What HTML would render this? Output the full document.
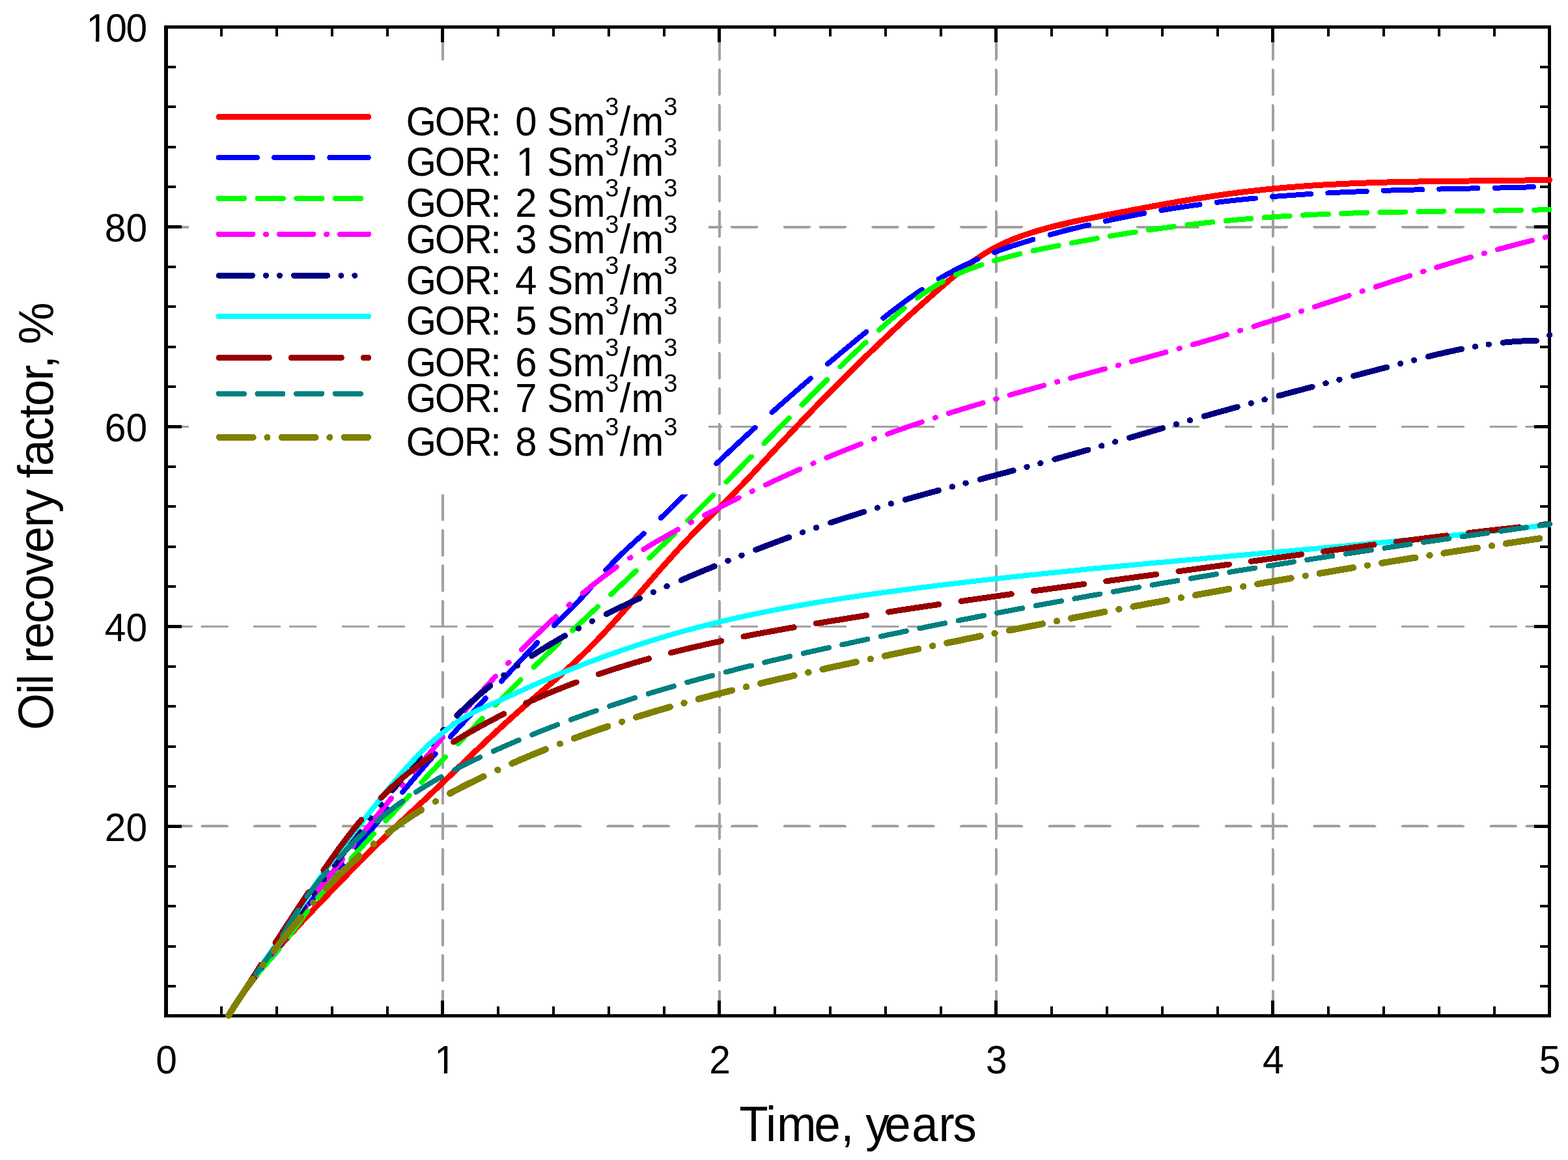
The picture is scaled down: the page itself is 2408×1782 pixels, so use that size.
<!DOCTYPE html>
<html><head><meta charset="utf-8"><title>Oil recovery factor vs time</title>
<style>
html,body{margin:0;padding:0;background:#fff;}
svg{display:block;}
text{font-family:"Liberation Sans",Arial,sans-serif;fill:#000;}
</style></head><body>
<svg width="2408" height="1782" viewBox="0 0 2408 1782">
<rect x="0" y="0" width="2408" height="1782" fill="#fff"/>

<g stroke="#a0a0a0" stroke-width="3.9" fill="none" stroke-linecap="round" shape-rendering="crispEdges">
<line x1="679.9" y1="1560.7" x2="679.9" y2="41.5" stroke-dasharray="38.3 16.13"/>
<line x1="1104.8" y1="1560.7" x2="1104.8" y2="41.5" stroke-dasharray="38.3 16.13"/>
<line x1="1529.7" y1="1560.7" x2="1529.7" y2="41.5" stroke-dasharray="38.3 16.13"/>
<line x1="1954.6" y1="1560.7" x2="1954.6" y2="41.5" stroke-dasharray="38.3 16.13"/>
<line x1="255.4" y1="1269.4" x2="2379.5" y2="1269.4" stroke-dasharray="38.5 16.5 38.5 42.1"/>
<line x1="255.4" y1="962.5" x2="2379.5" y2="962.5" stroke-dasharray="38.5 16.5 38.5 42.1"/>
<line x1="255.4" y1="655.5" x2="2379.5" y2="655.5" stroke-dasharray="38.5 16.5 38.5 42.1"/>
<line x1="255.4" y1="348.6" x2="2379.5" y2="348.6" stroke-dasharray="38.5 16.5 38.5 42.1"/>
</g>
<g fill="#000">
<rect x="252" y="39" width="6" height="1524"/>
<rect x="2377" y="39" width="5" height="1524"/>
<rect x="252" y="39" width="2130" height="5"/>
<rect x="252" y="1558" width="2130" height="5"/>
</g>
<g stroke="#000" fill="none" shape-rendering="crispEdges">
<line x1="340.0" y1="1558" x2="340.0" y2="1546" stroke-width="4"/>
<line x1="340.0" y1="44" x2="340.0" y2="56" stroke-width="4"/>
<line x1="425.0" y1="1558" x2="425.0" y2="1546" stroke-width="4"/>
<line x1="425.0" y1="44" x2="425.0" y2="56" stroke-width="4"/>
<line x1="509.9" y1="1558" x2="509.9" y2="1546" stroke-width="4"/>
<line x1="509.9" y1="44" x2="509.9" y2="56" stroke-width="4"/>
<line x1="594.9" y1="1558" x2="594.9" y2="1546" stroke-width="4"/>
<line x1="594.9" y1="44" x2="594.9" y2="56" stroke-width="4"/>
<line x1="679.9" y1="1558" x2="679.9" y2="1537" stroke-width="5"/>
<line x1="679.9" y1="44" x2="679.9" y2="65" stroke-width="5"/>
<line x1="764.9" y1="1558" x2="764.9" y2="1546" stroke-width="4"/>
<line x1="764.9" y1="44" x2="764.9" y2="56" stroke-width="4"/>
<line x1="849.9" y1="1558" x2="849.9" y2="1546" stroke-width="4"/>
<line x1="849.9" y1="44" x2="849.9" y2="56" stroke-width="4"/>
<line x1="934.8" y1="1558" x2="934.8" y2="1546" stroke-width="4"/>
<line x1="934.8" y1="44" x2="934.8" y2="56" stroke-width="4"/>
<line x1="1019.8" y1="1558" x2="1019.8" y2="1546" stroke-width="4"/>
<line x1="1019.8" y1="44" x2="1019.8" y2="56" stroke-width="4"/>
<line x1="1104.8" y1="1558" x2="1104.8" y2="1537" stroke-width="5"/>
<line x1="1104.8" y1="44" x2="1104.8" y2="65" stroke-width="5"/>
<line x1="1189.8" y1="1558" x2="1189.8" y2="1546" stroke-width="4"/>
<line x1="1189.8" y1="44" x2="1189.8" y2="56" stroke-width="4"/>
<line x1="1274.8" y1="1558" x2="1274.8" y2="1546" stroke-width="4"/>
<line x1="1274.8" y1="44" x2="1274.8" y2="56" stroke-width="4"/>
<line x1="1359.7" y1="1558" x2="1359.7" y2="1546" stroke-width="4"/>
<line x1="1359.7" y1="44" x2="1359.7" y2="56" stroke-width="4"/>
<line x1="1444.7" y1="1558" x2="1444.7" y2="1546" stroke-width="4"/>
<line x1="1444.7" y1="44" x2="1444.7" y2="56" stroke-width="4"/>
<line x1="1529.7" y1="1558" x2="1529.7" y2="1537" stroke-width="5"/>
<line x1="1529.7" y1="44" x2="1529.7" y2="65" stroke-width="5"/>
<line x1="1614.7" y1="1558" x2="1614.7" y2="1546" stroke-width="4"/>
<line x1="1614.7" y1="44" x2="1614.7" y2="56" stroke-width="4"/>
<line x1="1699.7" y1="1558" x2="1699.7" y2="1546" stroke-width="4"/>
<line x1="1699.7" y1="44" x2="1699.7" y2="56" stroke-width="4"/>
<line x1="1784.6" y1="1558" x2="1784.6" y2="1546" stroke-width="4"/>
<line x1="1784.6" y1="44" x2="1784.6" y2="56" stroke-width="4"/>
<line x1="1869.6" y1="1558" x2="1869.6" y2="1546" stroke-width="4"/>
<line x1="1869.6" y1="44" x2="1869.6" y2="56" stroke-width="4"/>
<line x1="1954.6" y1="1558" x2="1954.6" y2="1537" stroke-width="5"/>
<line x1="1954.6" y1="44" x2="1954.6" y2="65" stroke-width="5"/>
<line x1="2039.6" y1="1558" x2="2039.6" y2="1546" stroke-width="4"/>
<line x1="2039.6" y1="44" x2="2039.6" y2="56" stroke-width="4"/>
<line x1="2124.6" y1="1558" x2="2124.6" y2="1546" stroke-width="4"/>
<line x1="2124.6" y1="44" x2="2124.6" y2="56" stroke-width="4"/>
<line x1="2209.5" y1="1558" x2="2209.5" y2="1546" stroke-width="4"/>
<line x1="2209.5" y1="44" x2="2209.5" y2="56" stroke-width="4"/>
<line x1="2294.5" y1="1558" x2="2294.5" y2="1546" stroke-width="4"/>
<line x1="2294.5" y1="44" x2="2294.5" y2="56" stroke-width="4"/>
<line x1="258" y1="1515.0" x2="270" y2="1515.0" stroke-width="4"/>
<line x1="2377" y1="1515.0" x2="2365" y2="1515.0" stroke-width="4"/>
<line x1="258" y1="1453.6" x2="270" y2="1453.6" stroke-width="4"/>
<line x1="2377" y1="1453.6" x2="2365" y2="1453.6" stroke-width="4"/>
<line x1="258" y1="1392.2" x2="270" y2="1392.2" stroke-width="4"/>
<line x1="2377" y1="1392.2" x2="2365" y2="1392.2" stroke-width="4"/>
<line x1="258" y1="1330.8" x2="270" y2="1330.8" stroke-width="4"/>
<line x1="2377" y1="1330.8" x2="2365" y2="1330.8" stroke-width="4"/>
<line x1="258" y1="1269.4" x2="279" y2="1269.4" stroke-width="5"/>
<line x1="2377" y1="1269.4" x2="2356" y2="1269.4" stroke-width="5"/>
<line x1="258" y1="1208.0" x2="270" y2="1208.0" stroke-width="4"/>
<line x1="2377" y1="1208.0" x2="2365" y2="1208.0" stroke-width="4"/>
<line x1="258" y1="1146.7" x2="270" y2="1146.7" stroke-width="4"/>
<line x1="2377" y1="1146.7" x2="2365" y2="1146.7" stroke-width="4"/>
<line x1="258" y1="1085.3" x2="270" y2="1085.3" stroke-width="4"/>
<line x1="2377" y1="1085.3" x2="2365" y2="1085.3" stroke-width="4"/>
<line x1="258" y1="1023.9" x2="270" y2="1023.9" stroke-width="4"/>
<line x1="2377" y1="1023.9" x2="2365" y2="1023.9" stroke-width="4"/>
<line x1="258" y1="962.5" x2="279" y2="962.5" stroke-width="5"/>
<line x1="2377" y1="962.5" x2="2356" y2="962.5" stroke-width="5"/>
<line x1="258" y1="901.1" x2="270" y2="901.1" stroke-width="4"/>
<line x1="2377" y1="901.1" x2="2365" y2="901.1" stroke-width="4"/>
<line x1="258" y1="839.7" x2="270" y2="839.7" stroke-width="4"/>
<line x1="2377" y1="839.7" x2="2365" y2="839.7" stroke-width="4"/>
<line x1="258" y1="778.3" x2="270" y2="778.3" stroke-width="4"/>
<line x1="2377" y1="778.3" x2="2365" y2="778.3" stroke-width="4"/>
<line x1="258" y1="716.9" x2="270" y2="716.9" stroke-width="4"/>
<line x1="2377" y1="716.9" x2="2365" y2="716.9" stroke-width="4"/>
<line x1="258" y1="655.5" x2="279" y2="655.5" stroke-width="5"/>
<line x1="2377" y1="655.5" x2="2356" y2="655.5" stroke-width="5"/>
<line x1="258" y1="594.1" x2="270" y2="594.1" stroke-width="4"/>
<line x1="2377" y1="594.1" x2="2365" y2="594.1" stroke-width="4"/>
<line x1="258" y1="532.7" x2="270" y2="532.7" stroke-width="4"/>
<line x1="2377" y1="532.7" x2="2365" y2="532.7" stroke-width="4"/>
<line x1="258" y1="471.3" x2="270" y2="471.3" stroke-width="4"/>
<line x1="2377" y1="471.3" x2="2365" y2="471.3" stroke-width="4"/>
<line x1="258" y1="410.0" x2="270" y2="410.0" stroke-width="4"/>
<line x1="2377" y1="410.0" x2="2365" y2="410.0" stroke-width="4"/>
<line x1="258" y1="348.6" x2="279" y2="348.6" stroke-width="5"/>
<line x1="2377" y1="348.6" x2="2356" y2="348.6" stroke-width="5"/>
<line x1="258" y1="287.2" x2="270" y2="287.2" stroke-width="4"/>
<line x1="2377" y1="287.2" x2="2365" y2="287.2" stroke-width="4"/>
<line x1="258" y1="225.8" x2="270" y2="225.8" stroke-width="4"/>
<line x1="2377" y1="225.8" x2="2365" y2="225.8" stroke-width="4"/>
<line x1="258" y1="164.4" x2="270" y2="164.4" stroke-width="4"/>
<line x1="2377" y1="164.4" x2="2365" y2="164.4" stroke-width="4"/>
<line x1="258" y1="103.0" x2="270" y2="103.0" stroke-width="4"/>
<line x1="2377" y1="103.0" x2="2365" y2="103.0" stroke-width="4"/>
</g>
<g fill="none" stroke-linecap="round" stroke-linejoin="round" shape-rendering="crispEdges">
<path d="M351.0,1560.0 L352.1,1558.3 L353.1,1556.6 L354.2,1554.9 L355.3,1553.3 L356.4,1551.6 L357.5,1549.9 L358.5,1548.2 L359.6,1546.6 L360.7,1544.9 L361.8,1543.2 L362.9,1541.6 L364.0,1539.9 L365.2,1538.2 L366.3,1536.6 L367.4,1534.9 L368.5,1533.3 L369.6,1531.6 L370.8,1530.0 L371.9,1528.4 L373.0,1526.7 L374.2,1525.1 L375.3,1523.4 L376.5,1521.8 L377.6,1520.2 L378.8,1518.5 L380.0,1516.9 L381.1,1515.3 L382.3,1513.7 L383.5,1512.1 L384.6,1510.5 L385.8,1508.8 L387.0,1507.2 L388.2,1505.6 L389.4,1504.0 L390.6,1502.4 L391.8,1500.8 L393.0,1499.2 L394.2,1497.6 L395.4,1496.1 L396.6,1494.5 L397.8,1492.9 L399.0,1491.3 L400.3,1489.7 L401.5,1488.2 L402.7,1486.6 L404.0,1485.0 L405.2,1483.4 L406.4,1481.9 L407.7,1480.3 L408.9,1478.8 L410.2,1477.2 L411.5,1475.7 L412.7,1474.1 L414.0,1472.6 L415.2,1471.0 L416.5,1469.5 L417.8,1467.9 L419.1,1466.4 L420.3,1464.9 L421.6,1463.3 L422.9,1461.8 L424.2,1460.3 L425.5,1458.7 L426.8,1457.2 L428.1,1455.7 L429.4,1454.2 L430.7,1452.7 L432.0,1451.2 L433.3,1449.7 L434.6,1448.1 L435.9,1446.6 L437.2,1445.1 L438.6,1443.6 L439.9,1442.1 L441.2,1440.7 L442.5,1439.2 L443.9,1437.7 L445.2,1436.2 L446.5,1434.7 L447.9,1433.2 L449.2,1431.7 L450.6,1430.2 L451.9,1428.8 L453.3,1427.3 L454.6,1425.8 L456.0,1424.3 L457.3,1422.9 L458.7,1421.4 L460.0,1419.9 L461.4,1418.5 L462.7,1417.0 L464.1,1415.5 L465.5,1414.1 L466.8,1412.6 L468.2,1411.2 L469.6,1409.7 L470.9,1408.3 L472.3,1406.8 L473.7,1405.4 L475.1,1403.9 L476.4,1402.4 L477.8,1401.0 L479.2,1399.6 L480.6,1398.1 L481.9,1396.7 L483.3,1395.2 L484.7,1393.8 L486.1,1392.3 L487.5,1390.9 L488.9,1389.4 L490.2,1388.0 L491.6,1386.6 L493.0,1385.1 L494.4,1383.7 L495.8,1382.2 L497.2,1380.8 L498.6,1379.3 L499.9,1377.9 L501.3,1376.5 L502.7,1375.0 L504.1,1373.6 L505.5,1372.1 L506.9,1370.7 L508.3,1369.3 L509.7,1367.8 L511.0,1366.4 L512.4,1364.9 L513.8,1363.5 L515.2,1362.1 L516.6,1360.6 L518.0,1359.2 L519.4,1357.7 L520.8,1356.3 L522.2,1354.9 L523.5,1353.4 L524.9,1352.0 L526.3,1350.5 L527.7,1349.1 L529.1,1347.7 L530.5,1346.2 L531.9,1344.8 L533.3,1343.4 L534.7,1341.9 L536.1,1340.5 L537.5,1339.1 L538.9,1337.6 L540.3,1336.2 L541.7,1334.8 L543.1,1333.4 L544.5,1331.9 L545.9,1330.5 L547.3,1329.1 L548.7,1327.6 L550.1,1326.2 L551.5,1324.8 L552.9,1323.4 L554.3,1322.0 L555.7,1320.5 L557.1,1319.1 L558.5,1317.7 L559.9,1316.3 L561.3,1314.9 L562.7,1313.5 L564.2,1312.0 L565.6,1310.6 L567.0,1309.2 L568.4,1307.8 L569.8,1306.4 L571.3,1305.0 L572.7,1303.6 L574.1,1302.2 L575.5,1300.8 L577.0,1299.4 L578.4,1298.0 L579.8,1296.6 L581.3,1295.2 L582.7,1293.8 L584.1,1292.4 L585.6,1291.1 L587.0,1289.7 L588.4,1288.3 L589.9,1286.9 L591.3,1285.5 L592.8,1284.1 L594.2,1282.8 L595.7,1281.4 L597.1,1280.0 L598.6,1278.6 L600.0,1277.2 L601.5,1275.9 L602.9,1274.5 L604.4,1273.1 L605.8,1271.8 L607.3,1270.4 L608.7,1269.0 L610.2,1267.6 L611.7,1266.3 L613.1,1264.9 L614.6,1263.5 L616.0,1262.2 L617.5,1260.8 L619.0,1259.4 L620.4,1258.1 L621.9,1256.7 L623.4,1255.4 L624.8,1254.0 L626.3,1252.6 L627.7,1251.3 L629.2,1249.9 L630.7,1248.5 L632.1,1247.2 L633.6,1245.8 L635.1,1244.5 L636.5,1243.1 L638.0,1241.7 L639.5,1240.4 L640.9,1239.0 L642.4,1237.6 L643.8,1236.3 L645.3,1234.9 L646.8,1233.5 L648.2,1232.2 L649.7,1230.8 L651.2,1229.5 L652.6,1228.1 L654.1,1226.7 L655.5,1225.4 L657.0,1224.0 L658.5,1222.6 L659.9,1221.2 L661.4,1219.9 L662.8,1218.5 L664.3,1217.1 L665.7,1215.8 L667.2,1214.4 L668.6,1213.0 L670.1,1211.6 L671.5,1210.2 L673.0,1208.9 L674.4,1207.5 L675.9,1206.1 L677.3,1204.7 L678.8,1203.4 L680.2,1202.0 L681.7,1200.6 L683.1,1199.2 L684.6,1197.8 L686.0,1196.4 L687.5,1195.1 L688.9,1193.7 L690.4,1192.3 L691.8,1190.9 L693.2,1189.5 L694.7,1188.1 L696.1,1186.8 L697.6,1185.4 L699.0,1184.0 L700.5,1182.6 L701.9,1181.2 L703.3,1179.8 L704.8,1178.4 L706.2,1177.1 L707.7,1175.7 L709.1,1174.3 L710.6,1172.9 L712.0,1171.5 L713.4,1170.1 L714.9,1168.8 L716.3,1167.4 L717.8,1166.0 L719.2,1164.6 L720.7,1163.2 L722.1,1161.8 L723.6,1160.5 L725.0,1159.1 L726.4,1157.7 L727.9,1156.3 L729.3,1154.9 L730.8,1153.5 L732.2,1152.2 L733.7,1150.8 L735.1,1149.4 L736.6,1148.0 L738.0,1146.7 L739.5,1145.3 L740.9,1143.9 L742.4,1142.5 L743.8,1141.1 L745.3,1139.8 L746.7,1138.4 L748.2,1137.0 L749.6,1135.7 L751.1,1134.3 L752.6,1132.9 L754.0,1131.6 L755.5,1130.2 L756.9,1128.8 L758.4,1127.5 L759.9,1126.1 L761.3,1124.7 L762.8,1123.4 L764.3,1122.0 L765.7,1120.7 L767.2,1119.3 L768.7,1117.9 L770.1,1116.6 L771.6,1115.2 L773.1,1113.9 L774.5,1112.5 L776.0,1111.2 L777.5,1109.8 L779.0,1108.5 L780.5,1107.2 L781.9,1105.8 L783.4,1104.5 L784.9,1103.1 L786.4,1101.8 L787.9,1100.5 L789.4,1099.1 L790.9,1097.8 L792.4,1096.5 L793.9,1095.1 L795.4,1093.8 L796.9,1092.5 L798.4,1091.2 L799.9,1089.9 L801.4,1088.5 L802.9,1087.2 L804.4,1085.9 L805.9,1084.6 L807.4,1083.3 L808.9,1082.0 L810.4,1080.7 L811.9,1079.4 L813.4,1078.1 L815.0,1076.7 L816.5,1075.4 L818.0,1074.1 L819.5,1072.8 L821.0,1071.5 L822.5,1070.2 L824.0,1068.9 L825.6,1067.6 L827.1,1066.3 L828.6,1065.0 L830.1,1063.7 L831.6,1062.4 L833.1,1061.1 L834.7,1059.8 L836.2,1058.5 L837.7,1057.2 L839.2,1055.9 L840.7,1054.6 L842.2,1053.3 L843.7,1051.9 L845.3,1050.6 L846.8,1049.3 L848.3,1048.0 L849.8,1046.7 L851.3,1045.4 L852.8,1044.1 L854.3,1042.7 L855.8,1041.4 L857.3,1040.1 L858.8,1038.8 L860.3,1037.5 L861.8,1036.1 L863.3,1034.8 L864.8,1033.5 L866.3,1032.1 L867.8,1030.8 L869.3,1029.5 L870.7,1028.1 L872.2,1026.8 L873.7,1025.4 L875.2,1024.1 L876.7,1022.7 L878.1,1021.4 L879.6,1020.0 L881.1,1018.6 L882.5,1017.3 L884.0,1015.9 L885.5,1014.6 L886.9,1013.2 L888.4,1011.8 L889.8,1010.4 L891.3,1009.0 L892.7,1007.7 L894.2,1006.3 L895.6,1004.9 L897.0,1003.5 L898.5,1002.1 L899.9,1000.7 L901.3,999.3 L902.8,997.9 L904.2,996.5 L905.6,995.0 L907.0,993.6 L908.4,992.2 L909.8,990.8 L911.2,989.3 L912.6,987.9 L914.0,986.5 L915.4,985.0 L916.8,983.6 L918.2,982.2 L919.6,980.7 L921.0,979.3 L922.3,977.8 L923.7,976.4 L925.1,974.9 L926.5,973.4 L927.8,972.0 L929.2,970.5 L930.6,969.0 L931.9,967.6 L933.3,966.1 L934.6,964.6 L936.0,963.2 L937.3,961.7 L938.7,960.2 L940.0,958.7 L941.4,957.3 L942.7,955.8 L944.1,954.3 L945.4,952.8 L946.8,951.3 L948.1,949.8 L949.4,948.4 L950.8,946.9 L952.1,945.4 L953.4,943.9 L954.8,942.4 L956.1,940.9 L957.4,939.4 L958.8,937.9 L960.1,936.4 L961.4,934.9 L962.7,933.4 L964.1,931.9 L965.4,930.4 L966.7,928.9 L968.0,927.4 L969.4,925.9 L970.7,924.4 L972.0,922.9 L973.3,921.4 L974.6,919.9 L976.0,918.4 L977.3,916.9 L978.6,915.4 L979.9,913.9 L981.2,912.4 L982.5,910.9 L983.9,909.3 L985.2,907.8 L986.5,906.3 L987.8,904.8 L989.1,903.3 L990.4,901.8 L991.7,900.3 L993.1,898.8 L994.4,897.3 L995.7,895.8 L997.0,894.3 L998.3,892.8 L999.6,891.3 L1000.9,889.8 L1002.3,888.2 L1003.6,886.7 L1004.9,885.2 L1006.2,883.7 L1007.5,882.2 L1008.8,880.7 L1010.2,879.2 L1011.5,877.7 L1012.8,876.2 L1014.1,874.7 L1015.4,873.2 L1016.8,871.7 L1018.1,870.2 L1019.4,868.7 L1020.7,867.2 L1022.1,865.7 L1023.4,864.2 L1024.7,862.7 L1026.1,861.3 L1027.4,859.8 L1028.7,858.3 L1030.1,856.8 L1031.4,855.3 L1032.7,853.8 L1034.1,852.3 L1035.4,850.8 L1036.7,849.4 L1038.1,847.9 L1039.4,846.4 L1040.8,844.9 L1042.1,843.4 L1043.5,842.0 L1044.8,840.5 L1046.2,839.0 L1047.5,837.6 L1048.9,836.1 L1050.3,834.6 L1051.6,833.2 L1053.0,831.7 L1054.4,830.3 L1055.7,828.8 L1057.1,827.3 L1058.5,825.9 L1059.9,824.5 L1061.2,823.0 L1062.6,821.6 L1064.0,820.1 L1065.4,818.7 L1066.8,817.3 L1068.2,815.8 L1069.6,814.4 L1071.0,813.0 L1072.4,811.5 L1073.8,810.1 L1075.2,808.7 L1076.6,807.3 L1078.0,805.9 L1079.4,804.5 L1080.8,803.1 L1082.3,801.7 L1083.7,800.3 L1085.1,798.9 L1086.5,797.5 L1088.0,796.1 L1089.4,794.7 L1090.8,793.3 L1092.3,791.9 L1093.7,790.5 L1095.1,789.1 L1096.6,787.7 L1098.0,786.3 L1099.4,784.9 L1100.9,783.5 L1102.3,782.1 L1103.7,780.7 L1105.2,779.3 L1106.6,777.9 L1108.0,776.5 L1109.5,775.1 L1110.9,773.7 L1112.3,772.3 L1113.8,770.9 L1115.2,769.5 L1116.6,768.1 L1118.0,766.7 L1119.5,765.3 L1120.9,763.9 L1122.3,762.5 L1123.7,761.1 L1125.1,759.7 L1126.5,758.2 L1127.9,756.8 L1129.3,755.4 L1130.8,754.0 L1132.1,752.5 L1133.5,751.1 L1134.9,749.7 L1136.3,748.2 L1137.7,746.8 L1139.1,745.3 L1140.5,743.9 L1141.9,742.4 L1143.3,741.0 L1144.6,739.5 L1146.0,738.1 L1147.4,736.6 L1148.8,735.2 L1150.1,733.7 L1151.5,732.3 L1152.9,730.8 L1154.2,729.3 L1155.6,727.9 L1157.0,726.4 L1158.3,724.9 L1159.7,723.5 L1161.1,722.0 L1162.4,720.6 L1163.8,719.1 L1165.1,717.6 L1166.5,716.1 L1167.9,714.7 L1169.2,713.2 L1170.6,711.7 L1171.9,710.3 L1173.3,708.8 L1174.6,707.3 L1176.0,705.9 L1177.4,704.4 L1178.7,702.9 L1180.1,701.5 L1181.4,700.0 L1182.8,698.5 L1184.1,697.1 L1185.5,695.6 L1186.9,694.1 L1188.2,692.7 L1189.6,691.2 L1191.0,689.7 L1192.3,688.3 L1193.7,686.8 L1195.0,685.4 L1196.4,683.9 L1197.8,682.4 L1199.1,681.0 L1200.5,679.5 L1201.9,678.1 L1203.2,676.6 L1204.6,675.1 L1206.0,673.7 L1207.4,672.2 L1208.7,670.8 L1210.1,669.3 L1211.5,667.9 L1212.8,666.4 L1214.2,665.0 L1215.6,663.5 L1217.0,662.0 L1218.3,660.6 L1219.7,659.1 L1221.1,657.7 L1222.5,656.2 L1223.8,654.8 L1225.2,653.3 L1226.6,651.9 L1228.0,650.4 L1229.4,649.0 L1230.7,647.6 L1232.1,646.1 L1233.5,644.7 L1234.9,643.2 L1236.3,641.8 L1237.7,640.3 L1239.0,638.9 L1240.4,637.5 L1241.8,636.0 L1243.2,634.6 L1244.6,633.1 L1246.0,631.7 L1247.4,630.3 L1248.8,628.8 L1250.1,627.4 L1251.5,625.9 L1252.9,624.5 L1254.3,623.1 L1255.7,621.6 L1257.1,620.2 L1258.5,618.8 L1259.9,617.3 L1261.3,615.9 L1262.7,614.5 L1264.1,613.1 L1265.5,611.6 L1266.9,610.2 L1268.3,608.8 L1269.7,607.3 L1271.1,605.9 L1272.5,604.5 L1273.9,603.1 L1275.3,601.6 L1276.7,600.2 L1278.1,598.8 L1279.5,597.4 L1280.9,596.0 L1282.3,594.5 L1283.7,593.1 L1285.1,591.7 L1286.6,590.3 L1288.0,588.9 L1289.4,587.4 L1290.8,586.0 L1292.2,584.6 L1293.6,583.2 L1295.0,581.8 L1296.4,580.4 L1297.9,579.0 L1299.3,577.5 L1300.7,576.1 L1302.1,574.7 L1303.5,573.3 L1304.9,571.9 L1306.4,570.5 L1307.8,569.1 L1309.2,567.7 L1310.6,566.3 L1312.1,564.9 L1313.5,563.5 L1314.9,562.1 L1316.3,560.7 L1317.8,559.3 L1319.2,557.9 L1320.6,556.5 L1322.1,555.1 L1323.5,553.7 L1324.9,552.3 L1326.3,550.9 L1327.8,549.5 L1329.2,548.1 L1330.6,546.7 L1332.1,545.3 L1333.5,543.9 L1335.0,542.5 L1336.4,541.2 L1337.8,539.8 L1339.3,538.4 L1340.7,537.0 L1342.2,535.6 L1343.6,534.2 L1345.0,532.8 L1346.5,531.5 L1347.9,530.1 L1349.4,528.7 L1350.8,527.3 L1352.3,525.9 L1353.7,524.6 L1355.2,523.2 L1356.6,521.8 L1358.1,520.4 L1359.5,519.1 L1361.0,517.7 L1362.4,516.3 L1363.9,514.9 L1365.3,513.6 L1366.8,512.2 L1368.3,510.8 L1369.7,509.5 L1371.2,508.1 L1372.6,506.7 L1374.1,505.4 L1375.6,504.0 L1377.0,502.6 L1378.5,501.3 L1380.0,499.9 L1381.4,498.6 L1382.9,497.2 L1384.4,495.8 L1385.8,494.5 L1387.3,493.1 L1388.8,491.8 L1390.2,490.4 L1391.7,489.1 L1393.2,487.7 L1394.7,486.4 L1396.1,485.0 L1397.6,483.7 L1399.1,482.3 L1400.6,481.0 L1402.0,479.6 L1403.5,478.3 L1405.0,477.0 L1406.5,475.6 L1408.0,474.3 L1409.5,472.9 L1410.9,471.6 L1412.4,470.3 L1413.9,468.9 L1415.4,467.6 L1416.9,466.3 L1418.4,464.9 L1419.9,463.6 L1421.4,462.3 L1422.9,460.9 L1424.4,459.6 L1425.9,458.3 L1427.4,457.0 L1428.9,455.6 L1430.4,454.3 L1431.9,453.0 L1433.4,451.7 L1434.9,450.4 L1436.4,449.0 L1437.9,447.7 L1439.4,446.4 L1440.9,445.1 L1442.4,443.8 L1443.9,442.5 L1445.4,441.2 L1446.9,439.8 L1448.4,438.5 L1450.0,437.2 L1451.5,435.9 L1453.0,434.6 L1454.5,433.3 L1456.0,432.0 L1457.6,430.8 L1459.1,429.5 L1460.6,428.2 L1462.1,426.9 L1463.7,425.6 L1465.2,424.3 L1466.8,423.1 L1468.3,421.8 L1469.9,420.5 L1471.4,419.3 L1473.0,418.0 L1474.5,416.8 L1476.1,415.5 L1477.7,414.3 L1479.2,413.1 L1480.8,411.8 L1482.4,410.6 L1484.0,409.4 L1485.5,408.2 L1487.1,407.0 L1488.7,405.8 L1490.3,404.6 L1492.0,403.4 L1493.6,402.2 L1495.2,401.1 L1496.8,399.9 L1498.4,398.8 L1500.1,397.6 L1501.7,396.5 L1503.4,395.4 L1505.0,394.3 L1506.7,393.1 L1508.4,392.1 L1510.0,391.0 L1511.7,389.9 L1513.4,388.8 L1515.1,387.8 L1516.8,386.8 L1518.5,385.7 L1520.3,384.7 L1522.0,383.7 L1523.7,382.8 L1525.5,381.8 L1527.2,380.8 L1529.0,379.9 L1530.8,379.0 L1532.5,378.1 L1534.3,377.2 L1536.1,376.3 L1537.9,375.4 L1539.7,374.6 L1541.5,373.7 L1543.3,372.9 L1545.2,372.1 L1547.0,371.3 L1548.8,370.5 L1550.7,369.7 L1552.5,368.9 L1554.3,368.2 L1556.2,367.4 L1558.1,366.7 L1559.9,366.0 L1561.8,365.3 L1563.7,364.6 L1565.5,363.9 L1567.4,363.2 L1569.3,362.5 L1571.2,361.8 L1573.1,361.2 L1575.0,360.5 L1576.8,359.9 L1578.7,359.3 L1580.6,358.6 L1582.5,358.0 L1584.4,357.4 L1586.3,356.8 L1588.3,356.2 L1590.2,355.6 L1592.1,355.0 L1594.0,354.4 L1595.9,353.9 L1597.9,353.3 L1599.9,352.7 L1601.9,352.1 L1603.9,351.6 L1605.9,351.0 L1607.9,350.4 L1609.9,349.9 L1611.9,349.4 L1613.9,348.8 L1615.9,348.3 L1617.9,347.8 L1619.9,347.3 L1621.9,346.8 L1623.9,346.3 L1625.9,345.8 L1627.9,345.3 L1629.9,344.8 L1631.9,344.3 L1633.9,343.9 L1635.9,343.4 L1637.9,342.9 L1639.9,342.5 L1641.9,342.0 L1643.9,341.6 L1645.9,341.1 L1647.9,340.7 L1649.9,340.2 L1651.9,339.8 L1653.9,339.4 L1655.9,339.0 L1657.9,338.5 L1659.9,338.1 L1661.9,337.7 L1663.9,337.3 L1665.9,336.9 L1667.9,336.5 L1669.9,336.1 L1671.9,335.7 L1673.9,335.3 L1675.9,334.9 L1677.9,334.5 L1679.9,334.1 L1681.9,333.7 L1683.9,333.3 L1685.9,332.9 L1687.9,332.5 L1689.9,332.1 L1691.9,331.8 L1693.9,331.4 L1695.9,331.0 L1697.9,330.6 L1699.9,330.2 L1701.9,329.8 L1703.9,329.5 L1705.9,329.1 L1707.9,328.7 L1709.9,328.3 L1711.9,327.9 L1713.9,327.5 L1715.9,327.2 L1717.9,326.8 L1719.9,326.4 L1721.9,326.0 L1723.9,325.6 L1725.9,325.2 L1727.9,324.9 L1729.9,324.5 L1731.9,324.1 L1733.9,323.7 L1735.9,323.3 L1737.9,323.0 L1739.9,322.6 L1741.9,322.2 L1743.9,321.8 L1745.9,321.5 L1747.9,321.1 L1749.9,320.7 L1751.9,320.3 L1753.9,319.9 L1755.9,319.6 L1757.9,319.2 L1759.9,318.8 L1761.9,318.5 L1763.9,318.1 L1765.9,317.7 L1767.9,317.3 L1769.9,317.0 L1771.9,316.6 L1773.9,316.2 L1775.9,315.9 L1777.9,315.5 L1779.9,315.2 L1781.9,314.8 L1783.9,314.4 L1785.9,314.1 L1787.9,313.7 L1789.9,313.3 L1791.9,313.0 L1793.9,312.6 L1795.9,312.3 L1797.9,311.9 L1799.9,311.6 L1801.9,311.2 L1803.9,310.9 L1805.9,310.5 L1807.9,310.2 L1809.9,309.8 L1811.9,309.5 L1813.9,309.1 L1815.9,308.8 L1817.9,308.5 L1819.9,308.1 L1821.9,307.8 L1823.9,307.5 L1825.9,307.1 L1827.9,306.8 L1829.9,306.5 L1831.9,306.1 L1833.9,305.8 L1835.9,305.5 L1837.9,305.1 L1839.9,304.8 L1841.9,304.5 L1843.9,304.2 L1845.9,303.9 L1847.9,303.6 L1849.9,303.2 L1851.9,302.9 L1853.9,302.6 L1855.9,302.3 L1857.9,302.0 L1859.9,301.7 L1861.9,301.4 L1863.9,301.1 L1865.9,300.8 L1867.9,300.5 L1869.9,300.2 L1871.9,299.9 L1873.9,299.6 L1875.9,299.3 L1877.9,299.1 L1879.9,298.8 L1881.9,298.5 L1883.9,298.2 L1885.9,297.9 L1887.9,297.7 L1889.9,297.4 L1891.9,297.1 L1893.9,296.9 L1895.9,296.6 L1897.9,296.3 L1899.9,296.1 L1901.9,295.8 L1903.9,295.6 L1905.9,295.3 L1907.9,295.1 L1909.9,294.8 L1911.9,294.6 L1913.9,294.3 L1915.9,294.1 L1917.9,293.9 L1919.9,293.6 L1921.9,293.4 L1923.9,293.2 L1925.9,293.0 L1927.9,292.7 L1929.9,292.5 L1931.9,292.3 L1933.9,292.1 L1935.9,291.9 L1937.9,291.6 L1939.9,291.4 L1941.9,291.2 L1943.9,291.0 L1945.9,290.8 L1947.9,290.6 L1949.9,290.4 L1951.9,290.2 L1953.9,290.0 L1955.9,289.8 L1957.9,289.6 L1959.9,289.5 L1961.9,289.3 L1963.9,289.1 L1965.9,288.9 L1967.9,288.7 L1969.9,288.6 L1971.9,288.4 L1973.9,288.2 L1975.9,288.0 L1977.9,287.9 L1979.9,287.7 L1981.9,287.5 L1983.9,287.4 L1985.9,287.2 L1987.9,287.1 L1989.9,286.9 L1991.9,286.7 L1993.9,286.6 L1995.9,286.4 L1997.9,286.3 L1999.9,286.2 L2001.9,286.0 L2003.9,285.9 L2005.9,285.7 L2007.9,285.6 L2009.9,285.4 L2011.9,285.3 L2013.9,285.2 L2015.9,285.0 L2017.9,284.9 L2019.9,284.8 L2021.9,284.7 L2023.9,284.5 L2025.9,284.4 L2027.9,284.3 L2029.9,284.2 L2031.9,284.0 L2033.9,283.9 L2035.9,283.8 L2037.9,283.7 L2039.9,283.6 L2041.9,283.5 L2043.9,283.4 L2045.9,283.3 L2047.9,283.2 L2049.9,283.1 L2051.9,283.0 L2053.9,282.9 L2055.9,282.8 L2057.9,282.7 L2059.9,282.6 L2061.9,282.5 L2063.9,282.4 L2065.9,282.3 L2067.9,282.2 L2069.9,282.1 L2071.9,282.0 L2073.9,281.9 L2075.9,281.8 L2077.9,281.8 L2079.9,281.7 L2081.9,281.6 L2083.9,281.5 L2085.9,281.4 L2087.9,281.4 L2089.9,281.3 L2091.9,281.2 L2093.9,281.1 L2095.9,281.1 L2097.9,281.0 L2099.9,280.9 L2101.9,280.8 L2103.9,280.8 L2105.9,280.7 L2107.9,280.6 L2109.9,280.6 L2111.9,280.5 L2113.9,280.5 L2115.9,280.4 L2117.9,280.3 L2119.9,280.3 L2121.9,280.2 L2123.9,280.2 L2125.9,280.1 L2127.9,280.0 L2129.9,280.0 L2131.9,279.9 L2133.9,279.9 L2135.9,279.8 L2137.9,279.8 L2139.9,279.7 L2141.9,279.7 L2143.9,279.6 L2145.9,279.6 L2147.9,279.5 L2149.9,279.5 L2151.9,279.5 L2153.9,279.4 L2155.9,279.4 L2157.9,279.3 L2159.9,279.3 L2161.9,279.3 L2163.9,279.2 L2165.9,279.2 L2167.9,279.1 L2169.9,279.1 L2171.9,279.1 L2173.9,279.0 L2175.9,279.0 L2177.9,279.0 L2179.9,278.9 L2181.9,278.9 L2183.9,278.9 L2185.9,278.8 L2187.9,278.8 L2189.9,278.8 L2191.9,278.7 L2193.9,278.7 L2195.9,278.7 L2197.9,278.6 L2199.9,278.6 L2201.9,278.6 L2203.9,278.6 L2205.9,278.5 L2207.9,278.5 L2209.9,278.5 L2211.9,278.5 L2213.9,278.4 L2215.9,278.4 L2217.9,278.4 L2219.9,278.4 L2221.9,278.3 L2223.9,278.3 L2225.9,278.3 L2227.9,278.3 L2229.9,278.2 L2231.9,278.2 L2233.9,278.2 L2235.9,278.2 L2237.9,278.1 L2239.9,278.1 L2241.9,278.1 L2243.9,278.1 L2245.9,278.1 L2247.9,278.0 L2249.9,278.0 L2251.9,278.0 L2253.9,278.0 L2255.9,278.0 L2257.9,277.9 L2259.9,277.9 L2261.9,277.9 L2263.9,277.9 L2265.9,277.9 L2267.9,277.8 L2269.9,277.8 L2271.9,277.8 L2273.9,277.8 L2275.9,277.8 L2277.9,277.7 L2279.9,277.7 L2281.9,277.7 L2283.9,277.7 L2285.9,277.7 L2287.9,277.6 L2289.9,277.6 L2291.9,277.6 L2293.9,277.6 L2295.9,277.5 L2297.9,277.5 L2299.9,277.5 L2301.9,277.5 L2303.9,277.5 L2305.9,277.4 L2307.9,277.4 L2309.9,277.4 L2311.9,277.4 L2313.9,277.3 L2315.9,277.3 L2317.9,277.3 L2319.9,277.3 L2321.9,277.2 L2323.9,277.2 L2325.9,277.2 L2327.9,277.2 L2329.9,277.1 L2331.9,277.1 L2333.9,277.1 L2335.9,277.1 L2337.9,277.0 L2339.9,277.0 L2341.9,277.0 L2343.9,276.9 L2345.9,276.9 L2347.9,276.9 L2349.9,276.8 L2351.9,276.8 L2353.9,276.8 L2355.9,276.7 L2357.9,276.7 L2359.9,276.7 L2361.9,276.6 L2363.9,276.6 L2365.9,276.6 L2367.9,276.5 L2369.9,276.5 L2371.9,276.5 L2373.9,276.4 L2375.9,276.4 L2377.9,276.3 L2379.5,276.3" stroke="#ff0000" stroke-width="9"/>
<path d="M351.0,1560.0 L352.0,1558.3 L352.9,1556.5 L353.9,1554.8 L354.9,1553.1 L355.9,1551.3 L356.9,1549.6 L357.9,1547.9 L358.9,1546.2 L360.0,1544.5 L361.0,1542.8 L362.1,1541.1 L363.1,1539.4 L364.2,1537.7 L365.3,1536.1 L366.4,1534.4 L367.5,1532.7 L368.6,1531.1 L369.7,1529.4 L370.8,1527.8 L371.9,1526.1 L373.1,1524.5 L374.2,1522.9 L375.4,1521.2 L376.5,1519.6 L377.7,1518.0 L378.9,1516.4 L380.1,1514.8 L381.3,1513.2 L382.5,1511.6 L383.7,1510.0 L384.9,1508.4 L386.1,1506.8 L387.3,1505.3 L388.5,1503.7 L389.8,1502.1 L391.0,1500.6 L391.9,1499.5 M413.2,1473.4 L413.8,1472.7 L415.0,1471.1 L416.3,1469.6 L417.6,1468.0 L418.8,1466.5 L420.1,1464.9 L421.3,1463.3 L422.5,1461.7 L423.8,1460.2 L425.0,1458.6 L426.2,1457.0 L427.4,1455.4 L428.6,1453.8 L429.8,1452.2 L431.0,1450.6 L432.2,1448.9 L433.4,1447.3 L434.6,1445.7 L435.7,1444.1 L436.9,1442.4 L438.0,1440.8 L439.2,1439.1 L440.3,1437.5 L441.4,1435.8 L442.6,1434.2 L443.7,1432.5 L444.8,1430.9 L446.0,1429.2 L447.1,1427.6 L448.2,1425.9 L449.3,1424.2 L450.4,1422.6 L451.6,1420.9 L452.7,1419.3 L453.8,1417.6 L454.9,1416.0 L456.0,1414.3 L456.2,1414.1 M475.1,1388.0 L476.0,1386.9 L477.2,1385.3 L478.4,1383.7 L479.7,1382.2 L480.9,1380.6 L482.2,1379.1 L483.5,1377.5 L484.7,1376.0 L486.0,1374.5 L487.3,1372.9 L488.6,1371.4 L489.9,1369.9 L491.2,1368.4 L492.5,1366.9 L493.8,1365.3 L495.1,1363.8 L496.4,1362.3 L497.7,1360.8 L499.0,1359.3 L500.3,1357.8 L501.7,1356.3 L503.0,1354.8 L504.3,1353.3 L505.6,1351.8 L507.0,1350.3 L508.3,1348.8 L509.6,1347.3 L510.9,1345.8 L512.3,1344.3 L513.6,1342.8 L514.9,1341.3 L516.2,1339.8 L517.5,1338.3 L518.9,1336.8 L520.2,1335.3 L521.5,1333.8 L522.8,1332.3 L524.1,1330.7 L525.4,1329.2 L525.8,1328.7 M547.4,1302.6 L548.3,1301.4 L549.6,1299.9 L550.9,1298.3 L552.1,1296.8 L553.4,1295.2 L554.6,1293.7 L555.9,1292.1 L557.2,1290.6 L558.4,1289.0 L559.7,1287.5 L561.0,1285.9 L562.2,1284.4 L563.5,1282.8 L564.8,1281.3 L566.0,1279.7 L567.3,1278.2 L568.6,1276.7 L569.8,1275.1 L571.1,1273.6 L572.4,1272.0 L573.6,1270.5 L574.9,1268.9 L576.2,1267.4 L577.4,1265.8 L578.7,1264.3 L580.0,1262.7 L581.2,1261.2 L582.5,1259.7 L583.8,1258.1 L585.1,1256.6 L586.3,1255.0 L587.6,1253.5 L588.9,1251.9 L590.2,1250.4 L591.4,1248.9 L592.7,1247.3 L594.0,1245.8 L595.3,1244.2 L596.0,1243.4 M617.8,1217.2 L618.3,1216.6 L619.6,1215.1 L620.9,1213.5 L622.2,1212.0 L623.5,1210.5 L624.8,1209.0 L626.1,1207.4 L627.3,1205.9 L628.6,1204.4 L629.9,1202.9 L631.2,1201.3 L632.5,1199.8 L633.8,1198.3 L635.1,1196.8 L636.4,1195.2 L637.7,1193.7 L639.0,1192.2 L640.3,1190.7 L641.6,1189.1 L642.9,1187.6 L644.2,1186.1 L645.5,1184.6 L646.8,1183.1 L648.1,1181.6 L649.4,1180.0 L650.7,1178.5 L652.0,1177.0 L653.3,1175.5 L654.6,1174.0 L655.9,1172.5 L657.2,1171.0 L658.5,1169.5 L659.9,1167.9 L661.2,1166.4 L662.5,1164.9 L663.8,1163.4 L665.1,1161.9 L666.4,1160.4 L667.7,1158.9 L668.5,1158.0 M691.7,1131.9 L692.9,1130.5 L694.3,1129.0 L695.6,1127.5 L696.9,1126.0 L698.3,1124.5 L699.6,1123.0 L701.0,1121.6 L702.3,1120.1 L703.6,1118.6 L705.0,1117.1 L706.3,1115.6 L707.7,1114.2 L709.0,1112.7 L710.4,1111.2 L711.7,1109.7 L713.1,1108.2 L714.4,1106.8 L715.8,1105.3 L717.1,1103.8 L718.5,1102.3 L719.8,1100.9 L721.2,1099.4 L722.5,1097.9 L723.9,1096.5 L725.2,1095.0 L726.6,1093.5 L727.9,1092.0 L729.3,1090.6 L730.7,1089.1 L732.0,1087.6 L733.4,1086.2 L734.7,1084.7 L736.1,1083.2 L737.4,1081.8 L738.8,1080.3 L740.1,1078.8 L741.5,1077.3 L742.9,1075.9 L744.2,1074.4 L745.6,1072.9 L745.9,1072.6 M770.1,1046.5 L771.4,1045.0 L772.7,1043.6 L774.1,1042.1 L775.4,1040.6 L776.8,1039.2 L778.2,1037.7 L779.5,1036.2 L780.9,1034.8 L782.2,1033.3 L783.6,1031.8 L784.9,1030.3 L786.3,1028.9 L787.7,1027.4 L789.0,1025.9 L790.4,1024.5 L791.7,1023.0 L793.1,1021.5 L794.4,1020.1 L795.8,1018.6 L797.2,1017.1 L798.5,1015.7 L799.9,1014.2 L801.2,1012.7 L802.6,1011.3 L804.0,1009.8 L805.3,1008.3 L806.7,1006.9 L808.1,1005.4 L809.4,1004.0 L810.8,1002.5 L812.2,1001.0 L813.5,999.6 L814.9,998.1 L816.3,996.7 L817.6,995.2 L819.0,993.8 L820.4,992.3 L821.8,990.9 L823.1,989.4 L824.5,988.0 L825.2,987.2 M850.8,961.1 L851.1,960.8 L852.5,959.4 L853.9,958.0 L855.3,956.6 L856.7,955.2 L858.2,953.8 L859.6,952.4 L861.0,951.0 L862.4,949.6 L863.8,948.1 L865.3,946.7 L866.7,945.3 L868.1,943.9 L869.5,942.5 L870.9,941.1 L872.4,939.7 L873.8,938.3 L875.2,936.9 L876.6,935.4 L878.0,934.0 L879.4,932.6 L880.8,931.2 L882.2,929.7 L883.6,928.3 L885.0,926.9 L886.4,925.4 L887.8,924.0 L889.2,922.5 L890.5,921.1 L891.9,919.6 L893.3,918.1 L894.7,916.7 L896.0,915.2 L897.4,913.7 L898.7,912.2 L900.1,910.8 L901.4,909.3 L902.7,907.8 L904.1,906.3 L905.4,904.8 L906.7,903.2 L907.7,902.0 M930.3,875.9 L931.6,874.6 L932.9,873.1 L934.3,871.6 L935.6,870.2 L937.0,868.7 L938.4,867.3 L939.8,865.8 L941.1,864.4 L942.5,863.0 L943.9,861.5 L945.3,860.1 L946.7,858.7 L948.2,857.3 L949.6,855.9 L951.0,854.5 L952.4,853.1 L953.9,851.7 L955.3,850.3 L956.7,848.9 L958.2,847.6 L959.6,846.2 L961.1,844.8 L962.6,843.5 L964.0,842.1 L965.5,840.7 L967.0,839.4 L968.4,838.0 L969.9,836.7 L971.4,835.3 L972.8,834.0 L974.3,832.6 L975.8,831.3 L977.3,829.9 L978.8,828.6 L980.3,827.3 L981.7,825.9 L983.2,824.6 L984.7,823.3 L986.2,821.9 L987.7,820.6 L988.8,819.6 M1014.9,795.6 L1015.7,794.9 L1017.1,793.5 L1018.6,792.1 L1020.0,790.7 L1021.5,789.3 L1022.9,787.9 L1024.3,786.5 L1025.8,785.1 L1027.2,783.7 L1028.6,782.3 L1030.0,780.9 L1031.5,779.5 L1032.9,778.1 L1034.3,776.7 L1035.7,775.3 L1037.2,773.9 L1038.6,772.5 L1040.0,771.0 L1041.4,769.6 L1042.8,768.2 L1044.3,766.8 L1045.7,765.4 L1047.1,764.0 L1048.5,762.6 L1049.9,761.2 L1051.3,759.8 L1052.8,758.4 L1054.2,757.0 L1055.6,755.6 L1057.0,754.1 L1058.5,752.7 L1059.9,751.3 L1061.3,749.9 L1062.7,748.5 L1064.2,747.1 L1065.6,745.7 L1067.0,744.3 L1068.4,742.9 L1069.9,741.5 L1071.3,740.1 L1072.7,738.8 L1074.2,737.4 L1074.2,737.4 M1100.3,712.2 L1101.5,711.0 L1103.0,709.6 L1104.4,708.3 L1105.9,706.9 L1107.3,705.5 L1108.8,704.1 L1110.2,702.8 L1111.7,701.4 L1113.1,700.0 L1114.6,698.6 L1116.1,697.3 L1117.5,695.9 L1119.0,694.5 L1120.4,693.2 L1121.9,691.8 L1123.3,690.4 L1124.8,689.1 L1126.3,687.7 L1127.7,686.3 L1129.2,685.0 L1130.6,683.6 L1132.1,682.2 L1133.6,680.9 L1135.0,679.5 L1136.5,678.1 L1138.0,676.8 L1139.4,675.4 L1140.9,674.1 L1142.4,672.7 L1143.8,671.4 L1145.3,670.0 L1146.8,668.7 L1148.3,667.3 L1149.7,665.9 L1151.2,664.6 L1152.7,663.2 L1154.2,661.9 L1155.6,660.5 L1157.1,659.2 L1158.6,657.8 L1159.5,657.0 M1185.7,633.4 L1186.8,632.4 L1188.3,631.0 L1189.8,629.7 L1191.2,628.4 L1192.7,627.1 L1194.2,625.7 L1195.7,624.4 L1197.2,623.1 L1198.7,621.7 L1200.2,620.4 L1201.7,619.1 L1203.2,617.8 L1204.7,616.4 L1206.2,615.1 L1207.7,613.8 L1209.2,612.5 L1210.7,611.1 L1212.2,609.8 L1213.7,608.5 L1215.2,607.2 L1216.7,605.9 L1218.2,604.6 L1219.7,603.2 L1221.2,601.9 L1222.7,600.6 L1224.2,599.3 L1225.8,598.0 L1227.3,596.7 L1228.8,595.4 L1230.3,594.0 L1231.8,592.7 L1233.3,591.4 L1234.8,590.1 L1236.3,588.8 L1237.8,587.5 L1239.4,586.2 L1240.9,584.9 L1242.4,583.6 L1243.9,582.3 L1244.9,581.4 M1271.0,559.1 L1271.3,558.9 L1272.8,557.6 L1274.3,556.3 L1275.9,555.0 L1277.4,553.8 L1278.9,552.5 L1280.4,551.2 L1282.0,549.9 L1283.5,548.6 L1285.0,547.3 L1286.6,546.0 L1288.1,544.8 L1289.6,543.5 L1291.2,542.2 L1292.7,540.9 L1294.2,539.6 L1295.8,538.3 L1297.3,537.1 L1298.9,535.8 L1300.4,534.5 L1301.9,533.2 L1303.5,531.9 L1305.0,530.7 L1306.5,529.4 L1308.1,528.1 L1309.6,526.8 L1311.2,525.6 L1312.7,524.3 L1314.3,523.0 L1315.8,521.8 L1317.3,520.5 L1318.9,519.2 L1320.4,517.9 L1322.0,516.7 L1323.5,515.4 L1325.1,514.1 L1326.6,512.9 L1328.2,511.6 L1329.7,510.3 L1330.3,509.8 M1356.4,488.7 L1357.7,487.7 L1359.3,486.5 L1360.8,485.2 L1362.4,484.0 L1364.0,482.8 L1365.6,481.5 L1367.1,480.3 L1368.7,479.1 L1370.3,477.9 L1371.9,476.6 L1373.5,475.4 L1375.0,474.2 L1376.6,473.0 L1378.2,471.8 L1379.8,470.6 L1381.4,469.4 L1383.0,468.2 L1384.6,467.0 L1386.2,465.8 L1387.8,464.6 L1389.4,463.4 L1391.0,462.2 L1392.7,461.1 L1394.3,459.9 L1395.9,458.7 L1397.5,457.5 L1399.1,456.4 L1400.8,455.2 L1402.4,454.1 L1404.0,452.9 L1405.7,451.8 L1407.3,450.7 L1409.0,449.5 L1410.6,448.4 L1412.3,447.3 L1413.9,446.2 L1415.6,445.1 L1415.7,445.0 M1441.8,428.6 L1442.7,428.1 L1444.4,427.1 L1446.1,426.1 L1447.9,425.1 L1449.6,424.1 L1451.4,423.1 L1453.1,422.2 L1454.8,421.2 L1456.6,420.2 L1458.3,419.3 L1460.1,418.3 L1461.9,417.4 L1463.6,416.4 L1465.4,415.5 L1467.2,414.6 L1468.9,413.6 L1470.7,412.7 L1472.5,411.8 L1474.3,410.9 L1476.1,410.0 L1477.9,409.1 L1479.7,408.3 L1481.4,407.4 L1483.2,406.5 L1485.1,405.7 L1486.9,404.8 L1488.7,404.0 L1490.5,403.1 L1492.3,402.3 L1494.1,401.5 L1495.9,400.6 L1497.8,399.8 L1499.6,399.0 L1501.1,398.4 M1527.2,387.7 L1527.3,387.6 L1529.2,386.9 L1531.1,386.2 L1532.9,385.5 L1534.8,384.8 L1536.7,384.2 L1538.6,383.5 L1540.5,382.8 L1542.3,382.1 L1544.2,381.5 L1546.1,380.8 L1548.0,380.2 L1549.9,379.5 L1551.8,378.9 L1553.7,378.2 L1555.6,377.6 L1557.5,377.0 L1559.4,376.4 L1561.3,375.7 L1563.2,375.1 L1565.1,374.5 L1567.0,373.9 L1568.9,373.3 L1570.8,372.7 L1572.7,372.1 L1574.6,371.5 L1576.5,371.0 L1578.5,370.4 L1580.4,369.8 L1582.4,369.2 L1584.4,368.6 L1586.4,368.0 L1586.4,368.0 M1612.6,360.6 L1614.4,360.1 L1616.4,359.6 L1618.4,359.0 L1620.4,358.5 L1622.4,358.0 L1624.4,357.4 L1626.4,356.9 L1628.4,356.4 L1630.4,355.9 L1632.4,355.3 L1634.4,354.8 L1636.4,354.3 L1638.4,353.8 L1640.4,353.3 L1642.4,352.8 L1644.4,352.3 L1646.4,351.8 L1648.4,351.3 L1650.4,350.8 L1652.4,350.3 L1654.4,349.8 L1656.4,349.3 L1658.4,348.8 L1660.4,348.3 L1662.4,347.8 L1664.4,347.4 L1666.4,346.9 L1668.4,346.4 L1670.4,345.9 L1671.8,345.6 M1697.9,339.7 L1698.4,339.6 L1700.4,339.1 L1702.4,338.7 L1704.4,338.3 L1706.4,337.8 L1708.4,337.4 L1710.4,337.0 L1712.4,336.6 L1714.4,336.2 L1716.4,335.7 L1718.4,335.3 L1720.4,334.9 L1722.4,334.5 L1724.4,334.1 L1726.4,333.7 L1728.4,333.3 L1730.4,332.9 L1732.4,332.5 L1734.4,332.1 L1736.4,331.7 L1738.4,331.3 L1740.4,330.9 L1742.4,330.5 L1744.4,330.2 L1746.4,329.8 L1748.4,329.4 L1750.4,329.0 L1752.4,328.7 L1754.4,328.3 L1756.4,327.9 L1757.2,327.8 M1783.3,323.2 L1784.4,323.0 L1786.4,322.7 L1788.4,322.3 L1790.4,322.0 L1792.4,321.7 L1794.4,321.3 L1796.4,321.0 L1798.4,320.7 L1800.4,320.4 L1802.4,320.1 L1804.4,319.8 L1806.4,319.4 L1808.4,319.1 L1810.4,318.8 L1812.4,318.5 L1814.4,318.2 L1816.4,317.9 L1818.4,317.6 L1820.4,317.3 L1822.4,317.0 L1824.4,316.7 L1826.4,316.5 L1828.4,316.2 L1830.4,315.9 L1832.4,315.6 L1834.4,315.3 L1836.4,315.0 L1838.4,314.8 L1840.4,314.5 L1842.4,314.2 L1842.6,314.2 M1868.7,310.8 L1870.4,310.6 L1872.4,310.4 L1874.4,310.2 L1876.4,309.9 L1878.4,309.7 L1880.4,309.5 L1882.4,309.2 L1884.4,309.0 L1886.4,308.8 L1888.4,308.6 L1890.4,308.3 L1892.4,308.1 L1894.4,307.9 L1896.4,307.7 L1898.4,307.5 L1900.4,307.3 L1902.4,307.0 L1904.4,306.8 L1906.4,306.6 L1908.4,306.4 L1910.4,306.2 L1912.4,306.0 L1914.4,305.8 L1916.4,305.6 L1918.4,305.4 L1920.4,305.2 L1922.4,305.0 L1924.4,304.8 L1926.4,304.7 L1927.9,304.5 M1954.1,302.2 L1954.4,302.2 L1956.4,302.0 L1958.4,301.9 L1960.4,301.7 L1962.4,301.5 L1964.4,301.4 L1966.4,301.2 L1968.4,301.1 L1970.4,300.9 L1972.4,300.8 L1974.4,300.6 L1976.4,300.5 L1978.4,300.3 L1980.4,300.2 L1982.4,300.0 L1984.4,299.9 L1986.4,299.7 L1988.4,299.6 L1990.4,299.5 L1992.4,299.3 L1994.4,299.2 L1996.4,299.1 L1998.4,298.9 L2000.4,298.8 L2002.4,298.7 L2004.4,298.5 L2006.4,298.4 L2008.4,298.3 L2010.4,298.2 L2012.4,298.0 L2013.3,298.0 M2039.4,296.5 L2040.4,296.4 L2042.4,296.3 L2044.4,296.2 L2046.4,296.1 L2048.4,296.0 L2050.4,295.9 L2052.4,295.8 L2054.4,295.7 L2056.4,295.6 L2058.4,295.5 L2060.4,295.4 L2062.4,295.3 L2064.4,295.2 L2066.4,295.2 L2068.4,295.1 L2070.4,295.0 L2072.4,294.9 L2074.4,294.8 L2076.4,294.7 L2078.4,294.6 L2080.4,294.5 L2082.4,294.5 L2084.4,294.4 L2086.4,294.3 L2088.4,294.2 L2090.4,294.1 L2092.4,294.0 L2094.4,294.0 L2096.4,293.9 L2098.4,293.8 L2098.7,293.8 M2124.8,292.9 L2126.4,292.8 L2128.4,292.7 L2130.4,292.7 L2132.4,292.6 L2134.4,292.6 L2136.4,292.5 L2138.4,292.4 L2140.4,292.4 L2142.4,292.3 L2144.4,292.2 L2146.4,292.2 L2148.4,292.1 L2150.4,292.1 L2152.4,292.0 L2154.4,291.9 L2156.4,291.9 L2158.4,291.8 L2160.4,291.8 L2162.4,291.7 L2164.4,291.7 L2166.4,291.6 L2168.4,291.6 L2170.4,291.5 L2172.4,291.5 L2174.4,291.4 L2176.4,291.3 L2178.4,291.3 L2180.4,291.2 L2182.4,291.2 L2184.1,291.2 M2210.2,290.5 L2210.4,290.5 L2212.4,290.5 L2214.4,290.4 L2216.4,290.4 L2218.4,290.3 L2220.4,290.3 L2222.4,290.2 L2224.4,290.2 L2226.4,290.2 L2228.4,290.1 L2230.4,290.1 L2232.4,290.0 L2234.4,290.0 L2236.4,289.9 L2238.4,289.9 L2240.4,289.9 L2242.4,289.8 L2244.4,289.8 L2246.4,289.7 L2248.4,289.7 L2250.4,289.6 L2252.4,289.6 L2254.4,289.6 L2256.4,289.5 L2258.4,289.5 L2260.4,289.4 L2262.4,289.4 L2264.4,289.3 L2266.4,289.3 L2268.4,289.3 L2269.4,289.2 M2295.6,288.7 L2296.4,288.6 L2298.4,288.6 L2300.4,288.6 L2302.4,288.5 L2304.4,288.5 L2306.4,288.4 L2308.4,288.4 L2310.4,288.3 L2312.4,288.3 L2314.4,288.2 L2316.4,288.2 L2318.4,288.1 L2320.4,288.1 L2322.4,288.0 L2324.4,288.0 L2326.4,287.9 L2328.4,287.9 L2330.4,287.8 L2332.4,287.8 L2334.4,287.7 L2336.4,287.7 L2338.4,287.6 L2340.4,287.6 L2342.4,287.5 L2344.4,287.5 L2346.4,287.4 L2348.4,287.4 L2350.4,287.3 L2352.4,287.3 L2354.4,287.2 L2354.8,287.2" stroke="#0000ff" stroke-width="8"/>
<path d="M351.0,1560.0 L352.0,1558.3 L352.9,1556.5 L353.9,1554.8 L354.9,1553.1 L355.9,1551.3 L356.9,1549.6 L357.9,1547.9 L358.9,1546.2 L360.0,1544.5 L361.0,1542.8 L362.1,1541.1 L363.1,1539.4 L364.2,1537.7 L365.3,1536.1 L366.4,1534.4 L367.5,1532.8 L368.6,1531.1 L369.7,1529.5 L370.8,1527.8 L372.0,1526.2 L373.1,1524.6 L374.3,1522.9 L375.5,1521.3 L376.7,1519.7 L377.8,1518.1 L378.0,1518.0 M394.2,1497.7 L395.3,1496.4 L396.6,1494.9 L397.9,1493.3 L399.2,1491.8 L400.6,1490.3 L401.9,1488.8 L403.2,1487.3 L404.5,1485.8 L405.8,1484.3 L407.1,1482.8 L408.5,1481.3 L409.8,1479.8 L411.1,1478.3 L412.4,1476.8 L413.8,1475.3 L415.1,1473.8 L416.4,1472.3 L417.7,1470.8 L419.0,1469.3 L420.3,1467.8 L421.7,1466.3 L423.0,1464.7 L424.3,1463.2 L425.6,1461.7 L426.8,1460.2 L428.0,1458.8 M443.9,1438.5 L444.2,1438.1 L445.4,1436.5 L446.5,1434.8 L447.7,1433.2 L448.9,1431.6 L450.1,1430.0 L451.2,1428.4 L452.4,1426.7 L453.6,1425.1 L454.7,1423.5 L455.9,1421.9 L457.1,1420.2 L458.2,1418.6 L459.4,1417.0 L460.6,1415.4 L461.7,1413.7 L462.9,1412.1 L464.1,1410.5 L465.3,1408.9 L466.4,1407.3 L467.6,1405.7 L468.8,1404.1 L470.0,1402.5 L471.2,1400.9 L472.2,1399.6 M488.2,1379.3 L488.5,1378.9 L489.8,1377.4 L491.1,1375.8 L492.3,1374.3 L493.6,1372.7 L494.9,1371.2 L496.1,1369.7 L497.4,1368.1 L498.7,1366.6 L500.0,1365.0 L501.2,1363.5 L502.5,1362.0 L503.8,1360.4 L505.1,1358.9 L506.4,1357.4 L507.7,1355.9 L509.0,1354.3 L510.2,1352.8 L511.5,1351.3 L512.8,1349.8 L514.1,1348.2 L515.4,1346.7 L516.7,1345.2 L518.0,1343.7 L519.3,1342.2 L520.6,1340.7 L520.9,1340.4 M538.7,1320.1 L539.1,1319.6 L540.4,1318.1 L541.8,1316.6 L543.1,1315.1 L544.4,1313.7 L545.8,1312.2 L547.1,1310.7 L548.4,1309.2 L549.8,1307.7 L551.1,1306.2 L552.4,1304.7 L553.8,1303.2 L555.1,1301.8 L556.5,1300.3 L557.8,1298.8 L559.1,1297.3 L560.5,1295.8 L561.8,1294.4 L563.2,1292.9 L564.5,1291.4 L565.9,1289.9 L567.2,1288.4 L568.6,1287.0 L569.9,1285.5 L571.3,1284.0 L572.6,1282.5 L573.9,1281.2 M592.5,1260.9 L592.9,1260.5 L594.3,1259.0 L595.6,1257.5 L597.0,1256.0 L598.3,1254.6 L599.7,1253.1 L601.0,1251.6 L602.4,1250.2 L603.8,1248.7 L605.1,1247.2 L606.5,1245.8 L607.8,1244.3 L609.2,1242.8 L610.5,1241.4 L611.9,1239.9 L613.3,1238.4 L614.6,1237.0 L616.0,1235.5 L617.3,1234.0 L618.7,1232.5 L620.1,1231.1 L621.4,1229.6 L622.8,1228.1 L624.1,1226.7 L625.5,1225.2 L626.9,1223.8 L628.2,1222.3 L628.5,1222.0 M647.4,1201.7 L648.7,1200.3 L650.0,1198.9 L651.4,1197.4 L652.8,1196.0 L654.1,1194.5 L655.5,1193.0 L656.9,1191.6 L658.2,1190.1 L659.6,1188.7 L661.0,1187.2 L662.3,1185.7 L663.7,1184.3 L665.1,1182.8 L666.4,1181.4 L667.8,1179.9 L669.2,1178.5 L670.6,1177.0 L671.9,1175.5 L673.3,1174.1 L674.7,1172.6 L676.0,1171.2 L677.4,1169.7 L678.8,1168.3 L680.2,1166.8 L681.5,1165.4 L682.9,1163.9 L684.0,1162.8 M703.3,1142.5 L703.6,1142.2 L705.0,1140.7 L706.3,1139.3 L707.7,1137.8 L709.1,1136.4 L710.5,1135.0 L711.9,1133.5 L713.3,1132.1 L714.6,1130.6 L716.0,1129.2 L717.4,1127.7 L718.8,1126.3 L720.2,1124.9 L721.6,1123.4 L723.0,1122.0 L724.4,1120.5 L725.7,1119.1 L727.1,1117.7 L728.5,1116.2 L729.9,1114.8 L731.3,1113.4 L732.7,1111.9 L734.1,1110.5 L735.5,1109.1 L736.9,1107.6 L738.3,1106.2 L739.7,1104.8 L740.8,1103.6 M760.7,1083.3 L762.1,1081.9 L763.5,1080.5 L764.9,1079.1 L766.3,1077.6 L767.7,1076.2 L769.1,1074.8 L770.5,1073.4 L771.9,1072.0 L773.3,1070.6 L774.7,1069.1 L776.2,1067.7 L777.6,1066.3 L779.0,1064.9 L780.4,1063.5 L781.8,1062.1 L783.2,1060.7 L784.6,1059.2 L786.1,1057.8 L787.5,1056.4 L788.9,1055.0 L790.3,1053.6 L791.7,1052.2 L793.2,1050.8 L794.6,1049.4 L796.0,1048.0 L797.4,1046.6 L798.8,1045.2 L799.5,1044.5 M819.8,1024.7 L820.3,1024.2 L821.7,1022.8 L823.2,1021.4 L824.6,1020.0 L826.0,1018.6 L827.5,1017.3 L828.9,1015.9 L830.4,1014.5 L831.8,1013.1 L833.3,1011.7 L834.7,1010.3 L836.1,1009.0 L837.6,1007.6 L839.0,1006.2 L840.5,1004.8 L841.9,1003.4 L843.4,1002.1 L844.8,1000.7 L846.3,999.3 L847.7,997.9 L849.2,996.5 L850.6,995.2 L852.1,993.8 L853.5,992.4 L855.0,991.0 L856.4,989.7 L857.9,988.3 L858.7,987.6 M879.0,968.5 L879.7,967.8 L881.2,966.4 L882.7,965.0 L884.1,963.7 L885.6,962.3 L887.0,960.9 L888.5,959.6 L890.0,958.2 L891.4,956.8 L892.9,955.5 L894.4,954.1 L895.8,952.7 L897.3,951.4 L898.7,950.0 L900.2,948.6 L901.7,947.3 L903.1,945.9 L904.6,944.6 L906.1,943.2 L907.5,941.8 L909.0,940.5 L910.5,939.1 L911.9,937.7 L913.4,936.4 L914.8,935.0 L916.3,933.7 L917.8,932.3 L917.9,932.2 M938.2,913.3 L938.3,913.2 L939.7,911.8 L941.2,910.5 L942.6,909.1 L944.1,907.7 L945.6,906.4 L947.0,905.0 L948.5,903.6 L949.9,902.3 L951.4,900.9 L952.9,899.5 L954.3,898.2 L955.8,896.8 L957.2,895.4 L958.7,894.0 L960.1,892.7 L961.6,891.3 L963.1,889.9 L964.5,888.6 L966.0,887.2 L967.4,885.8 L968.9,884.4 L970.3,883.1 L971.8,881.7 L973.2,880.3 L974.7,878.9 L976.1,877.6 L977.1,876.7 M997.3,857.3 L997.8,856.8 L999.3,855.4 L1000.7,854.1 L1002.2,852.7 L1003.6,851.3 L1005.0,849.9 L1006.5,848.5 L1007.9,847.1 L1009.3,845.7 L1010.8,844.3 L1012.2,842.9 L1013.7,841.5 L1015.1,840.2 L1016.5,838.8 L1018.0,837.4 L1019.4,836.0 L1020.8,834.6 L1022.3,833.2 L1023.7,831.8 L1025.1,830.4 L1026.6,829.0 L1028.0,827.6 L1029.4,826.2 L1030.9,824.8 L1032.3,823.4 L1033.7,822.0 L1035.1,820.6 L1036.3,819.5 M1056.5,799.5 L1057.9,798.1 L1059.3,796.7 L1060.8,795.3 L1062.2,793.9 L1063.6,792.5 L1065.0,791.1 L1066.4,789.7 L1067.9,788.3 L1069.3,786.8 L1070.7,785.4 L1072.1,784.0 L1073.5,782.6 L1074.9,781.2 L1076.4,779.8 L1077.8,778.4 L1079.2,776.9 L1080.6,775.5 L1082.0,774.1 L1083.4,772.7 L1084.8,771.3 L1086.2,769.9 L1087.7,768.4 L1089.1,767.0 L1090.5,765.6 L1091.9,764.2 L1093.3,762.8 L1094.7,761.4 L1095.4,760.7 M1115.5,740.4 L1115.8,740.0 L1117.2,738.6 L1118.6,737.2 L1120.0,735.8 L1121.4,734.3 L1122.8,732.9 L1124.2,731.5 L1125.6,730.1 L1127.0,728.6 L1128.4,727.2 L1129.8,725.8 L1131.2,724.3 L1132.6,722.9 L1134.0,721.5 L1135.4,720.1 L1136.8,718.6 L1138.2,717.2 L1139.6,715.8 L1141.0,714.4 L1142.4,712.9 L1143.8,711.5 L1145.3,710.1 L1146.6,708.6 L1148.0,707.2 L1149.4,705.8 L1150.8,704.4 L1152.2,702.9 L1153.6,701.5 L1153.7,701.5 M1173.5,681.2 L1174.6,680.1 L1176.0,678.6 L1177.4,677.2 L1178.8,675.8 L1180.2,674.3 L1181.6,672.9 L1183.0,671.5 L1184.4,670.0 L1185.8,668.6 L1187.2,667.2 L1188.6,665.8 L1190.0,664.3 L1191.4,662.9 L1192.8,661.5 L1194.2,660.0 L1195.6,658.6 L1197.0,657.2 L1198.4,655.8 L1199.8,654.3 L1201.2,652.9 L1202.6,651.5 L1204.0,650.1 L1205.4,648.6 L1206.8,647.2 L1208.2,645.8 L1209.6,644.3 L1211.0,642.9 L1211.7,642.3 M1231.6,622.0 L1232.1,621.5 L1233.5,620.1 L1234.9,618.7 L1236.3,617.3 L1237.7,615.9 L1239.1,614.4 L1240.5,613.0 L1241.9,611.6 L1243.3,610.2 L1244.7,608.8 L1246.1,607.3 L1247.6,605.9 L1249.0,604.5 L1250.4,603.1 L1251.8,601.7 L1253.2,600.2 L1254.6,598.8 L1256.0,597.4 L1257.4,596.0 L1258.9,594.6 L1260.3,593.2 L1261.7,591.8 L1263.1,590.3 L1264.5,588.9 L1265.9,587.5 L1267.3,586.1 L1268.8,584.7 L1270.2,583.3 L1270.4,583.1 M1290.6,563.1 L1291.6,562.3 L1293.0,560.9 L1294.4,559.5 L1295.8,558.1 L1297.3,556.7 L1298.7,555.3 L1300.2,553.9 L1301.6,552.5 L1303.0,551.1 L1304.5,549.7 L1305.9,548.3 L1307.3,547.0 L1308.8,545.6 L1310.2,544.2 L1311.7,542.8 L1313.1,541.4 L1314.6,540.0 L1316.0,538.7 L1317.5,537.3 L1318.9,535.9 L1320.4,534.5 L1321.8,533.2 L1323.3,531.8 L1324.7,530.4 L1326.2,529.1 L1327.6,527.7 L1329.1,526.3 L1329.6,525.9 M1349.8,507.2 L1351.2,506.0 L1352.6,504.7 L1354.1,503.3 L1355.6,502.0 L1357.1,500.7 L1358.6,499.3 L1360.1,498.0 L1361.6,496.7 L1363.1,495.3 L1364.6,494.0 L1366.1,492.7 L1367.6,491.4 L1369.1,490.1 L1370.6,488.8 L1372.1,487.5 L1373.6,486.2 L1375.1,484.9 L1376.7,483.6 L1378.2,482.3 L1379.7,481.0 L1381.2,479.7 L1382.8,478.4 L1384.3,477.1 L1385.9,475.9 L1387.4,474.6 L1388.8,473.5 M1409.0,457.7 L1409.4,457.4 L1411.0,456.2 L1412.7,455.0 L1414.3,453.9 L1415.9,452.7 L1417.5,451.5 L1419.2,450.4 L1420.8,449.3 L1422.4,448.1 L1424.1,447.0 L1425.8,445.9 L1427.4,444.8 L1429.1,443.7 L1430.8,442.6 L1432.4,441.5 L1434.1,440.5 L1435.8,439.4 L1437.5,438.4 L1439.2,437.3 L1441.0,436.3 L1442.7,435.3 L1444.4,434.3 L1446.1,433.3 L1447.9,432.3 L1448.0,432.3 M1468.2,422.1 L1469.3,421.6 L1471.1,420.8 L1472.9,420.0 L1474.8,419.2 L1476.6,418.4 L1478.5,417.6 L1480.3,416.9 L1482.1,416.1 L1484.0,415.4 L1485.9,414.6 L1487.7,413.9 L1489.6,413.2 L1491.5,412.5 L1493.3,411.8 L1495.2,411.1 L1497.1,410.4 L1499.0,409.8 L1500.9,409.1 L1502.7,408.4 L1504.6,407.8 L1506.5,407.1 L1507.2,406.9 M1527.4,400.5 L1527.5,400.5 L1529.5,399.9 L1531.5,399.3 L1533.5,398.7 L1535.5,398.1 L1537.5,397.6 L1539.5,397.0 L1541.5,396.4 L1543.5,395.9 L1545.5,395.4 L1547.5,394.8 L1549.5,394.3 L1551.5,393.8 L1553.5,393.2 L1555.5,392.7 L1557.5,392.2 L1559.5,391.7 L1561.5,391.2 L1563.5,390.7 L1565.5,390.2 L1566.4,390.0 M1586.6,385.3 L1587.5,385.1 L1589.5,384.7 L1591.5,384.3 L1593.5,383.8 L1595.5,383.4 L1597.5,383.0 L1599.5,382.5 L1601.5,382.1 L1603.5,381.7 L1605.5,381.3 L1607.5,380.9 L1609.5,380.5 L1611.5,380.1 L1613.5,379.7 L1615.5,379.2 L1617.5,378.8 L1619.5,378.4 L1621.5,378.0 L1623.5,377.7 L1625.5,377.3 L1625.6,377.2 M1645.8,373.3 L1647.5,373.0 L1649.5,372.6 L1651.5,372.3 L1653.5,371.9 L1655.5,371.5 L1657.5,371.1 L1659.5,370.8 L1661.5,370.4 L1663.5,370.0 L1665.5,369.7 L1667.5,369.3 L1669.5,368.9 L1671.5,368.6 L1673.5,368.2 L1675.5,367.8 L1677.5,367.5 L1679.5,367.1 L1681.5,366.8 L1683.5,366.4 L1684.7,366.2 M1705.0,362.7 L1705.5,362.6 L1707.5,362.3 L1709.5,362.0 L1711.5,361.6 L1713.5,361.3 L1715.5,361.0 L1717.5,360.6 L1719.5,360.3 L1721.5,360.0 L1723.5,359.7 L1725.5,359.4 L1727.5,359.0 L1729.5,358.7 L1731.5,358.4 L1733.5,358.1 L1735.5,357.8 L1737.5,357.5 L1739.5,357.1 L1741.5,356.8 L1743.5,356.5 L1743.9,356.5 M1764.2,353.4 L1765.5,353.2 L1767.5,353.0 L1769.5,352.7 L1771.5,352.4 L1773.5,352.1 L1775.5,351.8 L1777.5,351.5 L1779.5,351.3 L1781.5,351.0 L1783.5,350.7 L1785.5,350.4 L1787.5,350.2 L1789.5,349.9 L1791.5,349.6 L1793.5,349.4 L1795.5,349.1 L1797.5,348.8 L1799.5,348.6 L1801.5,348.3 L1803.1,348.1 M1823.4,345.5 L1823.5,345.5 L1825.5,345.3 L1827.5,345.1 L1829.5,344.8 L1831.5,344.6 L1833.5,344.4 L1835.5,344.1 L1837.5,343.9 L1839.5,343.7 L1841.5,343.4 L1843.5,343.2 L1845.5,343.0 L1847.5,342.8 L1849.5,342.5 L1851.5,342.3 L1853.5,342.1 L1855.5,341.9 L1857.5,341.7 L1859.5,341.5 L1861.5,341.3 L1862.3,341.2 M1882.6,339.1 L1883.5,339.1 L1885.5,338.9 L1887.5,338.7 L1889.5,338.5 L1891.5,338.3 L1893.5,338.1 L1895.5,338.0 L1897.5,337.8 L1899.5,337.6 L1901.5,337.4 L1903.5,337.2 L1905.5,337.1 L1907.5,336.9 L1909.5,336.7 L1911.5,336.6 L1913.5,336.4 L1915.5,336.2 L1917.5,336.1 L1919.5,335.9 L1921.5,335.8 L1921.5,335.8 M1941.8,334.2 L1943.5,334.1 L1945.5,334.0 L1947.5,333.8 L1949.5,333.7 L1951.5,333.6 L1953.5,333.4 L1955.5,333.3 L1957.5,333.2 L1959.5,333.0 L1961.5,332.9 L1963.5,332.8 L1965.5,332.6 L1967.5,332.5 L1969.5,332.4 L1971.5,332.3 L1973.5,332.2 L1975.5,332.0 L1977.5,331.9 L1979.5,331.8 L1980.7,331.7 M2001.0,330.6 L2001.5,330.6 L2003.5,330.5 L2005.5,330.4 L2007.5,330.3 L2009.5,330.2 L2011.5,330.1 L2013.5,330.0 L2015.5,329.9 L2017.5,329.8 L2019.5,329.7 L2021.5,329.6 L2023.5,329.5 L2025.5,329.4 L2027.5,329.4 L2029.5,329.3 L2031.5,329.2 L2033.5,329.1 L2035.5,329.0 L2037.5,328.9 L2039.5,328.8 L2039.9,328.8 M2060.2,328.1 L2061.5,328.0 L2063.5,327.9 L2065.5,327.9 L2067.5,327.8 L2069.5,327.7 L2071.5,327.7 L2073.5,327.6 L2075.5,327.5 L2077.5,327.5 L2079.5,327.4 L2081.5,327.3 L2083.5,327.3 L2085.5,327.2 L2087.5,327.2 L2089.5,327.1 L2091.5,327.0 L2093.5,327.0 L2095.5,326.9 L2097.5,326.9 L2099.1,326.8 M2119.4,326.3 L2119.5,326.3 L2121.5,326.3 L2123.5,326.2 L2125.5,326.2 L2127.5,326.1 L2129.5,326.1 L2131.5,326.0 L2133.5,326.0 L2135.5,325.9 L2137.5,325.9 L2139.5,325.8 L2141.5,325.8 L2143.5,325.8 L2145.5,325.7 L2147.5,325.7 L2149.5,325.6 L2151.5,325.6 L2153.5,325.6 L2155.5,325.5 L2157.5,325.5 L2158.3,325.5 M2178.6,325.1 L2179.5,325.1 L2181.5,325.1 L2183.5,325.0 L2185.5,325.0 L2187.5,325.0 L2189.5,324.9 L2191.5,324.9 L2193.5,324.9 L2195.5,324.9 L2197.5,324.8 L2199.5,324.8 L2201.5,324.8 L2203.5,324.7 L2205.5,324.7 L2207.5,324.7 L2209.5,324.6 L2211.5,324.6 L2213.5,324.6 L2215.5,324.6 L2217.5,324.5 L2217.5,324.5 M2237.8,324.3 L2239.5,324.2 L2241.5,324.2 L2243.5,324.2 L2245.5,324.2 L2247.5,324.1 L2249.5,324.1 L2251.5,324.1 L2253.5,324.1 L2255.5,324.0 L2257.5,324.0 L2259.5,324.0 L2261.5,324.0 L2263.5,323.9 L2265.5,323.9 L2267.5,323.9 L2269.5,323.9 L2271.5,323.8 L2273.5,323.8 L2275.5,323.8 L2276.7,323.8 M2297.0,323.5 L2297.5,323.5 L2299.5,323.5 L2301.5,323.4 L2303.5,323.4 L2305.5,323.4 L2307.5,323.3 L2309.5,323.3 L2311.5,323.3 L2313.5,323.3 L2315.5,323.2 L2317.5,323.2 L2319.5,323.2 L2321.5,323.1 L2323.5,323.1 L2325.5,323.1 L2327.5,323.0 L2329.5,323.0 L2331.5,323.0 L2333.5,323.0 L2335.5,322.9 L2335.9,322.9 M2356.2,322.6 L2357.5,322.5 L2359.5,322.5 L2361.5,322.5 L2363.5,322.4 L2365.5,322.4 L2367.5,322.3 L2369.5,322.3 L2371.5,322.3 L2373.5,322.2 L2375.5,322.2 L2377.5,322.1 L2379.5,322.1 L2379.5,322.1" stroke="#00ff00" stroke-width="8"/>
<path d="M351.0,1560.0 L352.0,1558.3 L352.9,1556.5 L353.9,1554.8 L354.9,1553.1 L355.9,1551.3 L356.9,1549.6 L358.0,1547.9 L359.0,1546.2 L360.0,1544.5 L361.1,1542.8 L362.1,1541.1 L363.2,1539.4 L364.2,1537.7 L365.3,1536.1 L366.4,1534.4 L367.5,1532.7 L368.6,1531.0 L369.7,1529.4 L370.8,1527.7 L371.9,1526.1 L373.0,1524.4 L374.1,1522.8 L375.3,1521.1 L376.4,1519.5 L377.6,1517.9 L378.7,1516.3 L379.9,1514.6 L381.1,1513.0 L382.2,1511.4 L383.4,1509.8 L384.6,1508.2 L385.2,1507.4 M400.6,1487.5 L401.6,1486.2 M417.5,1466.3 L417.9,1465.8 L419.2,1464.2 L420.4,1462.6 L421.6,1461.0 L422.9,1459.5 L424.1,1457.9 L425.3,1456.3 L426.5,1454.7 L427.7,1453.1 L429.0,1451.5 L430.2,1449.9 L431.4,1448.3 L432.6,1446.7 L433.7,1445.1 L434.9,1443.4 L436.1,1441.8 L437.3,1440.2 L438.4,1438.6 L439.6,1436.9 L440.8,1435.3 L441.9,1433.7 L443.1,1432.0 L444.2,1430.4 L445.4,1428.8 L446.5,1427.1 L447.7,1425.5 L448.8,1423.8 L449.9,1422.2 L451.1,1420.5 L452.2,1418.9 L453.4,1417.2 L454.5,1415.6 L455.6,1413.9 L455.8,1413.8 M469.4,1393.8 L470.4,1392.5 M484.6,1372.6 L485.5,1371.4 L486.6,1369.8 L487.8,1368.2 L489.0,1366.6 L490.3,1365.0 L491.5,1363.5 L492.7,1361.9 L493.9,1360.3 L495.1,1358.7 L496.4,1357.2 L497.6,1355.6 L498.9,1354.0 L500.1,1352.5 L501.3,1350.9 L502.6,1349.3 L503.9,1347.8 L505.1,1346.2 L506.4,1344.7 L507.6,1343.1 L508.9,1341.6 L510.1,1340.0 L511.4,1338.5 L512.7,1336.9 L513.9,1335.4 L515.2,1333.8 L516.5,1332.3 L517.7,1330.7 L519.0,1329.2 L520.2,1327.6 L521.5,1326.1 L522.8,1324.5 L524.0,1322.9 L525.3,1321.4 L526.3,1320.1 M541.8,1300.2 L542.5,1299.3 L542.8,1298.9 M558.2,1278.9 L558.4,1278.7 L559.6,1277.1 L560.8,1275.6 L562.1,1274.0 L563.3,1272.4 L564.6,1270.9 L565.8,1269.3 L567.1,1267.7 L568.3,1266.2 L569.6,1264.6 L570.8,1263.1 L572.1,1261.5 L573.3,1260.0 L574.6,1258.4 L575.9,1256.9 L577.1,1255.3 L578.4,1253.8 L579.7,1252.2 L580.9,1250.7 L582.2,1249.1 L583.5,1247.6 L584.7,1246.0 L586.0,1244.5 L587.3,1243.0 L588.6,1241.4 L589.8,1239.9 L591.1,1238.3 L592.4,1236.8 L593.6,1235.2 L594.9,1233.7 L596.2,1232.2 L597.5,1230.6 L598.7,1229.1 L600.0,1227.5 L601.0,1226.4 M617.4,1206.5 L617.8,1205.9 L618.5,1205.2 M635.3,1185.3 L635.9,1184.6 L637.2,1183.1 L638.5,1181.5 L639.8,1180.0 L641.1,1178.5 L642.4,1177.0 L643.7,1175.5 L645.0,1174.0 L646.3,1172.5 L647.6,1170.9 L648.9,1169.4 L650.3,1167.9 L651.6,1166.4 L652.9,1164.9 L654.2,1163.4 L655.5,1161.8 L656.8,1160.3 L658.1,1158.8 L659.4,1157.3 L660.7,1155.8 L662.0,1154.3 L663.3,1152.7 L664.6,1151.2 L665.9,1149.7 L667.2,1148.2 L668.5,1146.6 L669.8,1145.1 L671.1,1143.6 L672.3,1142.0 L673.6,1140.5 L674.9,1139.0 L676.2,1137.4 L677.5,1135.9 L678.8,1134.4 L680.0,1132.8 L680.2,1132.7 M696.5,1112.8 L696.5,1112.7 L697.6,1111.5 M714.1,1091.6 L714.4,1091.2 L715.7,1089.7 L717.0,1088.1 L718.3,1086.6 L719.6,1085.1 L720.9,1083.6 L722.2,1082.1 L723.5,1080.6 L724.8,1079.1 L726.1,1077.6 L727.4,1076.1 L728.8,1074.6 L730.1,1073.1 L731.4,1071.6 L732.7,1070.1 L734.1,1068.6 L735.4,1067.1 L736.7,1065.6 L738.1,1064.1 L739.4,1062.6 L740.7,1061.1 L742.1,1059.7 L743.4,1058.2 L744.8,1056.7 L746.1,1055.2 L747.5,1053.7 L748.8,1052.3 L750.2,1050.8 L751.5,1049.3 L752.9,1047.9 L754.2,1046.4 L755.6,1044.9 L757.0,1043.5 L758.3,1042.0 L759.7,1040.6 L761.1,1039.1 L761.2,1039.0 M780.2,1019.1 L780.4,1018.9 L781.5,1017.8 M801.1,997.9 L801.4,997.5 L802.9,996.1 L804.3,994.7 L805.7,993.3 L807.1,991.9 L808.5,990.4 L809.9,989.0 L811.4,987.6 L812.8,986.2 L814.2,984.8 L815.6,983.4 L817.1,982.0 L818.5,980.6 L819.9,979.2 L821.4,977.8 L822.8,976.5 L824.2,975.1 L825.7,973.7 L827.1,972.3 L828.5,970.9 L830.0,969.5 L831.4,968.1 L832.9,966.8 L834.3,965.4 L835.8,964.0 L837.2,962.6 L838.7,961.3 L840.1,959.9 L841.6,958.5 L843.1,957.2 L844.5,955.8 L846.0,954.4 L847.5,953.1 L848.9,951.7 L850.4,950.4 L851.9,949.0 L853.3,947.7 L853.6,947.4 M873.5,929.6 L874.2,929.0 L874.9,928.4 M894.8,911.4 L895.5,910.9 L897.0,909.6 L898.6,908.3 L900.1,907.0 L901.6,905.8 L903.2,904.5 L904.7,903.3 L906.3,902.0 L907.9,900.7 L909.4,899.5 L911.0,898.3 L912.5,897.0 L914.1,895.8 L915.7,894.5 L917.3,893.3 L918.8,892.1 L920.4,890.9 L922.0,889.6 L923.6,888.4 L925.2,887.2 L926.8,886.0 L928.4,884.8 L930.0,883.6 L931.6,882.4 L933.2,881.2 L934.8,880.0 L936.4,878.8 L938.0,877.7 L939.6,876.5 L941.2,875.3 L942.8,874.1 L944.5,873.0 L946.1,871.8 L947.3,870.9 M967.2,857.4 L967.5,857.2 L968.5,856.5 M988.4,843.9 L989.5,843.2 L991.2,842.2 L992.9,841.2 L994.6,840.1 L996.3,839.1 L998.0,838.0 L999.7,837.0 L1001.4,836.0 L1003.2,835.0 L1004.9,834.0 L1006.6,832.9 L1008.3,831.9 L1010.1,830.9 L1011.8,829.9 L1013.5,828.9 L1015.3,827.9 L1017.0,826.9 L1018.7,825.9 L1020.5,825.0 L1022.2,824.0 L1023.9,823.0 L1025.7,822.0 L1027.4,821.0 L1029.2,820.0 L1030.9,819.1 L1032.7,818.1 L1034.4,817.1 L1036.2,816.2 L1037.9,815.2 L1039.7,814.2 L1041.0,813.5 M1060.9,802.7 L1062.2,802.0 M1082.1,791.5 L1083.8,790.7 L1085.5,789.7 L1087.3,788.8 L1089.1,787.9 L1090.8,787.0 L1092.6,786.1 L1094.4,785.1 L1096.2,784.2 L1098.0,783.3 L1099.7,782.4 L1101.5,781.5 L1103.3,780.6 L1105.1,779.7 L1106.8,778.7 L1108.6,777.8 L1110.4,776.9 L1112.2,776.0 L1114.0,775.1 L1115.8,774.2 L1117.5,773.3 L1119.3,772.4 L1121.1,771.5 L1122.9,770.6 L1124.7,769.7 L1126.5,768.8 L1128.3,767.9 L1130.1,767.0 L1131.8,766.2 L1133.6,765.3 L1134.7,764.7 M1154.6,755.0 L1155.2,754.7 L1155.9,754.3 M1175.8,744.8 L1176.8,744.4 L1178.6,743.5 L1180.5,742.6 L1182.3,741.8 L1184.1,741.0 L1185.9,740.1 L1187.7,739.3 L1189.5,738.4 L1191.3,737.6 L1193.1,736.7 L1195.0,735.9 L1196.8,735.1 L1198.6,734.2 L1200.4,733.4 L1202.2,732.6 L1204.0,731.7 L1205.9,730.9 L1207.7,730.1 L1209.5,729.2 L1211.3,728.4 L1213.1,727.6 L1215.0,726.8 L1216.8,725.9 L1218.6,725.1 L1220.4,724.3 L1222.3,723.5 L1224.1,722.7 L1225.9,721.9 L1227.7,721.1 L1228.4,720.8 M1248.3,712.1 L1249.6,711.5 M1269.5,703.1 L1270.0,702.9 L1271.8,702.1 L1273.7,701.4 L1275.5,700.6 L1277.4,699.8 L1279.2,699.1 L1281.1,698.3 L1282.9,697.5 L1284.8,696.8 L1286.6,696.0 L1288.5,695.3 L1290.3,694.5 L1292.2,693.8 L1294.0,693.0 L1295.9,692.3 L1297.8,691.5 L1299.6,690.8 L1301.5,690.1 L1303.3,689.3 L1305.2,688.6 L1307.0,687.8 L1308.9,687.1 L1310.8,686.4 L1312.6,685.6 L1314.5,684.9 L1316.4,684.2 L1318.2,683.5 L1320.1,682.7 L1322.0,682.0 L1322.1,682.0 M1342.0,674.4 L1342.5,674.2 L1343.3,673.9 M1363.2,666.6 L1365.0,666.0 L1366.9,665.3 L1368.8,664.6 L1370.7,664.0 L1372.6,663.3 L1374.5,662.6 L1376.3,661.9 L1378.2,661.3 L1380.1,660.6 L1382.0,659.9 L1383.9,659.3 L1385.8,658.6 L1387.7,658.0 L1389.6,657.3 L1391.4,656.7 L1393.3,656.0 L1395.2,655.4 L1397.1,654.7 L1399.0,654.1 L1400.9,653.4 L1402.8,652.8 L1404.7,652.1 L1406.6,651.5 L1408.5,650.8 L1410.4,650.2 L1412.3,649.6 L1414.2,648.9 L1415.8,648.4 M1435.7,641.8 L1437.0,641.4 L1437.0,641.4 M1456.9,635.0 L1457.9,634.7 L1459.8,634.1 L1461.7,633.5 L1463.6,632.9 L1465.5,632.3 L1467.4,631.7 L1469.4,631.1 L1471.3,630.5 L1473.2,629.9 L1475.1,629.3 L1477.0,628.7 L1478.9,628.1 L1480.8,627.6 L1482.7,627.0 L1484.6,626.4 L1486.6,625.8 L1488.5,625.2 L1490.4,624.6 L1492.3,624.1 L1494.2,623.5 L1496.1,622.9 L1498.0,622.3 L1499.9,621.7 L1501.9,621.2 L1503.8,620.6 L1505.8,620.0 L1507.8,619.4 L1509.5,618.9 M1529.4,613.0 L1529.8,612.9 L1530.7,612.6 M1550.6,606.9 L1551.8,606.5 L1553.8,606.0 L1555.8,605.4 L1557.8,604.8 L1559.8,604.3 L1561.8,603.7 L1563.8,603.1 L1565.8,602.6 L1567.8,602.0 L1569.8,601.4 L1571.8,600.9 L1573.8,600.3 L1575.8,599.7 L1577.8,599.2 L1579.8,598.6 L1581.8,598.1 L1583.8,597.5 L1585.8,596.9 L1587.8,596.4 L1589.8,595.8 L1591.8,595.3 L1593.8,594.7 L1595.8,594.2 L1597.8,593.6 L1599.8,593.0 L1601.8,592.5 L1603.2,592.1 M1623.1,586.6 L1623.8,586.4 L1624.4,586.3 M1644.3,580.8 L1645.8,580.4 L1647.8,579.9 L1649.8,579.4 L1651.8,578.8 L1653.8,578.3 L1655.8,577.7 L1657.8,577.2 L1659.8,576.6 L1661.8,576.1 L1663.8,575.6 L1665.8,575.0 L1667.8,574.5 L1669.8,573.9 L1671.8,573.4 L1673.8,572.9 L1675.8,572.3 L1677.8,571.8 L1679.8,571.2 L1681.8,570.7 L1683.8,570.2 L1685.8,569.6 L1687.8,569.1 L1689.8,568.5 L1691.8,568.0 L1693.8,567.5 L1695.8,566.9 L1696.9,566.6 M1716.8,561.3 L1717.8,561.0 L1718.1,560.9 M1738.0,555.5 L1739.8,555.0 L1741.8,554.5 L1743.8,553.9 L1745.8,553.4 L1747.8,552.8 L1749.8,552.3 L1751.8,551.8 L1753.8,551.2 L1755.8,550.7 L1757.8,550.1 L1759.8,549.6 L1761.8,549.0 L1763.8,548.5 L1765.8,547.9 L1767.8,547.4 L1769.8,546.8 L1771.8,546.3 L1773.8,545.7 L1775.8,545.2 L1777.8,544.6 L1779.8,544.1 L1781.8,543.5 L1783.8,543.0 L1785.8,542.4 L1787.8,541.9 L1789.8,541.3 L1790.5,541.1 M1810.5,535.5 L1811.8,535.2 M1831.7,529.5 L1831.8,529.5 L1833.8,528.9 L1835.8,528.3 L1837.8,527.7 L1839.8,527.2 L1841.8,526.6 L1843.8,526.0 L1845.8,525.4 L1847.8,524.9 L1849.8,524.3 L1851.8,523.7 L1853.8,523.1 L1855.8,522.5 L1857.8,521.9 L1859.8,521.4 L1861.8,520.8 L1863.8,520.2 L1865.8,519.6 L1867.8,519.0 L1869.8,518.4 L1871.8,517.8 L1873.8,517.2 L1875.8,516.6 L1877.8,516.0 L1879.8,515.4 L1881.8,514.8 L1883.7,514.2 L1884.2,514.1 M1904.1,508.0 L1904.7,507.8 L1905.4,507.6 M1925.4,501.5 L1925.8,501.3 L1927.7,500.7 L1929.6,500.1 L1931.5,499.5 L1933.4,498.9 L1935.3,498.3 L1937.2,497.7 L1939.1,497.1 L1941.0,496.5 L1942.9,495.9 L1944.8,495.3 L1946.7,494.7 L1948.6,494.1 L1950.6,493.5 L1952.5,492.9 L1954.4,492.3 L1956.3,491.7 L1958.2,491.1 L1960.1,490.5 L1962.0,489.9 L1963.9,489.2 L1965.8,488.6 L1967.7,488.0 L1969.6,487.4 L1971.5,486.8 L1973.4,486.2 L1975.3,485.6 L1977.2,485.0 L1977.9,484.7 M1997.8,478.3 L1998.1,478.2 L1999.1,477.8 M2019.0,471.3 L2019.1,471.3 L2021.0,470.7 L2022.9,470.1 L2024.8,469.5 L2026.7,468.9 L2028.6,468.2 L2030.5,467.6 L2032.4,467.0 L2034.3,466.4 L2036.2,465.7 L2038.1,465.1 L2040.0,464.5 L2041.9,463.9 L2043.8,463.2 L2045.7,462.6 L2047.6,462.0 L2049.5,461.4 L2051.4,460.7 L2053.3,460.1 L2055.2,459.5 L2057.1,458.9 L2059.0,458.2 L2060.9,457.6 L2062.8,457.0 L2064.7,456.4 L2066.6,455.7 L2068.5,455.1 L2070.4,454.5 L2071.6,454.1 M2091.5,447.5 L2092.8,447.1 M2112.7,440.6 L2114.1,440.2 L2116.0,439.5 L2117.9,438.9 L2119.8,438.3 L2121.7,437.7 L2123.6,437.1 L2125.5,436.5 L2127.4,435.8 L2129.3,435.2 L2131.2,434.6 L2133.1,434.0 L2135.0,433.4 L2136.9,432.8 L2138.8,432.1 L2140.7,431.5 L2142.6,430.9 L2144.5,430.3 L2146.4,429.7 L2148.3,429.1 L2150.2,428.5 L2152.1,427.9 L2154.0,427.2 L2155.9,426.6 L2157.8,426.0 L2159.8,425.4 L2161.7,424.8 L2163.6,424.2 L2165.3,423.6 M2185.2,417.3 L2186.4,417.0 L2186.5,416.9 M2206.4,410.7 L2207.4,410.4 L2209.4,409.8 L2211.3,409.2 L2213.2,408.7 L2215.1,408.1 L2217.0,407.5 L2218.9,406.9 L2220.8,406.3 L2222.7,405.7 L2224.7,405.2 L2226.6,404.6 L2228.5,404.0 L2230.4,403.4 L2232.3,402.8 L2234.2,402.3 L2236.1,401.7 L2238.1,401.1 L2240.1,400.5 L2242.1,399.9 L2244.1,399.3 L2246.1,398.7 L2248.1,398.1 L2250.1,397.5 L2252.1,396.9 L2254.1,396.4 L2256.1,395.8 L2258.1,395.2 L2259.0,394.9 M2278.9,389.2 L2280.1,388.9 L2280.2,388.8 M2300.1,383.3 L2300.1,383.3 L2302.1,382.7 L2304.1,382.2 L2306.1,381.6 L2308.1,381.1 L2310.1,380.5 L2312.1,380.0 L2314.1,379.5 L2316.1,378.9 L2318.1,378.4 L2320.1,377.9 L2322.1,377.3 L2324.1,376.8 L2326.1,376.3 L2328.1,375.7 L2330.1,375.2 L2332.1,374.7 L2334.1,374.2 L2336.1,373.7 L2338.1,373.2 L2340.1,372.6 L2342.1,372.1 L2344.1,371.6 L2346.1,371.1 L2348.1,370.6 L2350.1,370.1 L2352.1,369.6 L2352.7,369.5 M2372.6,364.6 L2373.9,364.3" stroke="#ff00ff" stroke-width="8"/>
<path d="M351.0,1560.0 L352.1,1558.3 L353.2,1556.6 L354.3,1555.0 L355.3,1553.3 L356.4,1551.6 L357.5,1549.9 L358.6,1548.3 L359.7,1546.6 L360.8,1544.9 L361.9,1543.2 L363.0,1541.6 L364.1,1539.9 L365.2,1538.2 L366.3,1536.6 L367.4,1534.9 L368.5,1533.3 L369.6,1531.6 L370.7,1529.9 L371.9,1528.3 L373.0,1526.6 L374.1,1525.0 L375.2,1523.3 L376.3,1521.6 L377.4,1520.0 L378.6,1518.3 L379.7,1516.7 L380.8,1515.0 L381.9,1513.4 L383.1,1511.7 L384.2,1510.1 L385.3,1508.4 L386.1,1507.3 M400.4,1486.6 L400.7,1486.2 M415.1,1465.8 L415.4,1465.4 M430.8,1443.6 L431.3,1443.0 L432.4,1441.3 L433.6,1439.7 L434.7,1438.1 L435.9,1436.4 L437.1,1434.8 L438.2,1433.2 L439.4,1431.5 L440.5,1429.9 L441.7,1428.3 L442.9,1426.7 L444.0,1425.0 L445.2,1423.4 L446.3,1421.8 L447.5,1420.1 L448.7,1418.5 L449.8,1416.9 L451.0,1415.3 L452.1,1413.6 L453.3,1412.0 L454.5,1410.4 L455.6,1408.7 L456.8,1407.1 L458.0,1405.5 L459.1,1403.9 L460.3,1402.2 L461.4,1400.6 L462.6,1399.0 L463.8,1397.4 L464.9,1395.7 L466.1,1394.1 L467.2,1392.6 M482.1,1371.9 L482.4,1371.5 M497.3,1351.0 L497.6,1350.6 M513.7,1328.9 L514.4,1327.9 L515.6,1326.3 L516.8,1324.7 L518.0,1323.1 L519.2,1321.5 L520.4,1319.9 L521.6,1318.3 L522.8,1316.7 L524.0,1315.1 L525.2,1313.5 L526.4,1311.9 L527.6,1310.3 L528.8,1308.7 L530.0,1307.1 L531.2,1305.5 L532.4,1303.9 L533.6,1302.3 L534.8,1300.7 L536.0,1299.1 L537.3,1297.5 L538.5,1295.9 L539.7,1294.4 L540.9,1292.8 L542.1,1291.2 L543.3,1289.6 L544.5,1288.0 L545.7,1286.4 L547.0,1284.8 L548.2,1283.2 L549.4,1281.6 L550.6,1280.1 L551.8,1278.5 L552.3,1277.8 M568.4,1257.1 L568.7,1256.7 M584.9,1236.3 L585.1,1236.0 L585.2,1235.9 M602.6,1214.1 L602.6,1214.1 L603.9,1212.6 L605.1,1211.0 L606.4,1209.5 L607.6,1207.9 L608.9,1206.4 L610.1,1204.8 L611.4,1203.2 L612.7,1201.7 L613.9,1200.1 L615.2,1198.6 L616.5,1197.0 L617.7,1195.5 L619.0,1193.9 L620.2,1192.4 L621.5,1190.8 L622.8,1189.3 L624.0,1187.8 L625.3,1186.2 L626.6,1184.7 L627.9,1183.1 L629.1,1181.6 L630.4,1180.0 L631.7,1178.5 L633.0,1177.0 L634.2,1175.4 L635.5,1173.9 L636.8,1172.3 L638.1,1170.8 L639.3,1169.3 L640.6,1167.7 L641.9,1166.2 L643.2,1164.7 L644.5,1163.2 L644.5,1163.1 M662.2,1142.4 L662.5,1142.0 M680.7,1121.5 L681.1,1121.1 M701.8,1099.4 L701.9,1099.3 L703.3,1097.9 L704.7,1096.5 L706.2,1095.1 L707.6,1093.7 L709.0,1092.3 L710.5,1090.9 L711.9,1089.5 L713.3,1088.1 L714.8,1086.8 L716.2,1085.4 L717.7,1084.0 L719.2,1082.7 L720.6,1081.3 L722.1,1080.0 L723.6,1078.6 L725.0,1077.3 L726.5,1075.9 L728.0,1074.6 L729.5,1073.3 L731.0,1071.9 L732.5,1070.6 L734.0,1069.3 L735.5,1068.0 L737.0,1066.7 L738.6,1065.4 L740.1,1064.1 L741.6,1062.8 L743.1,1061.5 L744.7,1060.3 L746.2,1059.0 L747.7,1057.7 L749.3,1056.4 L750.8,1055.2 L752.4,1053.9 L752.9,1053.5 M773.6,1037.5 L774.0,1037.2 M794.4,1022.5 L794.8,1022.3 M816.6,1007.6 L817.2,1007.2 L818.9,1006.1 L820.6,1005.1 L822.2,1004.0 L823.9,1002.9 L825.6,1001.8 L827.3,1000.8 L829.0,999.7 L830.7,998.6 L832.4,997.6 L834.1,996.5 L835.8,995.5 L837.5,994.4 L839.2,993.4 L840.9,992.3 L842.6,991.3 L844.3,990.3 L846.0,989.2 L847.8,988.2 L849.5,987.2 L851.2,986.2 L852.9,985.2 L854.6,984.2 L856.4,983.1 L858.1,982.1 L859.8,981.1 L861.6,980.1 L863.3,979.1 L865.0,978.2 L866.8,977.2 L867.6,976.7 M888.3,965.3 L888.7,965.1 M909.2,954.3 L909.6,954.1 M931.3,943.2 L932.2,942.7 L934.0,941.9 L935.8,941.0 L937.6,940.1 L939.4,939.2 L941.2,938.4 L943.0,937.5 L944.8,936.6 L946.6,935.8 L948.4,934.9 L950.2,934.0 L952.0,933.2 L953.8,932.3 L955.6,931.5 L957.4,930.6 L959.3,929.8 L961.1,928.9 L962.9,928.1 L964.7,927.2 L966.5,926.4 L968.3,925.5 L970.1,924.7 L971.9,923.9 L973.8,923.0 L975.6,922.2 L977.4,921.4 L979.2,920.5 L981.0,919.7 L982.4,919.1 M1003.1,909.8 L1003.5,909.6 M1023.9,900.7 L1024.3,900.5 M1046.1,891.2 L1047.0,890.8 L1048.8,890.0 L1050.6,889.2 L1052.5,888.5 L1054.3,887.7 L1056.2,886.9 L1058.0,886.1 L1059.9,885.3 L1061.7,884.6 L1063.5,883.8 L1065.4,883.0 L1067.2,882.2 L1069.1,881.5 L1070.9,880.7 L1072.8,879.9 L1074.6,879.2 L1076.5,878.4 L1078.3,877.6 L1080.2,876.9 L1082.0,876.1 L1083.8,875.3 L1085.7,874.6 L1087.5,873.8 L1089.4,873.0 L1091.2,872.3 L1093.1,871.5 L1094.9,870.8 L1096.8,870.0 L1097.1,869.9 M1117.8,861.5 L1118.2,861.3 M1138.7,853.2 L1139.1,853.0 M1160.8,844.5 L1161.8,844.1 L1163.7,843.4 L1165.6,842.7 L1167.4,842.0 L1169.3,841.3 L1171.2,840.6 L1173.0,839.9 L1174.9,839.1 L1176.8,838.4 L1178.6,837.7 L1180.5,837.0 L1182.4,836.3 L1184.3,835.6 L1186.1,834.9 L1188.0,834.2 L1189.9,833.5 L1191.7,832.8 L1193.6,832.1 L1195.5,831.4 L1197.4,830.7 L1199.2,830.0 L1201.1,829.3 L1203.0,828.6 L1204.9,827.9 L1206.7,827.2 L1208.6,826.5 L1210.5,825.9 L1211.9,825.4 M1232.6,817.9 L1233.0,817.8 M1253.4,810.6 L1253.8,810.4 M1275.6,803.0 L1276.5,802.7 L1278.4,802.0 L1280.3,801.4 L1282.2,800.8 L1284.1,800.1 L1286.0,799.5 L1287.9,798.9 L1289.8,798.3 L1291.7,797.6 L1293.6,797.0 L1295.5,796.4 L1297.4,795.8 L1299.3,795.1 L1301.2,794.5 L1303.1,793.9 L1305.0,793.3 L1306.9,792.7 L1308.8,792.1 L1310.7,791.5 L1312.6,790.9 L1314.6,790.2 L1316.5,789.6 L1318.4,789.0 L1320.3,788.4 L1322.2,787.8 L1324.1,787.2 L1326.0,786.6 L1326.6,786.5 M1347.3,780.1 L1347.7,780.0 M1368.2,773.9 L1368.6,773.8 M1390.3,767.5 L1390.9,767.4 L1392.9,766.8 L1394.9,766.2 L1396.9,765.7 L1398.9,765.1 L1400.9,764.5 L1402.9,764.0 L1404.9,763.4 L1406.9,762.9 L1408.9,762.3 L1410.9,761.7 L1412.9,761.2 L1414.9,760.6 L1416.9,760.1 L1418.9,759.5 L1420.9,759.0 L1422.9,758.4 L1424.9,757.9 L1426.9,757.3 L1428.9,756.8 L1430.9,756.2 L1432.9,755.7 L1434.9,755.1 L1436.9,754.6 L1438.9,754.0 L1440.9,753.5 L1441.4,753.4 M1462.1,747.8 L1462.5,747.7 M1482.9,742.2 L1483.3,742.1 M1505.1,736.4 L1506.9,735.9 L1508.9,735.4 L1510.9,734.8 L1512.9,734.3 L1514.9,733.8 L1516.9,733.2 L1518.9,732.7 L1520.9,732.2 L1522.9,731.7 L1524.9,731.1 L1526.9,730.6 L1528.9,730.1 L1530.9,729.5 L1532.9,729.0 L1534.9,728.5 L1536.9,728.0 L1538.9,727.4 L1540.9,726.9 L1542.9,726.4 L1544.9,725.8 L1546.9,725.3 L1548.9,724.8 L1550.9,724.2 L1552.9,723.7 L1554.9,723.2 L1556.1,722.8 M1576.8,717.3 L1576.9,717.3 L1577.2,717.2 M1597.7,711.6 L1598.1,711.5 M1619.8,705.5 L1620.9,705.2 L1622.9,704.6 L1624.9,704.0 L1626.9,703.5 L1628.9,702.9 L1630.9,702.4 L1632.9,701.8 L1634.9,701.2 L1636.9,700.7 L1638.9,700.1 L1640.9,699.5 L1642.9,699.0 L1644.9,698.4 L1646.9,697.8 L1648.9,697.3 L1650.9,696.7 L1652.9,696.1 L1654.9,695.6 L1656.9,695.0 L1658.9,694.4 L1660.9,693.8 L1662.9,693.3 L1664.9,692.7 L1666.9,692.1 L1668.9,691.6 L1670.9,691.0 M1691.6,685.0 L1692.0,684.9 M1712.4,679.0 L1712.8,678.8 M1734.5,672.5 L1734.9,672.4 L1736.9,671.8 L1738.9,671.3 L1740.9,670.7 L1742.9,670.1 L1744.9,669.5 L1746.9,668.9 L1748.9,668.3 L1750.9,667.8 L1752.9,667.2 L1754.9,666.6 L1756.9,666.0 L1758.9,665.4 L1760.9,664.9 L1762.9,664.3 L1764.9,663.7 L1766.9,663.1 L1768.9,662.5 L1770.9,661.9 L1772.9,661.4 L1774.9,660.8 L1776.9,660.2 L1778.9,659.6 L1780.9,659.0 L1782.9,658.5 L1784.9,657.9 L1785.6,657.7 M1806.3,651.7 L1806.7,651.6 M1827.2,645.7 L1827.6,645.6 M1849.3,639.4 L1850.9,639.0 L1852.9,638.4 L1854.9,637.8 L1856.9,637.3 L1858.9,636.7 L1860.9,636.1 L1862.9,635.6 L1864.9,635.0 L1866.9,634.5 L1868.9,633.9 L1870.9,633.3 L1872.9,632.8 L1874.9,632.2 L1876.9,631.7 L1878.9,631.1 L1880.9,630.6 L1882.9,630.0 L1884.9,629.4 L1886.9,628.9 L1888.9,628.3 L1890.9,627.8 L1892.9,627.2 L1894.9,626.7 L1896.9,626.1 L1898.9,625.6 L1900.4,625.2 M1921.1,619.5 L1921.5,619.4 M1941.9,613.9 L1942.3,613.7 M1964.0,607.9 L1964.9,607.7 L1966.9,607.1 L1968.9,606.6 L1970.9,606.1 L1972.9,605.5 L1974.9,605.0 L1976.9,604.5 L1978.9,603.9 L1980.9,603.4 L1982.9,602.9 L1984.9,602.3 L1986.9,601.8 L1988.9,601.3 L1990.9,600.7 L1992.9,600.2 L1994.9,599.7 L1996.9,599.1 L1998.9,598.6 L2000.9,598.1 L2002.9,597.5 L2004.9,597.0 L2006.9,596.5 L2008.9,596.0 L2010.9,595.4 L2012.9,594.9 L2014.9,594.4 L2015.1,594.3 M2035.8,588.8 L2036.2,588.7 M2056.7,583.3 L2056.9,583.3 L2057.1,583.2 M2078.8,577.5 L2078.9,577.5 L2080.9,577.0 L2082.9,576.4 L2084.9,575.9 L2086.9,575.4 L2088.9,574.9 L2090.9,574.3 L2092.9,573.8 L2094.9,573.3 L2096.9,572.8 L2098.9,572.2 L2100.9,571.7 L2102.9,571.2 L2104.9,570.7 L2106.9,570.1 L2108.9,569.6 L2110.9,569.1 L2112.9,568.6 L2114.9,568.0 L2116.9,567.5 L2118.9,567.0 L2120.9,566.4 L2122.9,565.9 L2124.9,565.4 L2126.9,564.9 L2128.9,564.3 L2129.8,564.1 M2150.6,558.6 L2150.9,558.6 L2151.0,558.5 M2171.4,553.2 L2171.8,553.1 M2193.5,547.7 L2194.9,547.4 L2196.9,546.9 L2198.9,546.4 L2200.9,545.9 L2202.9,545.4 L2204.9,544.9 L2206.9,544.5 L2208.9,544.0 L2210.9,543.5 L2212.9,543.1 L2214.9,542.6 L2216.9,542.2 L2218.9,541.7 L2220.9,541.3 L2222.9,540.8 L2224.9,540.4 L2226.9,539.9 L2228.9,539.5 L2230.9,539.1 L2232.9,538.6 L2234.9,538.2 L2236.9,537.8 L2238.9,537.4 L2240.9,537.0 L2242.9,536.6 L2244.6,536.2 M2265.3,532.3 L2265.7,532.3 M2286.1,529.0 L2286.5,529.0 M2308.3,526.3 L2308.9,526.2 L2310.9,526.0 L2312.9,525.8 L2314.9,525.6 L2316.9,525.4 L2318.9,525.2 L2320.9,525.1 L2322.9,524.9 L2324.9,524.8 L2326.9,524.6 L2328.9,524.5 L2330.9,524.3 L2332.9,524.2 L2334.9,524.1 L2336.9,524.0 L2338.9,523.9 L2340.9,523.8 L2342.9,523.7 L2344.9,523.7 L2346.9,523.6 L2348.9,523.5 L2350.9,523.5 L2352.9,523.5 L2354.9,523.4 L2356.9,523.4 L2358.9,523.4 L2359.3,523.4 M2379.4,514.9 L2379.8,514.9" stroke="#000080" stroke-width="9"/>
<path d="M351.0,1560.0 L352.0,1558.3 L353.0,1556.6 L354.0,1554.8 L355.0,1553.1 L356.1,1551.4 L357.1,1549.7 L358.1,1548.0 L359.2,1546.3 L360.2,1544.6 L361.3,1542.9 L362.3,1541.2 L363.4,1539.5 L364.4,1537.8 L365.5,1536.1 L366.6,1534.4 L367.7,1532.8 L368.7,1531.1 L369.8,1529.4 L370.9,1527.7 L372.0,1526.1 L373.1,1524.4 L374.2,1522.7 L375.3,1521.1 L376.4,1519.4 L377.5,1517.7 L378.6,1516.1 L379.7,1514.4 L380.9,1512.8 L382.0,1511.1 L383.1,1509.5 L384.2,1507.8 L385.4,1506.2 L386.5,1504.5 L387.7,1502.9 L388.8,1501.3 L389.9,1499.6 L391.1,1498.0 L392.2,1496.3 L393.4,1494.7 L394.5,1493.1 L395.7,1491.4 L396.8,1489.8 L398.0,1488.2 L399.1,1486.5 L400.3,1484.9 L401.4,1483.3 L402.6,1481.6 L403.7,1480.0 L404.9,1478.4 L406.0,1476.7 L407.2,1475.1 L408.3,1473.4 L409.5,1471.8 L410.6,1470.2 L411.8,1468.5 L412.9,1466.9 L414.1,1465.3 L415.2,1463.6 L416.4,1462.0 L417.5,1460.3 L418.7,1458.7 L419.8,1457.0 L420.9,1455.4 L422.1,1453.7 L423.2,1452.1 L424.3,1450.4 L425.5,1448.8 L426.6,1447.1 L427.7,1445.5 L428.8,1443.8 L429.9,1442.1 L431.0,1440.5 L432.2,1438.8 L433.3,1437.1 L434.4,1435.5 L435.5,1433.8 L436.6,1432.1 L437.7,1430.5 L438.8,1428.8 L439.9,1427.1 L441.0,1425.4 L442.0,1423.7 L443.1,1422.1 L444.2,1420.4 L445.3,1418.7 L446.4,1417.0 L447.5,1415.4 L448.6,1413.7 L449.7,1412.0 L450.7,1410.3 L451.8,1408.6 L452.9,1406.9 L454.0,1405.3 L455.1,1403.6 L456.2,1401.9 L457.2,1400.2 L458.3,1398.5 L459.4,1396.9 L460.5,1395.2 L461.6,1393.5 L462.7,1391.8 L463.7,1390.1 L464.8,1388.5 L465.9,1386.8 L467.0,1385.1 L468.1,1383.4 L469.2,1381.7 L470.3,1380.1 L471.3,1378.4 L472.4,1376.7 L473.5,1375.0 L474.6,1373.4 L475.7,1371.7 L476.8,1370.0 L477.9,1368.4 L479.0,1366.7 L480.1,1365.0 L481.2,1363.4 L482.4,1361.7 L483.5,1360.1 L484.6,1358.4 L485.7,1356.7 L486.8,1355.1 L487.9,1353.4 L489.1,1351.8 L490.2,1350.1 L491.3,1348.5 L492.5,1346.9 L493.6,1345.2 L494.8,1343.6 L495.9,1342.0 L497.1,1340.3 L498.2,1338.7 L499.4,1337.1 L500.5,1335.4 L501.7,1333.8 L502.9,1332.2 L504.0,1330.6 L505.2,1329.0 L506.4,1327.3 L507.6,1325.7 L508.7,1324.1 L509.9,1322.5 L511.1,1320.9 L512.3,1319.3 L513.5,1317.7 L514.7,1316.1 L515.9,1314.5 L517.1,1312.9 L518.3,1311.3 L519.5,1309.7 L520.7,1308.1 L521.9,1306.5 L523.1,1304.9 L524.3,1303.3 L525.5,1301.7 L526.7,1300.1 L527.9,1298.6 L529.2,1297.0 L530.4,1295.4 L531.6,1293.8 L532.8,1292.2 L534.1,1290.7 L535.3,1289.1 L536.5,1287.5 L537.7,1285.9 L539.0,1284.3 L540.2,1282.8 L541.4,1281.2 L542.7,1279.6 L543.9,1278.1 L545.2,1276.5 L546.4,1274.9 L547.6,1273.3 L548.9,1271.8 L550.1,1270.2 L551.3,1268.6 L552.6,1267.1 L553.8,1265.5 L555.1,1263.9 L556.3,1262.4 L557.6,1260.8 L558.8,1259.2 L560.0,1257.7 L561.3,1256.1 L562.5,1254.5 L563.8,1253.0 L565.0,1251.4 L566.3,1249.8 L567.5,1248.3 L568.7,1246.7 L570.0,1245.1 L571.2,1243.6 L572.5,1242.0 L573.7,1240.4 L575.0,1238.9 L576.2,1237.3 L577.4,1235.7 L578.7,1234.2 L579.9,1232.6 L581.2,1231.1 L582.4,1229.5 L583.7,1227.9 L584.9,1226.4 L586.2,1224.8 L587.4,1223.3 L588.7,1221.7 L589.9,1220.1 L591.2,1218.6 L592.5,1217.0 L593.7,1215.5 L595.0,1213.9 L596.2,1212.4 L597.5,1210.8 L598.8,1209.3 L600.0,1207.7 L601.3,1206.2 L602.6,1204.7 L603.9,1203.1 L605.1,1201.6 L606.4,1200.1 L607.7,1198.5 L609.0,1197.0 L610.3,1195.5 L611.6,1193.9 L612.9,1192.4 L614.2,1190.9 L615.5,1189.4 L616.8,1187.9 L618.1,1186.4 L619.4,1184.8 L620.7,1183.3 L622.0,1181.8 L623.3,1180.3 L624.6,1178.8 L626.0,1177.4 L627.3,1175.9 L628.6,1174.4 L630.0,1172.9 L631.3,1171.4 L632.7,1170.0 L634.0,1168.5 L635.4,1167.0 L636.8,1165.6 L638.1,1164.1 L639.5,1162.7 L640.9,1161.2 L642.3,1159.8 L643.7,1158.4 L645.1,1156.9 L646.5,1155.5 L647.9,1154.1 L649.3,1152.7 L650.7,1151.3 L652.1,1149.9 L653.6,1148.5 L655.0,1147.1 L656.5,1145.8 L657.9,1144.4 L659.4,1143.1 L660.9,1141.7 L662.3,1140.4 L663.8,1139.1 L665.3,1137.7 L666.8,1136.4 L668.4,1135.1 L669.9,1133.8 L671.4,1132.6 L672.9,1131.3 L674.5,1130.0 L676.0,1128.8 L677.6,1127.5 L679.1,1126.3 L680.7,1125.0 L682.3,1123.8 L683.9,1122.6 L685.4,1121.3 L687.0,1120.1 L688.6,1118.9 L690.2,1117.7 L691.8,1116.5 L693.4,1115.4 L695.0,1114.2 L696.7,1113.0 L698.3,1111.9 L699.9,1110.7 L701.6,1109.6 L703.2,1108.5 L704.9,1107.4 L706.6,1106.3 L708.2,1105.2 L709.9,1104.1 L711.6,1103.1 L713.3,1102.1 L715.1,1101.1 L716.8,1100.1 L718.5,1099.1 L720.3,1098.1 L722.0,1097.2 L723.8,1096.2 L725.5,1095.3 L727.3,1094.4 L729.1,1093.5 L730.9,1092.6 L732.7,1091.7 L734.5,1090.9 L736.3,1090.0 L738.1,1089.2 L739.9,1088.3 L741.7,1087.5 L743.6,1086.7 L745.4,1085.9 L747.2,1085.1 L749.0,1084.3 L750.9,1083.5 L752.7,1082.6 L754.5,1081.8 L756.4,1081.0 L758.2,1080.2 L760.0,1079.4 L761.9,1078.6 L763.7,1077.8 L765.5,1077.0 L767.3,1076.2 L769.2,1075.4 L771.0,1074.5 L772.8,1073.7 L774.6,1072.9 L776.5,1072.0 L778.3,1071.2 L780.1,1070.4 L781.9,1069.6 L783.7,1068.7 L785.5,1067.9 L787.4,1067.0 L789.2,1066.2 L791.0,1065.4 L792.8,1064.5 L794.6,1063.7 L796.4,1062.9 L798.3,1062.0 L800.1,1061.2 L801.9,1060.4 L803.7,1059.5 L805.5,1058.7 L807.4,1057.9 L809.2,1057.1 L811.0,1056.2 L812.8,1055.4 L814.6,1054.6 L816.5,1053.8 L818.3,1053.0 L820.1,1052.1 L822.0,1051.3 L823.8,1050.5 L825.6,1049.7 L827.4,1048.9 L829.3,1048.1 L831.1,1047.3 L832.9,1046.5 L834.8,1045.7 L836.6,1044.9 L838.4,1044.1 L840.3,1043.3 L842.1,1042.6 L844.0,1041.8 L845.8,1041.0 L847.6,1040.2 L849.5,1039.4 L851.3,1038.6 L853.2,1037.9 L855.0,1037.1 L856.9,1036.3 L858.7,1035.6 L860.6,1034.8 L862.4,1034.0 L864.2,1033.3 L866.1,1032.5 L867.9,1031.8 L869.8,1031.0 L871.7,1030.3 L873.5,1029.5 L875.4,1028.8 L877.2,1028.0 L879.1,1027.3 L880.9,1026.5 L882.8,1025.8 L884.6,1025.1 L886.5,1024.3 L888.4,1023.6 L890.2,1022.9 L892.1,1022.1 L894.0,1021.4 L895.8,1020.7 L897.7,1020.0 L899.6,1019.2 L901.4,1018.5 L903.3,1017.8 L905.2,1017.1 L907.0,1016.4 L908.9,1015.7 L910.8,1015.0 L912.6,1014.3 L914.5,1013.6 L916.4,1012.9 L918.3,1012.2 L920.1,1011.5 L922.0,1010.8 L923.9,1010.1 L925.8,1009.4 L927.6,1008.7 L929.5,1008.1 L931.4,1007.4 L933.3,1006.7 L935.2,1006.0 L937.0,1005.3 L938.9,1004.7 L940.8,1004.0 L942.7,1003.3 L944.6,1002.7 L946.5,1002.0 L948.4,1001.4 L950.3,1000.7 L952.1,1000.0 L954.0,999.4 L955.9,998.7 L957.8,998.1 L959.7,997.4 L961.6,996.8 L963.5,996.2 L965.4,995.5 L967.3,994.9 L969.2,994.3 L971.1,993.6 L973.0,993.0 L974.9,992.4 L976.8,991.7 L978.7,991.1 L980.6,990.5 L982.5,989.9 L984.4,989.3 L986.3,988.7 L988.2,988.0 L990.1,987.4 L992.0,986.8 L993.9,986.2 L995.8,985.6 L997.7,985.0 L999.6,984.4 L1001.5,983.8 L1003.4,983.2 L1005.4,982.7 L1007.3,982.1 L1009.2,981.5 L1011.1,980.9 L1013.0,980.3 L1014.9,979.7 L1016.8,979.2 L1018.8,978.6 L1020.8,978.0 L1022.8,977.4 L1024.8,976.8 L1026.8,976.2 L1028.8,975.6 L1030.8,975.0 L1032.8,974.5 L1034.8,973.9 L1036.8,973.3 L1038.8,972.7 L1040.8,972.2 L1042.8,971.6 L1044.8,971.0 L1046.8,970.5 L1048.8,969.9 L1050.8,969.4 L1052.8,968.8 L1054.8,968.3 L1056.8,967.7 L1058.8,967.2 L1060.8,966.7 L1062.8,966.1 L1064.8,965.6 L1066.8,965.0 L1068.8,964.5 L1070.8,964.0 L1072.8,963.5 L1074.8,962.9 L1076.8,962.4 L1078.8,961.9 L1080.8,961.4 L1082.8,960.9 L1084.8,960.4 L1086.8,959.9 L1088.8,959.4 L1090.8,958.9 L1092.8,958.4 L1094.8,957.9 L1096.8,957.4 L1098.8,956.9 L1100.8,956.4 L1102.8,955.9 L1104.8,955.5 L1106.8,955.0 L1108.8,954.5 L1110.8,954.0 L1112.8,953.5 L1114.8,953.1 L1116.8,952.6 L1118.8,952.1 L1120.8,951.7 L1122.8,951.2 L1124.8,950.8 L1126.8,950.3 L1128.8,949.9 L1130.8,949.4 L1132.8,949.0 L1134.8,948.5 L1136.8,948.1 L1138.8,947.6 L1140.8,947.2 L1142.8,946.8 L1144.8,946.3 L1146.8,945.9 L1148.8,945.5 L1150.8,945.0 L1152.8,944.6 L1154.8,944.2 L1156.8,943.8 L1158.8,943.3 L1160.8,942.9 L1162.8,942.5 L1164.8,942.1 L1166.8,941.7 L1168.8,941.3 L1170.8,940.9 L1172.8,940.5 L1174.8,940.1 L1176.8,939.7 L1178.8,939.3 L1180.8,938.9 L1182.8,938.5 L1184.8,938.1 L1186.8,937.7 L1188.8,937.3 L1190.8,936.9 L1192.8,936.5 L1194.8,936.1 L1196.8,935.8 L1198.8,935.4 L1200.8,935.0 L1202.8,934.6 L1204.8,934.3 L1206.8,933.9 L1208.8,933.5 L1210.8,933.2 L1212.8,932.8 L1214.8,932.4 L1216.8,932.1 L1218.8,931.7 L1220.8,931.3 L1222.8,931.0 L1224.8,930.6 L1226.8,930.3 L1228.8,929.9 L1230.8,929.6 L1232.8,929.2 L1234.8,928.9 L1236.8,928.5 L1238.8,928.2 L1240.8,927.8 L1242.8,927.5 L1244.8,927.2 L1246.8,926.8 L1248.8,926.5 L1250.8,926.1 L1252.8,925.8 L1254.8,925.5 L1256.8,925.2 L1258.8,924.8 L1260.8,924.5 L1262.8,924.2 L1264.8,923.8 L1266.8,923.5 L1268.8,923.2 L1270.8,922.9 L1272.8,922.6 L1274.8,922.2 L1276.8,921.9 L1278.8,921.6 L1280.8,921.3 L1282.8,921.0 L1284.8,920.7 L1286.8,920.4 L1288.8,920.1 L1290.8,919.8 L1292.8,919.4 L1294.8,919.1 L1296.8,918.8 L1298.8,918.5 L1300.8,918.2 L1302.8,917.9 L1304.8,917.6 L1306.8,917.3 L1308.8,917.0 L1310.8,916.7 L1312.8,916.5 L1314.8,916.2 L1316.8,915.9 L1318.8,915.6 L1320.8,915.3 L1322.8,915.0 L1324.8,914.7 L1326.8,914.4 L1328.8,914.1 L1330.8,913.9 L1332.8,913.6 L1334.8,913.3 L1336.8,913.0 L1338.8,912.7 L1340.8,912.4 L1342.8,912.2 L1344.8,911.9 L1346.8,911.6 L1348.8,911.3 L1350.8,911.1 L1352.8,910.8 L1354.8,910.5 L1356.8,910.2 L1358.8,910.0 L1360.8,909.7 L1362.8,909.4 L1364.8,909.2 L1366.8,908.9 L1368.8,908.6 L1370.8,908.4 L1372.8,908.1 L1374.8,907.8 L1376.8,907.6 L1378.8,907.3 L1380.8,907.0 L1382.8,906.8 L1384.8,906.5 L1386.8,906.2 L1388.8,906.0 L1390.8,905.7 L1392.8,905.5 L1394.8,905.2 L1396.8,904.9 L1398.8,904.7 L1400.8,904.4 L1402.8,904.2 L1404.8,903.9 L1406.8,903.7 L1408.8,903.4 L1410.8,903.1 L1412.8,902.9 L1414.8,902.6 L1416.8,902.4 L1418.8,902.1 L1420.8,901.9 L1422.8,901.6 L1424.8,901.4 L1426.8,901.1 L1428.8,900.9 L1430.8,900.6 L1432.8,900.4 L1434.8,900.1 L1436.8,899.9 L1438.8,899.6 L1440.8,899.4 L1442.8,899.2 L1444.8,898.9 L1446.8,898.7 L1448.8,898.4 L1450.8,898.2 L1452.8,897.9 L1454.8,897.7 L1456.8,897.5 L1458.8,897.2 L1460.8,897.0 L1462.8,896.7 L1464.8,896.5 L1466.8,896.3 L1468.8,896.0 L1470.8,895.8 L1472.8,895.6 L1474.8,895.3 L1476.8,895.1 L1478.8,894.8 L1480.8,894.6 L1482.8,894.4 L1484.8,894.1 L1486.8,893.9 L1488.8,893.7 L1490.8,893.4 L1492.8,893.2 L1494.8,893.0 L1496.8,892.8 L1498.8,892.5 L1500.8,892.3 L1502.8,892.1 L1504.8,891.8 L1506.8,891.6 L1508.8,891.4 L1510.8,891.2 L1512.8,890.9 L1514.8,890.7 L1516.8,890.5 L1518.8,890.3 L1520.8,890.0 L1522.8,889.8 L1524.8,889.6 L1526.8,889.4 L1528.8,889.1 L1530.8,888.9 L1532.8,888.7 L1534.8,888.5 L1536.8,888.3 L1538.8,888.0 L1540.8,887.8 L1542.8,887.6 L1544.8,887.4 L1546.8,887.2 L1548.8,886.9 L1550.8,886.7 L1552.8,886.5 L1554.8,886.3 L1556.8,886.1 L1558.8,885.9 L1560.8,885.6 L1562.8,885.4 L1564.8,885.2 L1566.8,885.0 L1568.8,884.8 L1570.8,884.6 L1572.8,884.4 L1574.8,884.2 L1576.8,883.9 L1578.8,883.7 L1580.8,883.5 L1582.8,883.3 L1584.8,883.1 L1586.8,882.9 L1588.8,882.7 L1590.8,882.5 L1592.8,882.3 L1594.8,882.1 L1596.8,881.8 L1598.8,881.6 L1600.8,881.4 L1602.8,881.2 L1604.8,881.0 L1606.8,880.8 L1608.8,880.6 L1610.8,880.4 L1612.8,880.2 L1614.8,880.0 L1616.8,879.8 L1618.8,879.6 L1620.8,879.4 L1622.8,879.2 L1624.8,879.0 L1626.8,878.8 L1628.8,878.6 L1630.8,878.4 L1632.8,878.2 L1634.8,878.0 L1636.8,877.8 L1638.8,877.6 L1640.8,877.4 L1642.8,877.2 L1644.8,877.0 L1646.8,876.8 L1648.8,876.6 L1650.8,876.4 L1652.8,876.2 L1654.8,876.0 L1656.8,875.8 L1658.8,875.6 L1660.8,875.4 L1662.8,875.2 L1664.8,875.0 L1666.8,874.8 L1668.8,874.6 L1670.8,874.4 L1672.8,874.2 L1674.8,874.0 L1676.8,873.8 L1678.8,873.6 L1680.8,873.4 L1682.8,873.3 L1684.8,873.1 L1686.8,872.9 L1688.8,872.7 L1690.8,872.5 L1692.8,872.3 L1694.8,872.1 L1696.8,871.9 L1698.8,871.7 L1700.8,871.5 L1702.8,871.3 L1704.8,871.1 L1706.8,871.0 L1708.8,870.8 L1710.8,870.6 L1712.8,870.4 L1714.8,870.2 L1716.8,870.0 L1718.8,869.8 L1720.8,869.6 L1722.8,869.4 L1724.8,869.3 L1726.8,869.1 L1728.8,868.9 L1730.8,868.7 L1732.8,868.5 L1734.8,868.3 L1736.8,868.1 L1738.8,867.9 L1740.8,867.8 L1742.8,867.6 L1744.8,867.4 L1746.8,867.2 L1748.8,867.0 L1750.8,866.8 L1752.8,866.7 L1754.8,866.5 L1756.8,866.3 L1758.8,866.1 L1760.8,865.9 L1762.8,865.7 L1764.8,865.5 L1766.8,865.4 L1768.8,865.2 L1770.8,865.0 L1772.8,864.8 L1774.8,864.6 L1776.8,864.4 L1778.8,864.3 L1780.8,864.1 L1782.8,863.9 L1784.8,863.7 L1786.8,863.5 L1788.8,863.4 L1790.8,863.2 L1792.8,863.0 L1794.8,862.8 L1796.8,862.6 L1798.8,862.5 L1800.8,862.3 L1802.8,862.1 L1804.8,861.9 L1806.8,861.7 L1808.8,861.6 L1810.8,861.4 L1812.8,861.2 L1814.8,861.0 L1816.8,860.8 L1818.8,860.7 L1820.8,860.5 L1822.8,860.3 L1824.8,860.1 L1826.8,859.9 L1828.8,859.8 L1830.8,859.6 L1832.8,859.4 L1834.8,859.2 L1836.8,859.0 L1838.8,858.9 L1840.8,858.7 L1842.8,858.5 L1844.8,858.3 L1846.8,858.2 L1848.8,858.0 L1850.8,857.8 L1852.8,857.6 L1854.8,857.4 L1856.8,857.3 L1858.8,857.1 L1860.8,856.9 L1862.8,856.7 L1864.8,856.6 L1866.8,856.4 L1868.8,856.2 L1870.8,856.0 L1872.8,855.8 L1874.8,855.7 L1876.8,855.5 L1878.8,855.3 L1880.8,855.1 L1882.8,855.0 L1884.8,854.8 L1886.8,854.6 L1888.8,854.4 L1890.8,854.3 L1892.8,854.1 L1894.8,853.9 L1896.8,853.7 L1898.8,853.5 L1900.8,853.4 L1902.8,853.2 L1904.8,853.0 L1906.8,852.8 L1908.8,852.7 L1910.8,852.5 L1912.8,852.3 L1914.8,852.1 L1916.8,852.0 L1918.8,851.8 L1920.8,851.6 L1922.8,851.4 L1924.8,851.2 L1926.8,851.1 L1928.8,850.9 L1930.8,850.7 L1932.8,850.5 L1934.8,850.4 L1936.8,850.2 L1938.8,850.0 L1940.8,849.8 L1942.8,849.7 L1944.8,849.5 L1946.8,849.3 L1948.8,849.1 L1950.8,848.9 L1952.8,848.8 L1954.8,848.6 L1956.8,848.4 L1958.8,848.2 L1960.8,848.1 L1962.8,847.9 L1964.8,847.7 L1966.8,847.5 L1968.8,847.4 L1970.8,847.2 L1972.8,847.0 L1974.8,846.8 L1976.8,846.6 L1978.8,846.5 L1980.8,846.3 L1982.8,846.1 L1984.8,845.9 L1986.8,845.8 L1988.8,845.6 L1990.8,845.4 L1992.8,845.2 L1994.8,845.0 L1996.8,844.9 L1998.8,844.7 L2000.8,844.5 L2002.8,844.3 L2004.8,844.1 L2006.8,844.0 L2008.8,843.8 L2010.8,843.6 L2012.8,843.4 L2014.8,843.2 L2016.8,843.1 L2018.8,842.9 L2020.8,842.7 L2022.8,842.5 L2024.8,842.3 L2026.8,842.2 L2028.8,842.0 L2030.8,841.8 L2032.8,841.6 L2034.8,841.4 L2036.8,841.3 L2038.8,841.1 L2040.8,840.9 L2042.8,840.7 L2044.8,840.5 L2046.8,840.4 L2048.8,840.2 L2050.8,840.0 L2052.8,839.8 L2054.8,839.6 L2056.8,839.4 L2058.8,839.3 L2060.8,839.1 L2062.8,838.9 L2064.8,838.7 L2066.8,838.5 L2068.8,838.3 L2070.8,838.2 L2072.8,838.0 L2074.8,837.8 L2076.8,837.6 L2078.8,837.4 L2080.8,837.2 L2082.8,837.1 L2084.8,836.9 L2086.8,836.7 L2088.8,836.5 L2090.8,836.3 L2092.8,836.1 L2094.8,835.9 L2096.8,835.8 L2098.8,835.6 L2100.8,835.4 L2102.8,835.2 L2104.8,835.0 L2106.8,834.8 L2108.8,834.6 L2110.8,834.4 L2112.8,834.3 L2114.8,834.1 L2116.8,833.9 L2118.8,833.7 L2120.8,833.5 L2122.8,833.3 L2124.8,833.1 L2126.8,832.9 L2128.8,832.7 L2130.8,832.5 L2132.8,832.4 L2134.8,832.2 L2136.8,832.0 L2138.8,831.8 L2140.8,831.6 L2142.8,831.4 L2144.8,831.2 L2146.8,831.0 L2148.8,830.8 L2150.8,830.6 L2152.8,830.4 L2154.8,830.2 L2156.8,830.0 L2158.8,829.8 L2160.8,829.7 L2162.8,829.5 L2164.8,829.3 L2166.8,829.1 L2168.8,828.9 L2170.8,828.7 L2172.8,828.5 L2174.8,828.3 L2176.8,828.1 L2178.8,827.9 L2180.8,827.7 L2182.8,827.5 L2184.8,827.3 L2186.8,827.1 L2188.8,826.9 L2190.8,826.7 L2192.8,826.5 L2194.8,826.3 L2196.8,826.1 L2198.8,825.9 L2200.8,825.7 L2202.8,825.5 L2204.8,825.3 L2206.8,825.1 L2208.8,824.9 L2210.8,824.7 L2212.8,824.5 L2214.8,824.3 L2216.8,824.1 L2218.8,823.9 L2220.8,823.7 L2222.8,823.4 L2224.8,823.2 L2226.8,823.0 L2228.8,822.8 L2230.8,822.6 L2232.8,822.4 L2234.8,822.2 L2236.8,822.0 L2238.8,821.8 L2240.8,821.6 L2242.8,821.4 L2244.8,821.2 L2246.8,821.0 L2248.8,820.7 L2250.8,820.5 L2252.8,820.3 L2254.8,820.1 L2256.8,819.9 L2258.8,819.7 L2260.8,819.5 L2262.8,819.3 L2264.8,819.0 L2266.8,818.8 L2268.8,818.6 L2270.8,818.4 L2272.8,818.2 L2274.8,818.0 L2276.8,817.8 L2278.8,817.5 L2280.8,817.3 L2282.8,817.1 L2284.8,816.9 L2286.8,816.7 L2288.8,816.4 L2290.8,816.2 L2292.8,816.0 L2294.8,815.8 L2296.8,815.6 L2298.8,815.3 L2300.8,815.1 L2302.8,814.9 L2304.8,814.7 L2306.8,814.5 L2308.8,814.2 L2310.8,814.0 L2312.8,813.8 L2314.8,813.6 L2316.8,813.3 L2318.8,813.1 L2320.8,812.9 L2322.8,812.6 L2324.8,812.4 L2326.8,812.2 L2328.8,812.0 L2330.8,811.7 L2332.8,811.5 L2334.8,811.3 L2336.8,811.0 L2338.8,810.8 L2340.8,810.6 L2342.8,810.4 L2344.8,810.1 L2346.8,809.9 L2348.8,809.7 L2350.8,809.4 L2352.8,809.2 L2354.8,808.9 L2356.8,808.7 L2358.8,808.5 L2360.8,808.2 L2362.8,808.0 L2364.8,807.8 L2366.8,807.5 L2368.8,807.3 L2370.8,807.0 L2372.8,806.8 L2374.8,806.6 L2376.8,806.3 L2378.8,806.1 L2379.5,806.0" stroke="#00ffff" stroke-width="8"/>
<path d="M351.0,1560.0 L352.1,1558.3 L353.1,1556.6 L354.2,1554.9 L355.3,1553.2 L356.4,1551.6 L357.4,1549.9 L358.5,1548.2 L359.6,1546.5 L360.6,1544.8 L361.7,1543.1 L362.8,1541.4 L363.9,1539.7 L364.9,1538.1 L366.0,1536.4 L367.1,1534.7 L368.2,1533.0 L369.3,1531.3 L370.3,1529.6 L371.4,1528.0 L372.5,1526.3 L373.6,1524.6 L374.7,1522.9 L375.7,1521.2 L376.8,1519.6 L377.9,1517.9 L379.0,1516.2 L380.1,1514.5 L381.2,1512.8 L382.2,1511.1 L383.3,1509.5 L384.4,1507.8 L385.5,1506.1 L386.6,1504.4 L387.7,1502.7 L388.8,1501.1 L389.8,1499.4 L390.9,1497.7 L392.0,1496.0 L393.1,1494.4 L394.2,1492.7 L395.3,1491.0 L396.4,1489.3 L397.5,1487.6 L398.5,1486.0 L399.6,1484.3 L400.7,1482.6 L400.9,1482.3 M423.0,1448.3 L423.6,1447.4 L424.7,1445.7 L425.8,1444.0 L426.9,1442.4 L428.0,1440.7 L429.1,1439.0 L430.2,1437.3 L431.2,1435.7 L432.3,1434.0 L433.4,1432.3 L434.5,1430.6 L435.6,1429.0 L436.7,1427.3 L437.8,1425.6 L438.9,1423.9 L440.0,1422.3 L441.1,1420.6 L442.2,1418.9 L443.2,1417.2 L444.3,1415.6 L445.4,1413.9 L446.5,1412.2 L447.6,1410.5 L448.7,1408.9 L449.8,1407.2 L450.9,1405.5 L452.0,1403.8 L453.1,1402.2 L454.2,1400.5 L455.3,1398.8 L456.4,1397.2 L457.5,1395.5 L458.6,1393.8 L459.7,1392.1 L460.8,1390.5 L461.9,1388.8 L463.0,1387.1 L464.1,1385.5 L465.2,1383.8 L466.3,1382.1 L467.4,1380.5 L468.5,1378.8 L469.6,1377.1 L470.7,1375.5 L471.8,1373.8 L472.9,1372.1 L473.8,1370.9 M496.9,1336.9 L497.7,1335.8 L498.8,1334.1 L499.9,1332.5 L501.1,1330.9 L502.2,1329.2 L503.4,1327.6 L504.5,1325.9 L505.7,1324.3 L506.8,1322.7 L508.0,1321.0 L509.1,1319.4 L510.3,1317.8 L511.5,1316.2 L512.6,1314.5 L513.8,1312.9 L515.0,1311.3 L516.1,1309.7 L517.3,1308.1 L518.5,1306.4 L519.6,1304.8 L520.8,1303.2 L522.0,1301.6 L523.2,1300.0 L524.4,1298.4 L525.6,1296.8 L526.8,1295.2 L528.0,1293.6 L529.2,1292.0 L530.4,1290.4 L531.6,1288.8 L532.8,1287.2 L534.0,1285.6 L535.2,1284.0 L536.4,1282.5 L537.6,1280.9 L538.9,1279.3 L540.1,1277.7 L541.3,1276.1 L542.6,1274.6 L543.8,1273.0 L545.0,1271.4 L546.3,1269.9 L547.5,1268.3 L548.8,1266.8 L550.0,1265.2 L551.3,1263.7 L552.6,1262.1 L553.8,1260.6 L554.7,1259.6 M585.1,1225.6 L585.8,1224.9 L587.2,1223.5 L588.6,1222.1 L590.0,1220.7 L591.4,1219.3 L592.9,1217.9 L594.3,1216.5 L595.7,1215.1 L597.2,1213.7 L598.6,1212.3 L600.1,1211.0 L601.5,1209.6 L603.0,1208.3 L604.5,1206.9 L606.0,1205.6 L607.4,1204.3 L608.9,1202.9 L610.4,1201.6 L611.9,1200.3 L613.5,1199.0 L615.0,1197.7 L616.5,1196.4 L618.0,1195.1 L619.5,1193.8 L621.1,1192.6 L622.6,1191.3 L624.2,1190.0 L625.7,1188.8 L627.3,1187.5 L628.8,1186.3 L630.4,1185.0 L632.0,1183.8 L633.6,1182.6 L635.1,1181.4 L636.7,1180.2 L638.3,1178.9 L639.9,1177.7 L641.5,1176.6 L643.1,1175.4 L644.7,1174.2 L646.3,1173.0 L648.0,1171.8 L649.6,1170.7 L651.2,1169.5 L652.8,1168.3 L654.5,1167.2 L656.1,1166.0 L657.7,1164.9 L659.4,1163.8 L661.0,1162.6 L662.5,1161.7 M696.5,1139.7 L698.0,1138.8 L699.7,1137.7 L701.4,1136.7 L703.1,1135.7 L704.8,1134.6 L706.5,1133.6 L708.2,1132.6 L710.0,1131.6 L711.7,1130.6 L713.4,1129.5 L715.1,1128.5 L716.9,1127.5 L718.6,1126.5 L720.3,1125.5 L722.1,1124.5 L723.8,1123.6 L725.5,1122.6 L727.3,1121.6 L729.0,1120.6 L730.7,1119.6 L732.5,1118.6 L734.2,1117.7 L736.0,1116.7 L737.7,1115.7 L739.5,1114.8 L741.2,1113.8 L743.0,1112.9 L744.8,1111.9 L746.5,1111.0 L748.3,1110.0 L750.0,1109.1 L751.8,1108.1 L753.6,1107.2 L755.3,1106.3 L757.1,1105.3 L758.9,1104.4 L760.6,1103.5 L762.4,1102.6 L764.2,1101.6 L766.0,1100.7 L767.8,1099.8 L769.5,1098.9 L771.3,1098.0 L773.1,1097.1 L773.8,1096.7 M807.8,1080.3 L809.1,1079.7 L810.9,1078.9 L812.8,1078.1 L814.6,1077.3 L816.4,1076.4 L818.2,1075.6 L820.1,1074.8 L821.9,1074.0 L823.7,1073.2 L825.5,1072.4 L827.4,1071.6 L829.2,1070.8 L831.0,1070.0 L832.9,1069.2 L834.7,1068.4 L836.5,1067.6 L838.4,1066.8 L840.2,1066.0 L842.1,1065.2 L843.9,1064.5 L845.7,1063.7 L847.6,1062.9 L849.4,1062.2 L851.3,1061.4 L853.1,1060.6 L855.0,1059.9 L856.8,1059.1 L858.7,1058.4 L860.5,1057.6 L862.4,1056.9 L864.3,1056.1 L866.1,1055.4 L868.0,1054.7 L869.8,1053.9 L871.7,1053.2 L873.6,1052.5 L875.4,1051.8 L877.3,1051.0 L879.2,1050.3 L881.0,1049.6 L882.9,1048.9 L884.8,1048.2 L885.2,1048.0 M919.2,1035.8 L920.5,1035.4 L922.4,1034.7 L924.3,1034.1 L926.2,1033.4 L928.1,1032.8 L930.0,1032.2 L931.9,1031.5 L933.8,1030.9 L935.7,1030.3 L937.6,1029.6 L939.5,1029.0 L941.4,1028.4 L943.3,1027.8 L945.2,1027.2 L947.1,1026.6 L949.0,1026.0 L950.9,1025.4 L952.8,1024.8 L954.7,1024.2 L956.6,1023.6 L958.5,1023.0 L960.5,1022.4 L962.4,1021.8 L964.3,1021.2 L966.2,1020.7 L968.1,1020.1 L970.0,1019.5 L972.0,1018.9 L974.0,1018.3 L976.0,1017.7 L978.0,1017.1 L980.0,1016.5 L982.0,1016.0 L984.0,1015.4 L986.0,1014.8 L988.0,1014.2 L990.0,1013.7 L992.0,1013.1 L994.0,1012.5 L996.0,1012.0 L996.5,1011.8 M1030.5,1002.8 L1032.0,1002.4 L1034.0,1001.9 L1036.0,1001.4 L1038.0,1000.9 L1040.0,1000.4 L1042.0,999.9 L1044.0,999.4 L1046.0,998.9 L1048.0,998.4 L1050.0,997.9 L1052.0,997.4 L1054.0,996.9 L1056.0,996.5 L1058.0,996.0 L1060.0,995.5 L1062.0,995.0 L1064.0,994.6 L1066.0,994.1 L1068.0,993.6 L1070.0,993.2 L1072.0,992.7 L1074.0,992.3 L1076.0,991.8 L1078.0,991.3 L1080.0,990.9 L1082.0,990.4 L1084.0,990.0 L1086.0,989.6 L1088.0,989.1 L1090.0,988.7 L1092.0,988.2 L1094.0,987.8 L1096.0,987.4 L1098.0,986.9 L1100.0,986.5 L1102.0,986.1 L1104.0,985.6 L1106.0,985.2 L1107.9,984.8 M1141.9,977.9 L1142.0,977.9 L1144.0,977.5 L1146.0,977.1 L1148.0,976.7 L1150.0,976.3 L1152.0,975.9 L1154.0,975.5 L1156.0,975.2 L1158.0,974.8 L1160.0,974.4 L1162.0,974.0 L1164.0,973.6 L1166.0,973.3 L1168.0,972.9 L1170.0,972.5 L1172.0,972.1 L1174.0,971.8 L1176.0,971.4 L1178.0,971.0 L1180.0,970.7 L1182.0,970.3 L1184.0,969.9 L1186.0,969.6 L1188.0,969.2 L1190.0,968.9 L1192.0,968.5 L1194.0,968.1 L1196.0,967.8 L1198.0,967.4 L1200.0,967.1 L1202.0,966.7 L1204.0,966.4 L1206.0,966.0 L1208.0,965.7 L1210.0,965.3 L1212.0,965.0 L1214.0,964.6 L1216.0,964.3 L1218.0,963.9 L1219.2,963.7 M1253.2,957.9 L1254.0,957.8 L1256.0,957.5 L1258.0,957.1 L1260.0,956.8 L1262.0,956.5 L1264.0,956.1 L1266.0,955.8 L1268.0,955.5 L1270.0,955.1 L1272.0,954.8 L1274.0,954.5 L1276.0,954.2 L1278.0,953.8 L1280.0,953.5 L1282.0,953.2 L1284.0,952.8 L1286.0,952.5 L1288.0,952.2 L1290.0,951.9 L1292.0,951.5 L1294.0,951.2 L1296.0,950.9 L1298.0,950.6 L1300.0,950.2 L1302.0,949.9 L1304.0,949.6 L1306.0,949.3 L1308.0,949.0 L1310.0,948.6 L1312.0,948.3 L1314.0,948.0 L1316.0,947.7 L1318.0,947.4 L1320.0,947.1 L1322.0,946.7 L1324.0,946.4 L1326.0,946.1 L1328.0,945.8 L1330.0,945.5 L1330.6,945.4 M1364.6,940.1 L1366.0,939.9 L1368.0,939.6 L1370.0,939.3 L1372.0,939.0 L1374.0,938.7 L1376.0,938.3 L1378.0,938.0 L1380.0,937.7 L1382.0,937.4 L1384.0,937.1 L1386.0,936.8 L1388.0,936.5 L1390.0,936.2 L1392.0,935.9 L1394.0,935.6 L1396.0,935.3 L1398.0,935.0 L1400.0,934.7 L1402.0,934.4 L1404.0,934.1 L1406.0,933.8 L1408.0,933.5 L1410.0,933.2 L1412.0,932.9 L1414.0,932.6 L1416.0,932.3 L1418.0,932.0 L1420.0,931.7 L1422.0,931.4 L1424.0,931.1 L1426.0,930.8 L1428.0,930.6 L1430.0,930.3 L1432.0,930.0 L1434.0,929.7 L1436.0,929.4 L1438.0,929.1 L1440.0,928.8 L1441.9,928.5 M1475.9,923.6 L1476.0,923.6 L1478.0,923.3 L1480.0,923.0 L1482.0,922.7 L1484.0,922.4 L1486.0,922.1 L1488.0,921.8 L1490.0,921.6 L1492.0,921.3 L1494.0,921.0 L1496.0,920.7 L1498.0,920.4 L1500.0,920.1 L1502.0,919.9 L1504.0,919.6 L1506.0,919.3 L1508.0,919.0 L1510.0,918.7 L1512.0,918.4 L1514.0,918.2 L1516.0,917.9 L1518.0,917.6 L1520.0,917.3 L1522.0,917.0 L1524.0,916.7 L1526.0,916.5 L1528.0,916.2 L1530.0,915.9 L1532.0,915.6 L1534.0,915.3 L1536.0,915.1 L1538.0,914.8 L1540.0,914.5 L1542.0,914.2 L1544.0,913.9 L1546.0,913.7 L1548.0,913.4 L1550.0,913.1 L1552.0,912.8 L1553.3,912.6 M1587.3,907.9 L1588.0,907.8 L1590.0,907.6 L1592.0,907.3 L1594.0,907.0 L1596.0,906.7 L1598.0,906.5 L1600.0,906.2 L1602.0,905.9 L1604.0,905.6 L1606.0,905.4 L1608.0,905.1 L1610.0,904.8 L1612.0,904.6 L1614.0,904.3 L1616.0,904.0 L1618.0,903.7 L1620.0,903.5 L1622.0,903.2 L1624.0,902.9 L1626.0,902.6 L1628.0,902.4 L1630.0,902.1 L1632.0,901.8 L1634.0,901.6 L1636.0,901.3 L1638.0,901.0 L1640.0,900.7 L1642.0,900.5 L1644.0,900.2 L1646.0,899.9 L1648.0,899.6 L1650.0,899.4 L1652.0,899.1 L1654.0,898.8 L1656.0,898.6 L1658.0,898.3 L1660.0,898.0 L1662.0,897.7 L1664.0,897.5 L1664.6,897.4 M1698.7,892.8 L1700.0,892.6 L1702.0,892.3 L1704.0,892.1 L1706.0,891.8 L1708.0,891.5 L1710.0,891.3 L1712.0,891.0 L1714.0,890.7 L1716.0,890.4 L1718.0,890.2 L1720.0,889.9 L1722.0,889.6 L1724.0,889.4 L1726.0,889.1 L1728.0,888.8 L1730.0,888.5 L1732.0,888.3 L1734.0,888.0 L1736.0,887.7 L1738.0,887.5 L1740.0,887.2 L1742.0,886.9 L1744.0,886.7 L1746.0,886.4 L1748.0,886.1 L1750.0,885.8 L1752.0,885.6 L1754.0,885.3 L1756.0,885.0 L1758.0,884.8 L1760.0,884.5 L1762.0,884.2 L1764.0,883.9 L1766.0,883.7 L1768.0,883.4 L1770.0,883.1 L1772.0,882.9 L1774.0,882.6 L1776.0,882.3 M1810.0,877.7 L1810.0,877.7 L1812.0,877.4 L1814.0,877.1 L1816.0,876.9 L1818.0,876.6 L1820.0,876.3 L1822.0,876.0 L1824.0,875.8 L1826.0,875.5 L1828.0,875.2 L1830.0,875.0 L1832.0,874.7 L1834.0,874.4 L1836.0,874.1 L1838.0,873.9 L1840.0,873.6 L1842.0,873.3 L1844.0,873.0 L1846.0,872.8 L1848.0,872.5 L1850.0,872.2 L1852.0,871.9 L1854.0,871.7 L1856.0,871.4 L1858.0,871.1 L1860.0,870.8 L1862.0,870.6 L1864.0,870.3 L1866.0,870.0 L1868.0,869.7 L1870.0,869.5 L1872.0,869.2 L1874.0,868.9 L1876.0,868.6 L1878.0,868.4 L1880.0,868.1 L1882.0,867.8 L1884.0,867.5 L1886.0,867.3 L1887.4,867.1 M1921.4,862.4 L1922.0,862.3 L1924.0,862.0 L1926.0,861.7 L1928.0,861.5 L1930.0,861.2 L1932.0,860.9 L1934.0,860.6 L1936.0,860.4 L1938.0,860.1 L1940.0,859.8 L1942.0,859.5 L1944.0,859.3 L1946.0,859.0 L1948.0,858.7 L1950.0,858.4 L1952.0,858.2 L1954.0,857.9 L1956.0,857.6 L1958.0,857.3 L1960.0,857.1 L1962.0,856.8 L1964.0,856.5 L1966.0,856.2 L1968.0,856.0 L1970.0,855.7 L1972.0,855.4 L1974.0,855.2 L1976.0,854.9 L1978.0,854.6 L1980.0,854.3 L1982.0,854.1 L1984.0,853.8 L1986.0,853.5 L1988.0,853.2 L1990.0,853.0 L1992.0,852.7 L1994.0,852.4 L1996.0,852.1 L1998.0,851.9 L1998.7,851.8 M2032.7,847.2 L2034.0,847.0 L2036.0,846.7 L2038.0,846.5 L2040.0,846.2 L2042.0,845.9 L2044.0,845.6 L2046.0,845.4 L2048.0,845.1 L2050.0,844.8 L2052.0,844.6 L2054.0,844.3 L2056.0,844.0 L2058.0,843.8 L2060.0,843.5 L2062.0,843.2 L2064.0,843.0 L2066.0,842.7 L2068.0,842.4 L2070.0,842.2 L2072.0,841.9 L2074.0,841.6 L2076.0,841.4 L2078.0,841.1 L2080.0,840.8 L2082.0,840.6 L2084.0,840.3 L2086.0,840.0 L2088.0,839.8 L2090.0,839.5 L2092.0,839.2 L2094.0,839.0 L2096.0,838.7 L2098.0,838.5 L2100.0,838.2 L2102.0,837.9 L2104.0,837.7 L2106.0,837.4 L2108.0,837.1 L2110.0,836.9 L2110.1,836.9 M2144.1,832.5 L2146.0,832.2 L2148.0,832.0 L2150.0,831.7 L2152.0,831.4 L2154.0,831.2 L2156.0,830.9 L2158.0,830.7 L2160.0,830.4 L2162.0,830.2 L2164.0,829.9 L2166.0,829.7 L2168.0,829.4 L2170.0,829.2 L2172.0,828.9 L2174.0,828.7 L2176.0,828.4 L2178.0,828.2 L2180.0,827.9 L2182.0,827.6 L2184.0,827.4 L2186.0,827.1 L2188.0,826.9 L2190.0,826.6 L2192.0,826.4 L2194.0,826.2 L2196.0,825.9 L2198.0,825.7 L2200.0,825.4 L2202.0,825.2 L2204.0,824.9 L2206.0,824.7 L2208.0,824.4 L2210.0,824.2 L2212.0,823.9 L2214.0,823.7 L2216.0,823.4 L2218.0,823.2 L2220.0,823.0 L2221.4,822.8 M2255.4,818.7 L2256.0,818.6 L2258.0,818.4 L2260.0,818.2 L2262.0,817.9 L2264.0,817.7 L2266.0,817.5 L2268.0,817.2 L2270.0,817.0 L2272.0,816.8 L2274.0,816.5 L2276.0,816.3 L2278.0,816.1 L2280.0,815.8 L2282.0,815.6 L2284.0,815.4 L2286.0,815.1 L2288.0,814.9 L2290.0,814.7 L2292.0,814.5 L2294.0,814.2 L2296.0,814.0 L2298.0,813.8 L2300.0,813.6 L2302.0,813.3 L2304.0,813.1 L2306.0,812.9 L2308.0,812.7 L2310.0,812.4 L2312.0,812.2 L2314.0,812.0 L2316.0,811.8 L2318.0,811.5 L2320.0,811.3 L2322.0,811.1 L2324.0,810.9 L2326.0,810.7 L2328.0,810.4 L2330.0,810.2 L2332.0,810.0 L2332.8,809.9 M2366.8,806.3 L2368.0,806.2 L2370.0,806.0 L2372.0,805.8 L2374.0,805.6 L2376.0,805.4 L2378.0,805.1 L2379.5,805.0" stroke="#970000" stroke-width="9"/>
<path d="M351.0,1560.0 L352.0,1558.3 L353.0,1556.5 L353.9,1554.8 L354.9,1553.1 L356.0,1551.4 L357.0,1549.6 L358.0,1547.9 L359.0,1546.2 L360.1,1544.5 L361.1,1542.8 L362.2,1541.1 L363.2,1539.4 L364.3,1537.8 L365.4,1536.1 L366.4,1534.4 L367.5,1532.7 L368.6,1531.1 L369.7,1529.4 L370.8,1527.8 L371.9,1526.1 L373.1,1524.4 L374.2,1522.8 L375.3,1521.2 L376.5,1519.5 L377.6,1517.9 L378.4,1516.8 M393.0,1496.2 L393.9,1495.1 L395.0,1493.5 L396.2,1491.9 L397.4,1490.3 L398.6,1488.6 L399.7,1487.0 L400.9,1485.4 L402.1,1483.8 L403.2,1482.1 L404.4,1480.5 L405.6,1478.9 L406.7,1477.3 L407.9,1475.6 L409.0,1474.0 L410.2,1472.4 L411.4,1470.7 L412.5,1469.1 L413.7,1467.4 L414.8,1465.8 L415.9,1464.1 L417.1,1462.5 L418.2,1460.8 L419.3,1459.2 L420.5,1457.5 L420.6,1457.2 M434.0,1436.7 L434.6,1435.7 L435.7,1434.0 L436.7,1432.3 L437.8,1430.6 L438.8,1428.9 L439.9,1427.2 L440.9,1425.4 L442.0,1423.7 L443.0,1422.0 L444.1,1420.3 L445.1,1418.6 L446.2,1416.9 L447.2,1415.2 L448.2,1413.5 L449.3,1411.8 L450.3,1410.1 L451.4,1408.4 L452.4,1406.7 L453.5,1405.0 L454.5,1403.3 L455.6,1401.6 L456.7,1399.9 L457.7,1398.2 L458.0,1397.7 M471.7,1377.2 L472.1,1376.7 L473.2,1375.0 L474.4,1373.4 L475.6,1371.8 L476.8,1370.2 L478.0,1368.6 L479.2,1367.0 L480.4,1365.4 L481.6,1363.8 L482.8,1362.2 L484.0,1360.7 L485.2,1359.1 L486.5,1357.5 L487.7,1356.0 L489.0,1354.4 L490.2,1352.9 L491.5,1351.3 L492.7,1349.8 L494.0,1348.2 L495.3,1346.7 L496.6,1345.2 L497.8,1343.6 L499.1,1342.1 L500.4,1340.6 L501.7,1339.1 L502.4,1338.2 M520.6,1317.7 L521.6,1316.6 L522.9,1315.2 L524.3,1313.7 L525.7,1312.2 L527.0,1310.8 L528.4,1309.3 L529.8,1307.9 L531.2,1306.4 L532.5,1305.0 L533.9,1303.6 L535.3,1302.1 L536.7,1300.7 L538.1,1299.3 L539.5,1297.9 L540.9,1296.4 L542.3,1295.0 L543.7,1293.6 L545.2,1292.2 L546.6,1290.8 L548.0,1289.4 L549.5,1288.0 L550.9,1286.7 L552.3,1285.3 L553.8,1283.9 L555.2,1282.5 L556.7,1281.2 L558.2,1279.8 L558.6,1279.3 M579.2,1261.2 L580.6,1260.0 L582.1,1258.7 L583.7,1257.4 L585.2,1256.1 L586.8,1254.9 L588.3,1253.6 L589.9,1252.4 L591.4,1251.1 L593.0,1249.9 L594.5,1248.6 L596.1,1247.4 L597.7,1246.2 L599.3,1244.9 L600.8,1243.7 L602.4,1242.5 L604.0,1241.3 L605.6,1240.1 L607.2,1238.9 L608.8,1237.7 L610.4,1236.5 L612.0,1235.3 L613.6,1234.2 L615.3,1233.0 L616.9,1231.8 L618.2,1230.9 M638.7,1216.9 L640.0,1216.1 L641.7,1215.0 L643.4,1213.9 L645.1,1212.8 L646.7,1211.8 L648.4,1210.7 L650.1,1209.7 L651.8,1208.6 L653.5,1207.6 L655.2,1206.5 L656.9,1205.5 L658.7,1204.5 L660.4,1203.4 L662.1,1202.4 L663.8,1201.4 L665.5,1200.4 L667.3,1199.4 L669.0,1198.4 L670.7,1197.4 L672.5,1196.4 L674.2,1195.4 L675.9,1194.4 L677.7,1193.5 M698.2,1182.4 L698.8,1182.1 L700.6,1181.2 L702.4,1180.3 L704.2,1179.4 L705.9,1178.5 L707.7,1177.6 L709.5,1176.7 L711.3,1175.8 L713.1,1174.9 L714.9,1174.0 L716.7,1173.1 L718.5,1172.2 L720.3,1171.4 L722.1,1170.5 L723.9,1169.6 L725.7,1168.8 L727.5,1167.9 L729.3,1167.0 L731.1,1166.2 L732.9,1165.3 L734.7,1164.5 L736.5,1163.6 L737.2,1163.3 M757.7,1154.0 L758.3,1153.7 L760.2,1152.9 L762.0,1152.1 L763.8,1151.2 L765.7,1150.4 L767.5,1149.6 L769.3,1148.8 L771.1,1148.0 L773.0,1147.2 L774.8,1146.4 L776.6,1145.6 L778.5,1144.8 L780.3,1144.0 L782.1,1143.2 L784.0,1142.5 L785.8,1141.7 L787.7,1140.9 L789.5,1140.1 L791.3,1139.3 L793.2,1138.5 L795.0,1137.8 L796.7,1137.1 M817.2,1128.6 L819.1,1127.8 L820.9,1127.1 L822.8,1126.3 L824.6,1125.6 L826.5,1124.9 L828.3,1124.1 L830.2,1123.4 L832.0,1122.6 L833.9,1121.9 L835.8,1121.2 L837.6,1120.4 L839.5,1119.7 L841.4,1119.0 L843.2,1118.3 L845.1,1117.5 L846.9,1116.8 L848.8,1116.1 L850.7,1115.4 L852.5,1114.7 L854.4,1113.9 L856.2,1113.3 M876.7,1105.6 L876.9,1105.5 L878.8,1104.8 L880.6,1104.1 L882.5,1103.5 L884.4,1102.8 L886.3,1102.1 L888.2,1101.4 L890.0,1100.7 L891.9,1100.1 L893.8,1099.4 L895.7,1098.7 L897.6,1098.0 L899.4,1097.4 L901.3,1096.7 L903.2,1096.0 L905.1,1095.4 L907.0,1094.7 L908.9,1094.0 L910.8,1093.4 L912.7,1092.7 L914.5,1092.1 L915.7,1091.7 M936.2,1084.7 L937.3,1084.4 L939.2,1083.7 L941.1,1083.1 L943.0,1082.5 L944.9,1081.8 L946.8,1081.2 L948.7,1080.6 L950.6,1080.0 L952.5,1079.3 L954.4,1078.7 L956.3,1078.1 L958.2,1077.5 L960.1,1076.9 L962.0,1076.3 L963.9,1075.7 L965.8,1075.0 L967.7,1074.4 L969.6,1073.8 L971.5,1073.2 L973.4,1072.6 L975.2,1072.1 M995.7,1065.7 L996.3,1065.5 L998.2,1064.9 L1000.2,1064.4 L1002.1,1063.8 L1004.0,1063.2 L1005.9,1062.6 L1007.8,1062.1 L1009.8,1061.5 L1011.8,1060.9 L1013.8,1060.3 L1015.8,1059.7 L1017.8,1059.1 L1019.8,1058.5 L1021.8,1057.9 L1023.8,1057.3 L1025.8,1056.7 L1027.8,1056.2 L1029.8,1055.6 L1031.8,1055.0 L1033.8,1054.4 L1034.7,1054.2 M1055.3,1048.3 L1055.8,1048.2 L1057.8,1047.6 L1059.8,1047.1 L1061.8,1046.5 L1063.8,1046.0 L1065.8,1045.4 L1067.8,1044.9 L1069.8,1044.3 L1071.8,1043.8 L1073.8,1043.2 L1075.8,1042.7 L1077.8,1042.1 L1079.8,1041.6 L1081.8,1041.1 L1083.8,1040.5 L1085.8,1040.0 L1087.8,1039.5 L1089.8,1038.9 L1091.8,1038.4 L1093.8,1037.9 L1094.2,1037.7 M1114.8,1032.4 L1115.8,1032.1 L1117.8,1031.6 L1119.8,1031.1 L1121.8,1030.6 L1123.8,1030.1 L1125.8,1029.6 L1127.8,1029.0 L1129.8,1028.5 L1131.8,1028.0 L1133.8,1027.5 L1135.8,1027.0 L1137.8,1026.5 L1139.8,1026.0 L1141.8,1025.5 L1143.8,1025.0 L1145.8,1024.5 L1147.8,1024.0 L1149.8,1023.5 L1151.8,1023.0 L1153.8,1022.6 M1174.3,1017.6 L1175.8,1017.2 L1177.8,1016.7 L1179.8,1016.2 L1181.8,1015.8 L1183.8,1015.3 L1185.8,1014.8 L1187.8,1014.3 L1189.8,1013.9 L1191.8,1013.4 L1193.8,1012.9 L1195.8,1012.4 L1197.8,1012.0 L1199.8,1011.5 L1201.8,1011.0 L1203.8,1010.6 L1205.8,1010.1 L1207.8,1009.6 L1209.8,1009.2 L1211.8,1008.7 L1213.3,1008.4 M1233.8,1003.7 L1233.8,1003.7 L1235.8,1003.2 L1237.8,1002.8 L1239.8,1002.3 L1241.8,1001.8 L1243.8,1001.4 L1245.8,1000.9 L1247.8,1000.5 L1249.8,1000.0 L1251.8,999.6 L1253.8,999.1 L1255.8,998.7 L1257.8,998.3 L1259.8,997.8 L1261.8,997.4 L1263.8,996.9 L1265.8,996.5 L1267.8,996.0 L1269.8,995.6 L1271.8,995.1 L1272.8,994.9 M1293.3,990.4 L1293.8,990.3 L1295.8,989.9 L1297.8,989.4 L1299.8,989.0 L1301.8,988.6 L1303.8,988.1 L1305.8,987.7 L1307.8,987.3 L1309.8,986.8 L1311.8,986.4 L1313.8,986.0 L1315.8,985.5 L1317.8,985.1 L1319.8,984.7 L1321.8,984.3 L1323.8,983.8 L1325.8,983.4 L1327.8,983.0 L1329.8,982.5 L1331.8,982.1 L1332.3,982.0 M1352.8,977.6 L1353.8,977.4 L1355.8,977.0 L1357.8,976.6 L1359.8,976.2 L1361.8,975.8 L1363.8,975.3 L1365.8,974.9 L1367.8,974.5 L1369.8,974.1 L1371.8,973.7 L1373.8,973.2 L1375.8,972.8 L1377.8,972.4 L1379.8,972.0 L1381.8,971.6 L1383.8,971.2 L1385.8,970.7 L1387.8,970.3 L1389.8,969.9 L1391.8,969.5 M1412.3,965.3 L1413.8,965.0 L1415.8,964.6 L1417.8,964.2 L1419.8,963.8 L1421.8,963.3 L1423.8,962.9 L1425.8,962.5 L1427.8,962.1 L1429.8,961.7 L1431.8,961.3 L1433.8,960.9 L1435.8,960.5 L1437.8,960.1 L1439.8,959.7 L1441.8,959.3 L1443.8,958.9 L1445.8,958.5 L1447.8,958.1 L1449.8,957.7 L1451.3,957.4 M1471.8,953.3 L1473.8,952.9 L1475.8,952.5 L1477.8,952.1 L1479.8,951.7 L1481.8,951.3 L1483.8,950.9 L1485.8,950.6 L1487.8,950.2 L1489.8,949.8 L1491.8,949.4 L1493.8,949.0 L1495.8,948.6 L1497.8,948.2 L1499.8,947.8 L1501.8,947.4 L1503.8,947.0 L1505.8,946.6 L1507.8,946.3 L1509.8,945.9 L1510.8,945.7 M1531.3,941.7 L1531.8,941.6 L1533.8,941.2 L1535.8,940.9 L1537.8,940.5 L1539.8,940.1 L1541.8,939.7 L1543.8,939.3 L1545.8,938.9 L1547.8,938.6 L1549.8,938.2 L1551.8,937.8 L1553.8,937.4 L1555.8,937.0 L1557.8,936.7 L1559.8,936.3 L1561.8,935.9 L1563.8,935.5 L1565.8,935.2 L1567.8,934.8 L1569.8,934.4 L1570.3,934.3 M1590.9,930.5 L1591.8,930.3 L1593.8,929.9 L1595.8,929.5 L1597.8,929.2 L1599.8,928.8 L1601.8,928.4 L1603.8,928.1 L1605.8,927.7 L1607.8,927.3 L1609.8,927.0 L1611.8,926.6 L1613.8,926.2 L1615.8,925.9 L1617.8,925.5 L1619.8,925.1 L1621.8,924.7 L1623.8,924.4 L1625.8,924.0 L1627.8,923.7 L1629.8,923.3 L1629.9,923.3 M1650.4,919.6 L1651.8,919.3 L1653.8,918.9 L1655.8,918.6 L1657.8,918.2 L1659.8,917.9 L1661.8,917.5 L1663.8,917.1 L1665.8,916.8 L1667.8,916.4 L1669.8,916.1 L1671.8,915.7 L1673.8,915.3 L1675.8,915.0 L1677.8,914.6 L1679.8,914.3 L1681.8,913.9 L1683.8,913.6 L1685.8,913.2 L1687.8,912.8 L1689.4,912.6 M1709.9,909.0 L1711.8,908.6 L1713.8,908.3 L1715.8,907.9 L1717.8,907.6 L1719.8,907.2 L1721.8,906.9 L1723.8,906.5 L1725.8,906.2 L1727.8,905.8 L1729.8,905.5 L1731.8,905.1 L1733.8,904.8 L1735.8,904.4 L1737.8,904.1 L1739.8,903.7 L1741.8,903.4 L1743.8,903.0 L1745.8,902.7 L1747.8,902.4 L1748.9,902.2 M1769.4,898.6 L1769.8,898.6 L1771.8,898.2 L1773.8,897.9 L1775.8,897.6 L1777.8,897.2 L1779.8,896.9 L1781.8,896.5 L1783.8,896.2 L1785.8,895.9 L1787.8,895.5 L1789.8,895.2 L1791.8,894.8 L1793.8,894.5 L1795.8,894.2 L1797.8,893.8 L1799.8,893.5 L1801.8,893.2 L1803.8,892.8 L1805.8,892.5 L1807.8,892.1 L1808.4,892.0 M1828.9,888.6 L1829.8,888.5 L1831.8,888.1 L1833.8,887.8 L1835.8,887.5 L1837.8,887.1 L1839.8,886.8 L1841.8,886.5 L1843.8,886.1 L1845.8,885.8 L1847.8,885.5 L1849.8,885.2 L1851.8,884.8 L1853.8,884.5 L1855.8,884.2 L1857.8,883.8 L1859.8,883.5 L1861.8,883.2 L1863.8,882.9 L1865.8,882.5 L1867.8,882.2 L1867.9,882.2 M1888.4,878.8 L1889.8,878.6 L1891.8,878.3 L1893.8,878.0 L1895.8,877.6 L1897.8,877.3 L1899.8,877.0 L1901.8,876.7 L1903.8,876.3 L1905.8,876.0 L1907.8,875.7 L1909.8,875.4 L1911.8,875.1 L1913.8,874.7 L1915.8,874.4 L1917.8,874.1 L1919.8,873.8 L1921.8,873.5 L1923.8,873.1 L1925.8,872.8 L1927.4,872.6 M1947.9,869.3 L1949.8,869.0 L1951.8,868.7 L1953.8,868.4 L1955.8,868.0 L1957.8,867.7 L1959.8,867.4 L1961.8,867.1 L1963.8,866.8 L1965.8,866.5 L1967.8,866.2 L1969.8,865.8 L1971.8,865.5 L1973.8,865.2 L1975.8,864.9 L1977.8,864.6 L1979.8,864.3 L1981.8,864.0 L1983.8,863.6 L1985.8,863.3 L1986.9,863.2 M2007.4,860.0 L2007.8,859.9 L2009.8,859.6 L2011.8,859.3 L2013.8,859.0 L2015.8,858.7 L2017.8,858.4 L2019.8,858.1 L2021.8,857.7 L2023.8,857.4 L2025.8,857.1 L2027.8,856.8 L2029.8,856.5 L2031.8,856.2 L2033.8,855.9 L2035.8,855.6 L2037.8,855.3 L2039.8,855.0 L2041.8,854.7 L2043.8,854.4 L2045.8,854.1 L2046.4,854.0 M2067.0,850.8 L2067.8,850.7 L2069.8,850.4 L2071.8,850.1 L2073.8,849.8 L2075.8,849.5 L2077.8,849.2 L2079.8,848.9 L2081.8,848.6 L2083.8,848.3 L2085.8,848.0 L2087.8,847.7 L2089.8,847.4 L2091.8,847.1 L2093.8,846.8 L2095.8,846.5 L2097.8,846.2 L2099.8,845.9 L2101.8,845.6 L2103.8,845.3 L2105.8,845.0 L2105.9,844.9 M2126.5,841.9 L2127.8,841.7 L2129.8,841.4 L2131.8,841.1 L2133.8,840.8 L2135.8,840.5 L2137.8,840.2 L2139.8,839.9 L2141.8,839.6 L2143.8,839.3 L2145.8,839.0 L2147.8,838.7 L2149.8,838.4 L2151.8,838.1 L2153.8,837.8 L2155.8,837.5 L2157.8,837.2 L2159.8,836.9 L2161.8,836.6 L2163.8,836.3 L2165.5,836.1 M2186.0,833.1 L2187.8,832.8 L2189.8,832.5 L2191.8,832.2 L2193.8,831.9 L2195.8,831.6 L2197.8,831.3 L2199.8,831.1 L2201.8,830.8 L2203.8,830.5 L2205.8,830.2 L2207.8,829.9 L2209.8,829.6 L2211.8,829.3 L2213.8,829.0 L2215.8,828.7 L2217.8,828.4 L2219.8,828.1 L2221.8,827.8 L2223.8,827.6 L2225.0,827.4 M2245.5,824.4 L2245.8,824.4 L2247.8,824.1 L2249.8,823.8 L2251.8,823.5 L2253.8,823.2 L2255.8,822.9 L2257.8,822.6 L2259.8,822.3 L2261.8,822.1 L2263.8,821.8 L2265.8,821.5 L2267.8,821.2 L2269.8,820.9 L2271.8,820.6 L2273.8,820.3 L2275.8,820.0 L2277.8,819.8 L2279.8,819.5 L2281.8,819.2 L2283.8,818.9 L2284.5,818.8 M2305.0,815.9 L2305.8,815.8 L2307.8,815.5 L2309.8,815.2 L2311.8,814.9 L2313.8,814.6 L2315.8,814.3 L2317.8,814.0 L2319.8,813.8 L2321.8,813.5 L2323.8,813.2 L2325.8,812.9 L2327.8,812.6 L2329.8,812.3 L2331.8,812.0 L2333.8,811.8 L2335.8,811.5 L2337.8,811.2 L2339.8,810.9 L2341.8,810.6 L2343.8,810.3 L2344.0,810.3 M2364.5,807.4 L2365.8,807.2 L2367.8,806.9 L2369.8,806.7 L2371.8,806.4 L2373.8,806.1 L2375.8,805.8 L2377.8,805.5 L2379.5,805.3" stroke="#008080" stroke-width="8"/>
<path d="M351.0,1560.0 L352.1,1558.3 L353.1,1556.6 L354.2,1554.9 L355.2,1553.2 L356.3,1551.5 L357.4,1549.8 L358.4,1548.2 L359.5,1546.5 L360.6,1544.8 L361.7,1543.1 L362.8,1541.4 L363.9,1539.8 L365.0,1538.1 L366.0,1536.4 L367.1,1534.8 L368.2,1533.1 L369.4,1531.4 L370.5,1529.8 L371.6,1528.1 L372.7,1526.5 L373.8,1524.8 L374.9,1523.1 L376.1,1521.5 L377.2,1519.8 L378.3,1518.2 L379.4,1516.6 L380.6,1514.9 L381.7,1513.3 L382.9,1511.6 L384.0,1510.0 L385.2,1508.4 L386.3,1506.7 L387.5,1505.1 L388.2,1504.0 M404.0,1482.3 L404.3,1481.9 M420.8,1460.2 L420.8,1460.2 L422.1,1458.6 L423.3,1457.1 L424.5,1455.5 L425.8,1453.9 L427.0,1452.3 L428.2,1450.8 L429.5,1449.2 L430.7,1447.6 L431.9,1446.1 L433.2,1444.5 L434.4,1442.9 L435.7,1441.4 L436.9,1439.8 L438.2,1438.2 L439.4,1436.7 L440.7,1435.1 L441.9,1433.6 L443.2,1432.0 L444.4,1430.4 L445.7,1428.9 L446.9,1427.3 L448.2,1425.8 L449.5,1424.2 L450.7,1422.7 L452.0,1421.1 L453.2,1419.6 L454.5,1418.1 L455.8,1416.5 L457.1,1415.0 L458.3,1413.4 L459.6,1411.9 L460.9,1410.4 L462.2,1408.8 L462.4,1408.6 M480.9,1386.9 L481.3,1386.5 M500.9,1364.8 L501.8,1363.8 L503.1,1362.4 L504.5,1360.9 L505.9,1359.5 L507.3,1358.0 L508.6,1356.6 L510.0,1355.1 L511.4,1353.7 L512.8,1352.3 L514.2,1350.8 L515.6,1349.4 L517.0,1348.0 L518.4,1346.6 L519.8,1345.1 L521.2,1343.7 L522.6,1342.3 L524.0,1340.9 L525.5,1339.5 L526.9,1338.1 L528.3,1336.7 L529.8,1335.3 L531.2,1333.9 L532.6,1332.6 L534.1,1331.2 L535.5,1329.8 L537.0,1328.4 L538.4,1327.1 L539.9,1325.7 L541.4,1324.4 L542.8,1323.0 L544.3,1321.7 L545.8,1320.3 L547.3,1319.0 L548.8,1317.6 L550.3,1316.3 L551.7,1315.0 L551.8,1315.0 M573.4,1296.6 L573.8,1296.3 M595.5,1279.3 L596.7,1278.4 L598.3,1277.2 L599.9,1276.1 L601.5,1274.9 L603.1,1273.7 L604.7,1272.5 L606.3,1271.4 L608.0,1270.2 L609.6,1269.0 L611.2,1267.9 L612.9,1266.7 L614.5,1265.6 L616.1,1264.4 L617.8,1263.3 L619.4,1262.2 L621.1,1261.1 L622.7,1259.9 L624.4,1258.8 L626.0,1257.7 L627.7,1256.6 L629.4,1255.5 L631.0,1254.4 L632.7,1253.3 L634.4,1252.2 L636.1,1251.1 L637.8,1250.0 L639.4,1249.0 L641.1,1247.9 L642.8,1246.8 L644.5,1245.8 L646.2,1244.7 L647.2,1244.1 M668.8,1231.2 L669.2,1231.0 M690.9,1218.9 L691.2,1218.7 L693.0,1217.8 L694.7,1216.9 L696.5,1215.9 L698.3,1215.0 L700.0,1214.0 L701.8,1213.1 L703.6,1212.2 L705.3,1211.3 L707.1,1210.4 L708.9,1209.4 L710.7,1208.5 L712.5,1207.6 L714.2,1206.7 L716.0,1205.8 L717.8,1204.9 L719.6,1204.0 L721.4,1203.1 L723.2,1202.3 L725.0,1201.4 L726.8,1200.5 L728.6,1199.6 L730.4,1198.7 L732.2,1197.9 L734.0,1197.0 L735.8,1196.1 L737.6,1195.2 L739.4,1194.4 L741.2,1193.5 L742.6,1192.8 M764.2,1182.7 L764.6,1182.6 M786.3,1172.8 L786.6,1172.7 L788.4,1171.9 L790.3,1171.1 L792.1,1170.3 L793.9,1169.5 L795.8,1168.7 L797.6,1167.9 L799.4,1167.1 L801.3,1166.3 L803.1,1165.5 L805.0,1164.8 L806.8,1164.0 L808.6,1163.2 L810.5,1162.4 L812.3,1161.6 L814.2,1160.9 L816.0,1160.1 L817.9,1159.3 L819.7,1158.6 L821.5,1157.8 L823.4,1157.0 L825.2,1156.3 L827.1,1155.5 L828.9,1154.8 L830.8,1154.0 L832.7,1153.3 L834.5,1152.5 L836.4,1151.8 L838.0,1151.1 M859.6,1142.6 L860.0,1142.5 M881.7,1134.2 L883.0,1133.8 L884.9,1133.1 L886.8,1132.4 L888.6,1131.7 L890.5,1131.0 L892.4,1130.3 L894.3,1129.6 L896.1,1129.0 L898.0,1128.3 L899.9,1127.6 L901.8,1126.9 L903.7,1126.3 L905.6,1125.6 L907.4,1124.9 L909.3,1124.3 L911.2,1123.6 L913.1,1122.9 L915.0,1122.3 L916.9,1121.6 L918.8,1121.0 L920.7,1120.3 L922.5,1119.6 L924.4,1119.0 L926.3,1118.3 L928.2,1117.7 L930.1,1117.1 L932.0,1116.4 L933.4,1115.9 M955.0,1108.8 L955.4,1108.6 M977.1,1101.7 L977.6,1101.5 L979.5,1100.9 L981.4,1100.3 L983.4,1099.7 L985.3,1099.1 L987.2,1098.6 L989.1,1098.0 L991.0,1097.4 L992.9,1096.8 L994.8,1096.2 L996.7,1095.6 L998.7,1095.1 L1000.6,1094.5 L1002.5,1093.9 L1004.4,1093.3 L1006.4,1092.7 L1008.4,1092.1 L1010.4,1091.5 L1012.4,1090.9 L1014.4,1090.3 L1016.4,1089.8 L1018.4,1089.2 L1020.4,1088.6 L1022.4,1088.0 L1024.4,1087.4 L1026.4,1086.8 L1028.4,1086.3 L1028.8,1086.1 M1050.4,1080.0 L1050.8,1079.9 M1072.5,1073.9 L1074.4,1073.4 L1076.4,1072.9 L1078.4,1072.4 L1080.4,1071.8 L1082.4,1071.3 L1084.4,1070.8 L1086.4,1070.2 L1088.4,1069.7 L1090.4,1069.2 L1092.4,1068.7 L1094.4,1068.1 L1096.4,1067.6 L1098.4,1067.1 L1100.4,1066.6 L1102.4,1066.1 L1104.4,1065.5 L1106.4,1065.0 L1108.4,1064.5 L1110.4,1064.0 L1112.4,1063.5 L1114.4,1063.0 L1116.4,1062.5 L1118.4,1062.0 L1120.4,1061.5 L1122.4,1061.0 L1124.2,1060.5 M1145.8,1055.2 L1146.2,1055.1 M1168.0,1049.8 L1168.4,1049.7 L1170.4,1049.2 L1172.4,1048.8 L1174.4,1048.3 L1176.4,1047.8 L1178.4,1047.4 L1180.4,1046.9 L1182.4,1046.4 L1184.4,1045.9 L1186.4,1045.5 L1188.4,1045.0 L1190.4,1044.5 L1192.4,1044.1 L1194.4,1043.6 L1196.4,1043.2 L1198.4,1042.7 L1200.4,1042.2 L1202.4,1041.8 L1204.4,1041.3 L1206.4,1040.9 L1208.4,1040.4 L1210.4,1039.9 L1212.4,1039.5 L1214.4,1039.0 L1216.4,1038.6 L1218.4,1038.1 L1219.6,1037.9 M1241.2,1033.0 L1241.6,1032.9 M1263.4,1028.1 L1264.4,1027.9 L1266.4,1027.5 L1268.4,1027.0 L1270.4,1026.6 L1272.4,1026.1 L1274.4,1025.7 L1276.4,1025.3 L1278.4,1024.8 L1280.4,1024.4 L1282.4,1024.0 L1284.4,1023.5 L1286.4,1023.1 L1288.4,1022.7 L1290.4,1022.2 L1292.4,1021.8 L1294.4,1021.4 L1296.4,1020.9 L1298.4,1020.5 L1300.4,1020.1 L1302.4,1019.7 L1304.4,1019.2 L1306.4,1018.8 L1308.4,1018.4 L1310.4,1017.9 L1312.4,1017.5 L1314.4,1017.1 L1315.0,1017.0 M1336.6,1012.3 L1337.0,1012.3 M1358.8,1007.7 L1360.4,1007.3 L1362.4,1006.9 L1364.4,1006.5 L1366.4,1006.0 L1368.4,1005.6 L1370.4,1005.2 L1372.4,1004.8 L1374.4,1004.4 L1376.4,1003.9 L1378.4,1003.5 L1380.4,1003.1 L1382.4,1002.7 L1384.4,1002.3 L1386.4,1001.8 L1388.4,1001.4 L1390.4,1001.0 L1392.4,1000.6 L1394.4,1000.2 L1396.4,999.8 L1398.4,999.3 L1400.4,998.9 L1402.4,998.5 L1404.4,998.1 L1406.4,997.7 L1408.4,997.3 L1410.4,996.8 M1432.0,992.4 L1432.4,992.3 L1432.4,992.3 M1454.2,987.8 L1454.4,987.8 L1456.4,987.3 L1458.4,986.9 L1460.4,986.5 L1462.4,986.1 L1464.4,985.7 L1466.4,985.3 L1468.4,984.9 L1470.4,984.5 L1472.4,984.1 L1474.4,983.7 L1476.4,983.3 L1478.4,982.9 L1480.4,982.4 L1482.4,982.0 L1484.4,981.6 L1486.4,981.2 L1488.4,980.8 L1490.4,980.4 L1492.4,980.0 L1494.4,979.6 L1496.4,979.2 L1498.4,978.8 L1500.4,978.4 L1502.4,978.0 L1504.4,977.6 L1505.8,977.3 M1527.4,973.0 L1527.8,972.9 M1549.6,968.5 L1550.4,968.4 L1552.4,968.0 L1554.4,967.6 L1556.4,967.2 L1558.4,966.8 L1560.4,966.4 L1562.4,966.0 L1564.4,965.6 L1566.4,965.2 L1568.4,964.8 L1570.4,964.4 L1572.4,964.0 L1574.4,963.6 L1576.4,963.2 L1578.4,962.8 L1580.4,962.4 L1582.4,962.0 L1584.4,961.6 L1586.4,961.2 L1588.4,960.9 L1590.4,960.5 L1592.4,960.1 L1594.4,959.7 L1596.4,959.3 L1598.4,958.9 L1600.4,958.5 L1601.2,958.3 M1622.8,954.1 L1623.2,954.0 M1645.0,949.8 L1646.4,949.6 L1648.4,949.2 L1650.4,948.8 L1652.4,948.4 L1654.4,948.0 L1656.4,947.6 L1658.4,947.3 L1660.4,946.9 L1662.4,946.5 L1664.4,946.1 L1666.4,945.7 L1668.4,945.3 L1670.4,945.0 L1672.4,944.6 L1674.4,944.2 L1676.4,943.8 L1678.4,943.4 L1680.4,943.0 L1682.4,942.7 L1684.4,942.3 L1686.4,941.9 L1688.4,941.5 L1690.4,941.1 L1692.4,940.8 L1694.4,940.4 L1696.4,940.0 L1696.6,940.0 M1718.2,935.9 L1718.4,935.8 L1718.6,935.8 M1740.4,931.7 L1740.4,931.7 L1742.4,931.3 L1744.4,931.0 L1746.4,930.6 L1748.4,930.2 L1750.4,929.8 L1752.4,929.5 L1754.4,929.1 L1756.4,928.7 L1758.4,928.4 L1760.4,928.0 L1762.4,927.6 L1764.4,927.2 L1766.4,926.9 L1768.4,926.5 L1770.4,926.1 L1772.4,925.8 L1774.4,925.4 L1776.4,925.0 L1778.4,924.7 L1780.4,924.3 L1782.4,923.9 L1784.4,923.5 L1786.4,923.2 L1788.4,922.8 L1790.4,922.4 L1792.0,922.1 M1813.6,918.2 L1814.0,918.1 M1835.8,914.2 L1836.4,914.1 L1838.4,913.7 L1840.4,913.3 L1842.4,913.0 L1844.4,912.6 L1846.4,912.3 L1848.4,911.9 L1850.4,911.5 L1852.4,911.2 L1854.4,910.8 L1856.4,910.5 L1858.4,910.1 L1860.4,909.7 L1862.4,909.4 L1864.4,909.0 L1866.4,908.7 L1868.4,908.3 L1870.4,907.9 L1872.4,907.6 L1874.4,907.2 L1876.4,906.9 L1878.4,906.5 L1880.4,906.2 L1882.4,905.8 L1884.4,905.4 L1886.4,905.1 L1887.4,904.9 M1909.1,901.1 L1909.5,901.0 M1931.2,897.2 L1932.4,897.0 L1934.4,896.6 L1936.4,896.3 L1938.4,895.9 L1940.4,895.6 L1942.4,895.2 L1944.4,894.9 L1946.4,894.5 L1948.4,894.2 L1950.4,893.8 L1952.4,893.5 L1954.4,893.2 L1956.4,892.8 L1958.4,892.5 L1960.4,892.1 L1962.4,891.8 L1964.4,891.4 L1966.4,891.1 L1968.4,890.7 L1970.4,890.4 L1972.4,890.0 L1974.4,889.7 L1976.4,889.3 L1978.4,889.0 L1980.4,888.7 L1982.4,888.3 L1982.8,888.2 M2004.5,884.5 L2004.9,884.5 M2026.6,880.8 L2028.4,880.5 L2030.4,880.1 L2032.4,879.8 L2034.4,879.5 L2036.4,879.1 L2038.4,878.8 L2040.4,878.5 L2042.4,878.1 L2044.4,877.8 L2046.4,877.5 L2048.4,877.1 L2050.4,876.8 L2052.4,876.4 L2054.4,876.1 L2056.4,875.8 L2058.4,875.4 L2060.4,875.1 L2062.4,874.8 L2064.4,874.4 L2066.4,874.1 L2068.4,873.8 L2070.4,873.4 L2072.4,873.1 L2074.4,872.8 L2076.4,872.4 L2078.2,872.1 M2099.9,868.6 L2100.3,868.5 M2122.0,864.9 L2122.4,864.9 L2124.4,864.6 L2126.4,864.2 L2128.4,863.9 L2130.4,863.6 L2132.4,863.3 L2134.4,862.9 L2136.4,862.6 L2138.4,862.3 L2140.4,862.0 L2142.4,861.6 L2144.4,861.3 L2146.4,861.0 L2148.4,860.7 L2150.4,860.3 L2152.4,860.0 L2154.4,859.7 L2156.4,859.4 L2158.4,859.1 L2160.4,858.7 L2162.4,858.4 L2164.4,858.1 L2166.4,857.8 L2168.4,857.4 L2170.4,857.1 L2172.4,856.8 L2173.6,856.6 M2195.3,853.2 L2195.7,853.1 M2217.4,849.7 L2218.4,849.5 L2220.4,849.2 L2222.4,848.9 L2224.4,848.6 L2226.4,848.3 L2228.4,847.9 L2230.4,847.6 L2232.4,847.3 L2234.4,847.0 L2236.4,846.7 L2238.4,846.4 L2240.4,846.1 L2242.4,845.8 L2244.4,845.5 L2246.4,845.1 L2248.4,844.8 L2250.4,844.5 L2252.4,844.2 L2254.4,843.9 L2256.4,843.6 L2258.4,843.3 L2260.4,843.0 L2262.4,842.7 L2264.4,842.4 L2266.4,842.0 L2268.4,841.7 L2269.0,841.6 M2290.7,838.3 L2291.1,838.3 M2312.8,835.0 L2314.4,834.7 L2316.4,834.4 L2318.4,834.1 L2320.4,833.8 L2322.4,833.5 L2324.4,833.2 L2326.4,832.9 L2328.4,832.6 L2330.4,832.3 L2332.4,832.0 L2334.4,831.7 L2336.4,831.4 L2338.4,831.1 L2340.4,830.8 L2342.4,830.5 L2344.4,830.2 L2346.4,829.9 L2348.4,829.6 L2350.4,829.3 L2352.4,829.0 L2354.4,828.7 L2356.4,828.4 L2358.4,828.1 L2360.4,827.8 L2362.4,827.5 L2364.4,827.2 L2364.4,827.2" stroke="#808000" stroke-width="10"/>
</g>
<rect x="290" y="98" width="798" height="661.5" fill="#fff"/>
<g fill="none" stroke-linecap="round" stroke-linejoin="round" shape-rendering="crispEdges">
<line x1="336.3" y1="179.5" x2="565.7" y2="179.5" stroke="#ff0000" stroke-width="9"/>
<line x1="335.8" y1="242" x2="566.2" y2="242" stroke="#0000ff" stroke-width="8" stroke-dasharray="59.2 26.1"/>
<line x1="335.8" y1="304.8" x2="566.2" y2="304.8" stroke="#00ff00" stroke-width="8" stroke-dasharray="39.2 20.6"/>
<line x1="335.8" y1="359.8" x2="566.2" y2="359.8" stroke="#ff00ff" stroke-width="8" stroke-dasharray="52.3 19.95 1 19.95"/>
<line x1="336.3" y1="423.3" x2="565.7" y2="423.3" stroke="#000080" stroke-width="9" stroke-dasharray="51.3 20.95 0.01 20.95 0.01 22.1"/>
<line x1="335.8" y1="486" x2="566.2" y2="486" stroke="#00ffff" stroke-width="8"/>
<line x1="336.3" y1="549.4" x2="565.7" y2="549.4" stroke="#970000" stroke-width="9" stroke-dasharray="77.1 33.9"/>
<line x1="335.8" y1="604.9" x2="566.2" y2="604.9" stroke="#008080" stroke-width="8" stroke-dasharray="39.1 20.55"/>
<line x1="336.8" y1="671.8" x2="565.2" y2="671.8" stroke="#808000" stroke-width="10" stroke-dasharray="51.9 21.75 0.01 22.25"/>
</g>
<g transform="translate(623.6,208.1) scale(0.963,1)"><text font-size="62.1" letter-spacing="-0.4">G<tspan dx="-2.1">O</tspan><tspan dx="-1.25">R</tspan><tspan dx="-2.3">:</tspan><tspan dx="5.65"> </tspan>0 Sm<tspan font-size="39.5" dy="-31">3</tspan><tspan dy="31" dx="2">/</tspan><tspan dx="1.4">m</tspan><tspan font-size="39.5" dy="-31" dx="0.4">3</tspan></text></g>
<g transform="translate(623.6,269.9) scale(0.963,1)"><text font-size="62.1" letter-spacing="-0.4">G<tspan dx="-2.1">O</tspan><tspan dx="-1.25">R</tspan><tspan dx="-2.3">:</tspan><tspan dx="5.65"> </tspan><tspan dx="1.5">1</tspan><tspan dx="-1.5"> </tspan>Sm<tspan font-size="39.5" dy="-31">3</tspan><tspan dy="31" dx="2">/</tspan><tspan dx="1.4">m</tspan><tspan font-size="39.5" dy="-31" dx="0.4">3</tspan></text><rect x="178.52" y="-5.28" width="12.23" height="6.21" fill="#fff"/><rect x="196.41" y="-5.28" width="11.92" height="6.21" fill="#fff"/></g>
<g transform="translate(623.6,332.7) scale(0.963,1)"><text font-size="62.1" letter-spacing="-0.4">G<tspan dx="-2.1">O</tspan><tspan dx="-1.25">R</tspan><tspan dx="-2.3">:</tspan><tspan dx="5.65"> </tspan>2 Sm<tspan font-size="39.5" dy="-31">3</tspan><tspan dy="31" dx="2">/</tspan><tspan dx="1.4">m</tspan><tspan font-size="39.5" dy="-31" dx="0.4">3</tspan></text></g>
<g transform="translate(623.6,389) scale(0.963,1)"><text font-size="62.1" letter-spacing="-0.4">G<tspan dx="-2.1">O</tspan><tspan dx="-1.25">R</tspan><tspan dx="-2.3">:</tspan><tspan dx="5.65"> </tspan>3 Sm<tspan font-size="39.5" dy="-31">3</tspan><tspan dy="31" dx="2">/</tspan><tspan dx="1.4">m</tspan><tspan font-size="39.5" dy="-31" dx="0.4">3</tspan></text></g>
<g transform="translate(623.6,451.5) scale(0.963,1)"><text font-size="62.1" letter-spacing="-0.4">G<tspan dx="-2.1">O</tspan><tspan dx="-1.25">R</tspan><tspan dx="-2.3">:</tspan><tspan dx="5.65"> </tspan>4 Sm<tspan font-size="39.5" dy="-31">3</tspan><tspan dy="31" dx="2">/</tspan><tspan dx="1.4">m</tspan><tspan font-size="39.5" dy="-31" dx="0.4">3</tspan></text></g>
<g transform="translate(623.6,513.7) scale(0.963,1)"><text font-size="62.1" letter-spacing="-0.4">G<tspan dx="-2.1">O</tspan><tspan dx="-1.25">R</tspan><tspan dx="-2.3">:</tspan><tspan dx="5.65"> </tspan>5 Sm<tspan font-size="39.5" dy="-31">3</tspan><tspan dy="31" dx="2">/</tspan><tspan dx="1.4">m</tspan><tspan font-size="39.5" dy="-31" dx="0.4">3</tspan></text></g>
<g transform="translate(623.6,577.6) scale(0.963,1)"><text font-size="62.1" letter-spacing="-0.4">G<tspan dx="-2.1">O</tspan><tspan dx="-1.25">R</tspan><tspan dx="-2.3">:</tspan><tspan dx="5.65"> </tspan>6 Sm<tspan font-size="39.5" dy="-31">3</tspan><tspan dy="31" dx="2">/</tspan><tspan dx="1.4">m</tspan><tspan font-size="39.5" dy="-31" dx="0.4">3</tspan></text></g>
<g transform="translate(623.6,632.8) scale(0.963,1)"><text font-size="62.1" letter-spacing="-0.4">G<tspan dx="-2.1">O</tspan><tspan dx="-1.25">R</tspan><tspan dx="-2.3">:</tspan><tspan dx="5.65"> </tspan>7 Sm<tspan font-size="39.5" dy="-31">3</tspan><tspan dy="31" dx="2">/</tspan><tspan dx="1.4">m</tspan><tspan font-size="39.5" dy="-31" dx="0.4">3</tspan></text></g>
<g transform="translate(623.6,699.8) scale(0.963,1)"><text font-size="62.1" letter-spacing="-0.4">G<tspan dx="-2.1">O</tspan><tspan dx="-1.25">R</tspan><tspan dx="-2.3">:</tspan><tspan dx="5.65"> </tspan>8 Sm<tspan font-size="39.5" dy="-31">3</tspan><tspan dy="31" dx="2">/</tspan><tspan dx="1.4">m</tspan><tspan font-size="39.5" dy="-31" dx="0.4">3</tspan></text></g>
<g transform="translate(226.1,1291.8) scale(0.955,1)"><text font-size="61.5" text-anchor="end">20</text></g>
<g transform="translate(226.1,984.9) scale(0.955,1)"><text font-size="61.5" text-anchor="end">40</text></g>
<g transform="translate(226.1,677.9) scale(0.955,1)"><text font-size="61.5" text-anchor="end">60</text></g>
<g transform="translate(226.1,371.0) scale(0.955,1)"><text font-size="61.5" text-anchor="end">80</text></g>
<g transform="translate(226.1,64.0) scale(0.955,1)"><text x="-102.61" font-size="61.5"><tspan dx="4.5">1</tspan><tspan dx="-3">0</tspan><tspan dx="-1.5">0</tspan></text><rect x="-95.03" y="-5.23" width="12.12" height="6.15" fill="#fff"/><rect x="-77.32" y="-5.23" width="11.81" height="6.15" fill="#fff"/></g>
<g transform="translate(255.7,1649) scale(0.955,1)"><text font-size="61.5" text-anchor="middle">0</text></g>
<g transform="translate(683.6,1649) scale(0.955,1)"><text font-size="61.5" text-anchor="middle">1</text><rect x="-14.03" y="-5.23" width="12.12" height="6.15" fill="#fff"/><rect x="3.68" y="-5.23" width="11.81" height="6.15" fill="#fff"/></g>
<g transform="translate(1105.5,1649) scale(0.955,1)"><text font-size="61.5" text-anchor="middle">2</text></g>
<g transform="translate(1530.4,1649) scale(0.955,1)"><text font-size="61.5" text-anchor="middle">3</text></g>
<g transform="translate(1955.3,1649) scale(0.955,1)"><text font-size="61.5" text-anchor="middle">4</text></g>
<g transform="translate(2380.2,1649) scale(0.955,1)"><text font-size="61.5" text-anchor="middle">5</text></g>
<text transform="translate(1135.2,1753) scale(0.963,1)" font-size="75.5" letter-spacing="-1.35">T<tspan dx="-2.3">i</tspan><tspan dx="2.08">m</tspan><tspan dx="-2.08">e</tspan><tspan dx="1.87">,</tspan> <tspan dx="0.21">y</tspan><tspan dx="-6.23">e</tspan><tspan dx="3.0">a</tspan><tspan dx="2.2">r</tspan><tspan dx="-1.04">s</tspan></text>
<text transform="translate(80.5,1121.5) rotate(-90) scale(0.963,1)" font-size="75.5" letter-spacing="-1.67">Oil recovery factor, %</text>
</svg>
</body></html>
